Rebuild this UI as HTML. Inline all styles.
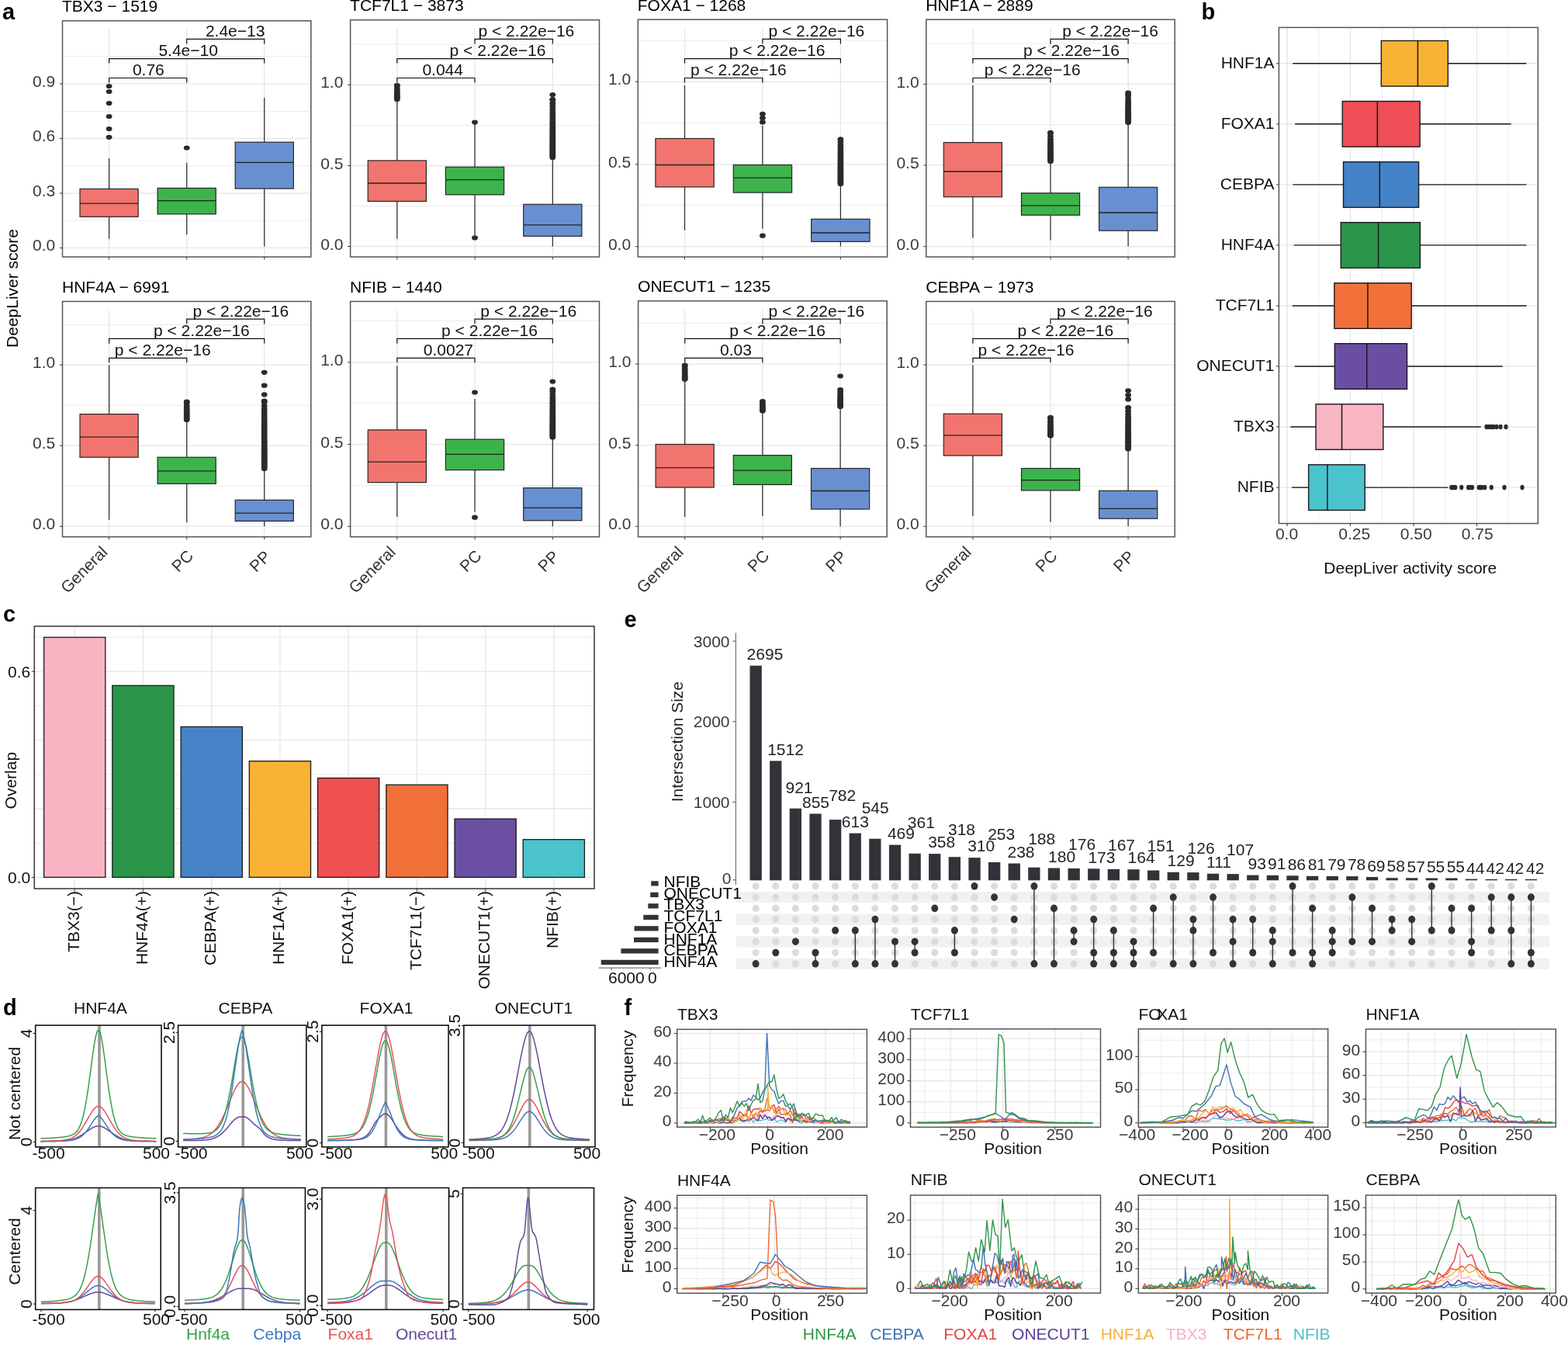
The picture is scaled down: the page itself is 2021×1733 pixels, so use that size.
<!DOCTYPE html>
<html><head><meta charset="utf-8"><style>html,body{margin:0;padding:0;background:#fff;overflow:hidden;width:2021px;height:1733px;}svg{display:block;}</style></head>
<body><svg width="2021" height="1733" viewBox="0 0 2021 1733" font-family="Liberation Sans, Arial, sans-serif">
<rect x="0" y="0" width="2021" height="1733" fill="#fff"/>
<line x1="80.5" y1="284.2" x2="400.8" y2="284.2" stroke="#e6e6e6" stroke-width="0.8"/>
<line x1="80.5" y1="213.8" x2="400.8" y2="213.8" stroke="#e6e6e6" stroke-width="0.8"/>
<line x1="80.5" y1="143.4" x2="400.8" y2="143.4" stroke="#e6e6e6" stroke-width="0.8"/>
<line x1="80.5" y1="72.5" x2="400.8" y2="72.5" stroke="#e6e6e6" stroke-width="0.8"/>
<line x1="80.5" y1="319.4" x2="400.8" y2="319.4" stroke="#e6e6e6" stroke-width="1.3"/>
<line x1="80.5" y1="249" x2="400.8" y2="249" stroke="#e6e6e6" stroke-width="1.3"/>
<line x1="80.5" y1="178.4" x2="400.8" y2="178.4" stroke="#e6e6e6" stroke-width="1.3"/>
<line x1="80.5" y1="107.9" x2="400.8" y2="107.9" stroke="#e6e6e6" stroke-width="1.3"/>
<line x1="140.6" y1="37.8" x2="140.6" y2="328" stroke="#e6e6e6" stroke-width="1.3"/>
<line x1="240.7" y1="37.8" x2="240.7" y2="328" stroke="#e6e6e6" stroke-width="1.3"/>
<line x1="340.7" y1="37.8" x2="340.7" y2="328" stroke="#e6e6e6" stroke-width="1.3"/>
<line x1="140.6" y1="203.9" x2="140.6" y2="243.4" stroke="#262626" stroke-width="1.2"/>
<line x1="140.6" y1="279.3" x2="140.6" y2="307.5" stroke="#262626" stroke-width="1.2"/>
<rect x="103" y="243.4" width="75.1" height="35.9" fill="#F1756E" stroke="#262626" stroke-width="1.2"/>
<line x1="103" y1="262.2" x2="178.1" y2="262.2" stroke="#222" stroke-width="1.3"/>
<ellipse cx="140.6" cy="111" rx="3.9" ry="3.1" fill="#2a2a2a"/>
<ellipse cx="140.6" cy="118" rx="3.9" ry="3.1" fill="#2a2a2a"/>
<ellipse cx="140.6" cy="133" rx="3.9" ry="3.1" fill="#2a2a2a"/>
<ellipse cx="140.6" cy="150" rx="3.9" ry="3.1" fill="#2a2a2a"/>
<ellipse cx="140.6" cy="166" rx="3.9" ry="3.1" fill="#2a2a2a"/>
<ellipse cx="140.6" cy="176.8" rx="3.9" ry="3.1" fill="#2a2a2a"/>
<line x1="240.7" y1="209.7" x2="240.7" y2="242.4" stroke="#262626" stroke-width="1.2"/>
<line x1="240.7" y1="275.8" x2="240.7" y2="302.2" stroke="#262626" stroke-width="1.2"/>
<rect x="203.1" y="242.4" width="75.1" height="33.4" fill="#3CB44B" stroke="#262626" stroke-width="1.2"/>
<line x1="203.1" y1="258.6" x2="278.2" y2="258.6" stroke="#222" stroke-width="1.3"/>
<ellipse cx="240.7" cy="190.5" rx="3.9" ry="3.1" fill="#2a2a2a"/>
<line x1="340.7" y1="126" x2="340.7" y2="183.2" stroke="#262626" stroke-width="1.2"/>
<line x1="340.7" y1="243" x2="340.7" y2="317.5" stroke="#262626" stroke-width="1.2"/>
<rect x="303.2" y="183.2" width="75.1" height="59.8" fill="#6890D0" stroke="#262626" stroke-width="1.2"/>
<line x1="303.2" y1="209.3" x2="378.3" y2="209.3" stroke="#222" stroke-width="1.3"/>
<rect x="80.5" y="26.8" width="320.3" height="304.2" fill="none" stroke="#555" stroke-width="1.5"/>
<line x1="77" y1="319.4" x2="80.5" y2="319.4" stroke="#333" stroke-width="1"/>
<text x="71.3" y="323.4" font-size="21" text-anchor="end" fill="#3a3a3a">0.0</text>
<line x1="77" y1="249" x2="80.5" y2="249" stroke="#333" stroke-width="1"/>
<text x="71.3" y="253" font-size="21" text-anchor="end" fill="#3a3a3a">0.3</text>
<line x1="77" y1="178.4" x2="80.5" y2="178.4" stroke="#333" stroke-width="1"/>
<text x="71.3" y="182.4" font-size="21" text-anchor="end" fill="#3a3a3a">0.6</text>
<line x1="77" y1="107.9" x2="80.5" y2="107.9" stroke="#333" stroke-width="1"/>
<text x="71.3" y="111.9" font-size="21" text-anchor="end" fill="#3a3a3a">0.9</text>
<line x1="140.6" y1="331" x2="140.6" y2="334.5" stroke="#333" stroke-width="1"/>
<line x1="240.7" y1="331" x2="240.7" y2="334.5" stroke="#333" stroke-width="1"/>
<line x1="340.7" y1="331" x2="340.7" y2="334.5" stroke="#333" stroke-width="1"/>
<text x="80" y="15.3" font-size="21">TBX3 − 1519</text>
<path d="M140.6 106.5 V100.5 H240.7 V106.5" stroke="#111" stroke-width="1.2" fill="none"/>
<text x="170.9" y="97.2" font-size="21" fill="#111">0.76</text>
<path d="M140.6 81.6 V75.6 H340.7 V81.6" stroke="#111" stroke-width="1.2" fill="none"/>
<text x="204.4" y="72.2" font-size="21" fill="#111">5.4e−10</text>
<path d="M240.7 56.4 V50.4 H340.7 V56.4" stroke="#111" stroke-width="1.2" fill="none"/>
<text x="264.9" y="47.3" font-size="21" fill="#111">2.4e−13</text>
<line x1="451.6" y1="265.4" x2="772.5" y2="265.4" stroke="#e6e6e6" stroke-width="0.8"/>
<line x1="451.6" y1="161.6" x2="772.5" y2="161.6" stroke="#e6e6e6" stroke-width="0.8"/>
<line x1="451.6" y1="57.2" x2="772.5" y2="57.2" stroke="#e6e6e6" stroke-width="0.8"/>
<line x1="451.6" y1="317.5" x2="772.5" y2="317.5" stroke="#e6e6e6" stroke-width="1.3"/>
<line x1="451.6" y1="213.5" x2="772.5" y2="213.5" stroke="#e6e6e6" stroke-width="1.3"/>
<line x1="451.6" y1="109.3" x2="772.5" y2="109.3" stroke="#e6e6e6" stroke-width="1.3"/>
<line x1="511.8" y1="36.7" x2="511.8" y2="328" stroke="#e6e6e6" stroke-width="1.3"/>
<line x1="612" y1="36.7" x2="612" y2="328" stroke="#e6e6e6" stroke-width="1.3"/>
<line x1="712.3" y1="36.7" x2="712.3" y2="328" stroke="#e6e6e6" stroke-width="1.3"/>
<line x1="511.8" y1="128" x2="511.8" y2="206.9" stroke="#262626" stroke-width="1.2"/>
<line x1="511.8" y1="259.4" x2="511.8" y2="307.5" stroke="#262626" stroke-width="1.2"/>
<rect x="474.2" y="206.9" width="75.2" height="52.5" fill="#F1756E" stroke="#262626" stroke-width="1.2"/>
<line x1="474.2" y1="236" x2="549.4" y2="236" stroke="#222" stroke-width="1.3"/>
<ellipse cx="511.8" cy="128" rx="3.9" ry="3.1" fill="#2a2a2a"/>
<ellipse cx="511.8" cy="126.4" rx="3.9" ry="3.1" fill="#2a2a2a"/>
<ellipse cx="511.8" cy="124.8" rx="3.9" ry="3.1" fill="#2a2a2a"/>
<ellipse cx="511.8" cy="123.1" rx="3.9" ry="3.1" fill="#2a2a2a"/>
<ellipse cx="511.8" cy="121.2" rx="3.9" ry="3.1" fill="#2a2a2a"/>
<ellipse cx="511.8" cy="119.2" rx="3.9" ry="3.1" fill="#2a2a2a"/>
<ellipse cx="511.8" cy="116.8" rx="3.9" ry="3.1" fill="#2a2a2a"/>
<ellipse cx="511.8" cy="114" rx="3.9" ry="3.1" fill="#2a2a2a"/>
<ellipse cx="511.8" cy="110.4" rx="3.9" ry="3.1" fill="#2a2a2a"/>
<ellipse cx="511.8" cy="110" rx="3.9" ry="3.1" fill="#2a2a2a"/>
<line x1="612" y1="158" x2="612" y2="215.2" stroke="#262626" stroke-width="1.2"/>
<line x1="612" y1="250.9" x2="612" y2="303" stroke="#262626" stroke-width="1.2"/>
<rect x="574.4" y="215.2" width="75.2" height="35.7" fill="#3CB44B" stroke="#262626" stroke-width="1.2"/>
<line x1="574.4" y1="231.7" x2="649.7" y2="231.7" stroke="#222" stroke-width="1.3"/>
<ellipse cx="612" cy="157.6" rx="3.9" ry="3.1" fill="#2a2a2a"/>
<ellipse cx="612" cy="306.4" rx="3.9" ry="3.1" fill="#2a2a2a"/>
<line x1="712.3" y1="203" x2="712.3" y2="263.3" stroke="#262626" stroke-width="1.2"/>
<line x1="712.3" y1="304.3" x2="712.3" y2="317.5" stroke="#262626" stroke-width="1.2"/>
<rect x="674.7" y="263.3" width="75.2" height="41" fill="#6890D0" stroke="#262626" stroke-width="1.2"/>
<line x1="674.7" y1="289.8" x2="749.9" y2="289.8" stroke="#222" stroke-width="1.3"/>
<ellipse cx="712.3" cy="203" rx="3.9" ry="3.1" fill="#2a2a2a"/>
<ellipse cx="712.3" cy="201.4" rx="3.9" ry="3.1" fill="#2a2a2a"/>
<ellipse cx="712.3" cy="199.8" rx="3.9" ry="3.1" fill="#2a2a2a"/>
<ellipse cx="712.3" cy="198.2" rx="3.9" ry="3.1" fill="#2a2a2a"/>
<ellipse cx="712.3" cy="196.6" rx="3.9" ry="3.1" fill="#2a2a2a"/>
<ellipse cx="712.3" cy="195" rx="3.9" ry="3.1" fill="#2a2a2a"/>
<ellipse cx="712.3" cy="193.3" rx="3.9" ry="3.1" fill="#2a2a2a"/>
<ellipse cx="712.3" cy="191.7" rx="3.9" ry="3.1" fill="#2a2a2a"/>
<ellipse cx="712.3" cy="190" rx="3.9" ry="3.1" fill="#2a2a2a"/>
<ellipse cx="712.3" cy="188.3" rx="3.9" ry="3.1" fill="#2a2a2a"/>
<ellipse cx="712.3" cy="186.6" rx="3.9" ry="3.1" fill="#2a2a2a"/>
<ellipse cx="712.3" cy="184.8" rx="3.9" ry="3.1" fill="#2a2a2a"/>
<ellipse cx="712.3" cy="183" rx="3.9" ry="3.1" fill="#2a2a2a"/>
<ellipse cx="712.3" cy="181.2" rx="3.9" ry="3.1" fill="#2a2a2a"/>
<ellipse cx="712.3" cy="179.3" rx="3.9" ry="3.1" fill="#2a2a2a"/>
<ellipse cx="712.3" cy="177.4" rx="3.9" ry="3.1" fill="#2a2a2a"/>
<ellipse cx="712.3" cy="175.4" rx="3.9" ry="3.1" fill="#2a2a2a"/>
<ellipse cx="712.3" cy="173.4" rx="3.9" ry="3.1" fill="#2a2a2a"/>
<ellipse cx="712.3" cy="171.3" rx="3.9" ry="3.1" fill="#2a2a2a"/>
<ellipse cx="712.3" cy="169.1" rx="3.9" ry="3.1" fill="#2a2a2a"/>
<ellipse cx="712.3" cy="166.9" rx="3.9" ry="3.1" fill="#2a2a2a"/>
<ellipse cx="712.3" cy="164.5" rx="3.9" ry="3.1" fill="#2a2a2a"/>
<ellipse cx="712.3" cy="162.1" rx="3.9" ry="3.1" fill="#2a2a2a"/>
<ellipse cx="712.3" cy="159.6" rx="3.9" ry="3.1" fill="#2a2a2a"/>
<ellipse cx="712.3" cy="156.9" rx="3.9" ry="3.1" fill="#2a2a2a"/>
<ellipse cx="712.3" cy="154.1" rx="3.9" ry="3.1" fill="#2a2a2a"/>
<ellipse cx="712.3" cy="151.1" rx="3.9" ry="3.1" fill="#2a2a2a"/>
<ellipse cx="712.3" cy="148" rx="3.9" ry="3.1" fill="#2a2a2a"/>
<ellipse cx="712.3" cy="144.7" rx="3.9" ry="3.1" fill="#2a2a2a"/>
<ellipse cx="712.3" cy="141.1" rx="3.9" ry="3.1" fill="#2a2a2a"/>
<ellipse cx="712.3" cy="137.3" rx="3.9" ry="3.1" fill="#2a2a2a"/>
<ellipse cx="712.3" cy="133.3" rx="3.9" ry="3.1" fill="#2a2a2a"/>
<ellipse cx="712.3" cy="128.9" rx="3.9" ry="3.1" fill="#2a2a2a"/>
<ellipse cx="712.3" cy="128" rx="3.9" ry="3.1" fill="#2a2a2a"/>
<ellipse cx="712.3" cy="122" rx="3.9" ry="3.1" fill="#2a2a2a"/>
<rect x="451.6" y="25.7" width="320.9" height="305.3" fill="none" stroke="#555" stroke-width="1.5"/>
<line x1="448.1" y1="317.5" x2="451.6" y2="317.5" stroke="#333" stroke-width="1"/>
<text x="442.4" y="321.5" font-size="21" text-anchor="end" fill="#3a3a3a">0.0</text>
<line x1="448.1" y1="213.5" x2="451.6" y2="213.5" stroke="#333" stroke-width="1"/>
<text x="442.4" y="217.5" font-size="21" text-anchor="end" fill="#3a3a3a">0.5</text>
<line x1="448.1" y1="109.3" x2="451.6" y2="109.3" stroke="#333" stroke-width="1"/>
<text x="442.4" y="113.3" font-size="21" text-anchor="end" fill="#3a3a3a">1.0</text>
<line x1="511.8" y1="331" x2="511.8" y2="334.5" stroke="#333" stroke-width="1"/>
<line x1="612" y1="331" x2="612" y2="334.5" stroke="#333" stroke-width="1"/>
<line x1="712.3" y1="331" x2="712.3" y2="334.5" stroke="#333" stroke-width="1"/>
<text x="451.1" y="14.2" font-size="21">TCF7L1 − 3873</text>
<path d="M511.8 106.5 V100.5 H612 V106.5" stroke="#111" stroke-width="1.2" fill="none"/>
<text x="544.4" y="97.2" font-size="21" fill="#111">0.044</text>
<path d="M511.8 81.6 V75.6 H712.3 V81.6" stroke="#111" stroke-width="1.2" fill="none"/>
<text x="579.6" y="72.2" font-size="21" fill="#111">p &lt; 2.22e−16</text>
<path d="M612 56.4 V50.4 H712.3 V56.4" stroke="#111" stroke-width="1.2" fill="none"/>
<text x="616.5" y="47.3" font-size="21" fill="#111">p &lt; 2.22e−16</text>
<line x1="822.3" y1="264.4" x2="1143.6" y2="264.4" stroke="#e6e6e6" stroke-width="0.8"/>
<line x1="822.3" y1="158.7" x2="1143.6" y2="158.7" stroke="#e6e6e6" stroke-width="0.8"/>
<line x1="822.3" y1="52.3" x2="1143.6" y2="52.3" stroke="#e6e6e6" stroke-width="0.8"/>
<line x1="822.3" y1="317.7" x2="1143.6" y2="317.7" stroke="#e6e6e6" stroke-width="1.3"/>
<line x1="822.3" y1="211.8" x2="1143.6" y2="211.8" stroke="#e6e6e6" stroke-width="1.3"/>
<line x1="822.3" y1="105.3" x2="1143.6" y2="105.3" stroke="#e6e6e6" stroke-width="1.3"/>
<line x1="882.5" y1="36.2" x2="882.5" y2="328" stroke="#e6e6e6" stroke-width="1.3"/>
<line x1="982.9" y1="36.2" x2="982.9" y2="328" stroke="#e6e6e6" stroke-width="1.3"/>
<line x1="1083.4" y1="36.2" x2="1083.4" y2="328" stroke="#e6e6e6" stroke-width="1.3"/>
<line x1="882.5" y1="110" x2="882.5" y2="178.5" stroke="#262626" stroke-width="1.2"/>
<line x1="882.5" y1="240.9" x2="882.5" y2="296.8" stroke="#262626" stroke-width="1.2"/>
<rect x="844.9" y="178.5" width="75.3" height="62.4" fill="#F1756E" stroke="#262626" stroke-width="1.2"/>
<line x1="844.9" y1="212.5" x2="920.2" y2="212.5" stroke="#222" stroke-width="1.3"/>
<line x1="982.9" y1="161.9" x2="982.9" y2="212.5" stroke="#262626" stroke-width="1.2"/>
<line x1="982.9" y1="248.1" x2="982.9" y2="294.7" stroke="#262626" stroke-width="1.2"/>
<rect x="945.3" y="212.5" width="75.3" height="35.6" fill="#3CB44B" stroke="#262626" stroke-width="1.2"/>
<line x1="945.3" y1="229.1" x2="1020.6" y2="229.1" stroke="#222" stroke-width="1.3"/>
<ellipse cx="982.9" cy="146.9" rx="3.9" ry="3.1" fill="#2a2a2a"/>
<ellipse cx="982.9" cy="152" rx="3.9" ry="3.1" fill="#2a2a2a"/>
<ellipse cx="982.9" cy="157.4" rx="3.9" ry="3.1" fill="#2a2a2a"/>
<ellipse cx="982.9" cy="303.7" rx="3.9" ry="3.1" fill="#2a2a2a"/>
<line x1="1083.4" y1="239" x2="1083.4" y2="282.3" stroke="#262626" stroke-width="1.2"/>
<line x1="1083.4" y1="311.3" x2="1083.4" y2="317.5" stroke="#262626" stroke-width="1.2"/>
<rect x="1045.7" y="282.3" width="75.3" height="29" fill="#6890D0" stroke="#262626" stroke-width="1.2"/>
<line x1="1045.7" y1="300" x2="1121" y2="300" stroke="#222" stroke-width="1.3"/>
<ellipse cx="1083.4" cy="237" rx="3.9" ry="3.1" fill="#2a2a2a"/>
<ellipse cx="1083.4" cy="235.4" rx="3.9" ry="3.1" fill="#2a2a2a"/>
<ellipse cx="1083.4" cy="233.8" rx="3.9" ry="3.1" fill="#2a2a2a"/>
<ellipse cx="1083.4" cy="232.2" rx="3.9" ry="3.1" fill="#2a2a2a"/>
<ellipse cx="1083.4" cy="230.6" rx="3.9" ry="3.1" fill="#2a2a2a"/>
<ellipse cx="1083.4" cy="228.9" rx="3.9" ry="3.1" fill="#2a2a2a"/>
<ellipse cx="1083.4" cy="227.3" rx="3.9" ry="3.1" fill="#2a2a2a"/>
<ellipse cx="1083.4" cy="225.6" rx="3.9" ry="3.1" fill="#2a2a2a"/>
<ellipse cx="1083.4" cy="223.8" rx="3.9" ry="3.1" fill="#2a2a2a"/>
<ellipse cx="1083.4" cy="222.1" rx="3.9" ry="3.1" fill="#2a2a2a"/>
<ellipse cx="1083.4" cy="220.3" rx="3.9" ry="3.1" fill="#2a2a2a"/>
<ellipse cx="1083.4" cy="218.4" rx="3.9" ry="3.1" fill="#2a2a2a"/>
<ellipse cx="1083.4" cy="216.5" rx="3.9" ry="3.1" fill="#2a2a2a"/>
<ellipse cx="1083.4" cy="214.5" rx="3.9" ry="3.1" fill="#2a2a2a"/>
<ellipse cx="1083.4" cy="212.4" rx="3.9" ry="3.1" fill="#2a2a2a"/>
<ellipse cx="1083.4" cy="210.2" rx="3.9" ry="3.1" fill="#2a2a2a"/>
<ellipse cx="1083.4" cy="207.9" rx="3.9" ry="3.1" fill="#2a2a2a"/>
<ellipse cx="1083.4" cy="205.5" rx="3.9" ry="3.1" fill="#2a2a2a"/>
<ellipse cx="1083.4" cy="202.9" rx="3.9" ry="3.1" fill="#2a2a2a"/>
<ellipse cx="1083.4" cy="200.2" rx="3.9" ry="3.1" fill="#2a2a2a"/>
<ellipse cx="1083.4" cy="197.3" rx="3.9" ry="3.1" fill="#2a2a2a"/>
<ellipse cx="1083.4" cy="194.2" rx="3.9" ry="3.1" fill="#2a2a2a"/>
<ellipse cx="1083.4" cy="190.8" rx="3.9" ry="3.1" fill="#2a2a2a"/>
<ellipse cx="1083.4" cy="187.1" rx="3.9" ry="3.1" fill="#2a2a2a"/>
<ellipse cx="1083.4" cy="183.1" rx="3.9" ry="3.1" fill="#2a2a2a"/>
<ellipse cx="1083.4" cy="179.4" rx="3.9" ry="3.1" fill="#2a2a2a"/>
<rect x="822.3" y="25.2" width="321.3" height="305.8" fill="none" stroke="#555" stroke-width="1.5"/>
<line x1="818.8" y1="317.7" x2="822.3" y2="317.7" stroke="#333" stroke-width="1"/>
<text x="813.1" y="321.7" font-size="21" text-anchor="end" fill="#3a3a3a">0.0</text>
<line x1="818.8" y1="211.8" x2="822.3" y2="211.8" stroke="#333" stroke-width="1"/>
<text x="813.1" y="215.8" font-size="21" text-anchor="end" fill="#3a3a3a">0.5</text>
<line x1="818.8" y1="105.3" x2="822.3" y2="105.3" stroke="#333" stroke-width="1"/>
<text x="813.1" y="109.3" font-size="21" text-anchor="end" fill="#3a3a3a">1.0</text>
<line x1="882.5" y1="331" x2="882.5" y2="334.5" stroke="#333" stroke-width="1"/>
<line x1="982.9" y1="331" x2="982.9" y2="334.5" stroke="#333" stroke-width="1"/>
<line x1="1083.4" y1="331" x2="1083.4" y2="334.5" stroke="#333" stroke-width="1"/>
<text x="821.8" y="13.7" font-size="21">FOXA1 − 1268</text>
<path d="M882.5 106.5 V100.5 H982.9 V106.5" stroke="#111" stroke-width="1.2" fill="none"/>
<text x="890" y="97.2" font-size="21" fill="#111">p &lt; 2.22e−16</text>
<path d="M882.5 81.6 V75.6 H1083.4 V81.6" stroke="#111" stroke-width="1.2" fill="none"/>
<text x="939.7" y="72.2" font-size="21" fill="#111">p &lt; 2.22e−16</text>
<path d="M982.9 56.4 V50.4 H1083.4 V56.4" stroke="#111" stroke-width="1.2" fill="none"/>
<text x="990.5" y="47.3" font-size="21" fill="#111">p &lt; 2.22e−16</text>
<line x1="1193.8" y1="265.4" x2="1514.2" y2="265.4" stroke="#e6e6e6" stroke-width="0.8"/>
<line x1="1193.8" y1="160.6" x2="1514.2" y2="160.6" stroke="#e6e6e6" stroke-width="0.8"/>
<line x1="1193.8" y1="56" x2="1514.2" y2="56" stroke="#e6e6e6" stroke-width="0.8"/>
<line x1="1193.8" y1="317.7" x2="1514.2" y2="317.7" stroke="#e6e6e6" stroke-width="1.3"/>
<line x1="1193.8" y1="212.9" x2="1514.2" y2="212.9" stroke="#e6e6e6" stroke-width="1.3"/>
<line x1="1193.8" y1="108.5" x2="1514.2" y2="108.5" stroke="#e6e6e6" stroke-width="1.3"/>
<line x1="1253.9" y1="36.2" x2="1253.9" y2="328" stroke="#e6e6e6" stroke-width="1.3"/>
<line x1="1354" y1="36.2" x2="1354" y2="328" stroke="#e6e6e6" stroke-width="1.3"/>
<line x1="1454.1" y1="36.2" x2="1454.1" y2="328" stroke="#e6e6e6" stroke-width="1.3"/>
<line x1="1253.9" y1="110" x2="1253.9" y2="183.6" stroke="#262626" stroke-width="1.2"/>
<line x1="1253.9" y1="253.7" x2="1253.9" y2="306.4" stroke="#262626" stroke-width="1.2"/>
<rect x="1216.3" y="183.6" width="75.1" height="70.1" fill="#F1756E" stroke="#262626" stroke-width="1.2"/>
<line x1="1216.3" y1="221" x2="1291.4" y2="221" stroke="#222" stroke-width="1.3"/>
<line x1="1354" y1="208.2" x2="1354" y2="248.8" stroke="#262626" stroke-width="1.2"/>
<line x1="1354" y1="277.2" x2="1354" y2="309.6" stroke="#262626" stroke-width="1.2"/>
<rect x="1316.5" y="248.8" width="75.1" height="28.4" fill="#3CB44B" stroke="#262626" stroke-width="1.2"/>
<line x1="1316.5" y1="264.8" x2="1391.5" y2="264.8" stroke="#222" stroke-width="1.3"/>
<ellipse cx="1354" cy="208" rx="3.9" ry="3.1" fill="#2a2a2a"/>
<ellipse cx="1354" cy="206.4" rx="3.9" ry="3.1" fill="#2a2a2a"/>
<ellipse cx="1354" cy="204.8" rx="3.9" ry="3.1" fill="#2a2a2a"/>
<ellipse cx="1354" cy="203.2" rx="3.9" ry="3.1" fill="#2a2a2a"/>
<ellipse cx="1354" cy="201.5" rx="3.9" ry="3.1" fill="#2a2a2a"/>
<ellipse cx="1354" cy="199.8" rx="3.9" ry="3.1" fill="#2a2a2a"/>
<ellipse cx="1354" cy="198.1" rx="3.9" ry="3.1" fill="#2a2a2a"/>
<ellipse cx="1354" cy="196.2" rx="3.9" ry="3.1" fill="#2a2a2a"/>
<ellipse cx="1354" cy="194.3" rx="3.9" ry="3.1" fill="#2a2a2a"/>
<ellipse cx="1354" cy="192.3" rx="3.9" ry="3.1" fill="#2a2a2a"/>
<ellipse cx="1354" cy="190.1" rx="3.9" ry="3.1" fill="#2a2a2a"/>
<ellipse cx="1354" cy="187.8" rx="3.9" ry="3.1" fill="#2a2a2a"/>
<ellipse cx="1354" cy="185.2" rx="3.9" ry="3.1" fill="#2a2a2a"/>
<ellipse cx="1354" cy="182.4" rx="3.9" ry="3.1" fill="#2a2a2a"/>
<ellipse cx="1354" cy="179.3" rx="3.9" ry="3.1" fill="#2a2a2a"/>
<ellipse cx="1354" cy="175.8" rx="3.9" ry="3.1" fill="#2a2a2a"/>
<ellipse cx="1354" cy="171.8" rx="3.9" ry="3.1" fill="#2a2a2a"/>
<ellipse cx="1354" cy="170.8" rx="3.9" ry="3.1" fill="#2a2a2a"/>
<line x1="1454.1" y1="158" x2="1454.1" y2="241.3" stroke="#262626" stroke-width="1.2"/>
<line x1="1454.1" y1="297.2" x2="1454.1" y2="317.5" stroke="#262626" stroke-width="1.2"/>
<rect x="1416.6" y="241.3" width="75.1" height="55.9" fill="#6890D0" stroke="#262626" stroke-width="1.2"/>
<line x1="1416.6" y1="274" x2="1491.7" y2="274" stroke="#222" stroke-width="1.3"/>
<ellipse cx="1454.1" cy="158" rx="3.9" ry="3.1" fill="#2a2a2a"/>
<ellipse cx="1454.1" cy="156.4" rx="3.9" ry="3.1" fill="#2a2a2a"/>
<ellipse cx="1454.1" cy="154.8" rx="3.9" ry="3.1" fill="#2a2a2a"/>
<ellipse cx="1454.1" cy="153.2" rx="3.9" ry="3.1" fill="#2a2a2a"/>
<ellipse cx="1454.1" cy="151.5" rx="3.9" ry="3.1" fill="#2a2a2a"/>
<ellipse cx="1454.1" cy="149.8" rx="3.9" ry="3.1" fill="#2a2a2a"/>
<ellipse cx="1454.1" cy="148.1" rx="3.9" ry="3.1" fill="#2a2a2a"/>
<ellipse cx="1454.1" cy="146.3" rx="3.9" ry="3.1" fill="#2a2a2a"/>
<ellipse cx="1454.1" cy="144.4" rx="3.9" ry="3.1" fill="#2a2a2a"/>
<ellipse cx="1454.1" cy="142.4" rx="3.9" ry="3.1" fill="#2a2a2a"/>
<ellipse cx="1454.1" cy="140.2" rx="3.9" ry="3.1" fill="#2a2a2a"/>
<ellipse cx="1454.1" cy="138" rx="3.9" ry="3.1" fill="#2a2a2a"/>
<ellipse cx="1454.1" cy="135.5" rx="3.9" ry="3.1" fill="#2a2a2a"/>
<ellipse cx="1454.1" cy="132.8" rx="3.9" ry="3.1" fill="#2a2a2a"/>
<ellipse cx="1454.1" cy="129.8" rx="3.9" ry="3.1" fill="#2a2a2a"/>
<ellipse cx="1454.1" cy="126.5" rx="3.9" ry="3.1" fill="#2a2a2a"/>
<ellipse cx="1454.1" cy="122.7" rx="3.9" ry="3.1" fill="#2a2a2a"/>
<ellipse cx="1454.1" cy="119.6" rx="3.9" ry="3.1" fill="#2a2a2a"/>
<rect x="1193.8" y="25.2" width="320.4" height="305.8" fill="none" stroke="#555" stroke-width="1.5"/>
<line x1="1190.3" y1="317.7" x2="1193.8" y2="317.7" stroke="#333" stroke-width="1"/>
<text x="1184.6" y="321.7" font-size="21" text-anchor="end" fill="#3a3a3a">0.0</text>
<line x1="1190.3" y1="212.9" x2="1193.8" y2="212.9" stroke="#333" stroke-width="1"/>
<text x="1184.6" y="216.9" font-size="21" text-anchor="end" fill="#3a3a3a">0.5</text>
<line x1="1190.3" y1="108.5" x2="1193.8" y2="108.5" stroke="#333" stroke-width="1"/>
<text x="1184.6" y="112.5" font-size="21" text-anchor="end" fill="#3a3a3a">1.0</text>
<line x1="1253.9" y1="331" x2="1253.9" y2="334.5" stroke="#333" stroke-width="1"/>
<line x1="1354" y1="331" x2="1354" y2="334.5" stroke="#333" stroke-width="1"/>
<line x1="1454.1" y1="331" x2="1454.1" y2="334.5" stroke="#333" stroke-width="1"/>
<text x="1193.3" y="13.7" font-size="21">HNF1A − 2889</text>
<path d="M1253.9 106.5 V100.5 H1354 V106.5" stroke="#111" stroke-width="1.2" fill="none"/>
<text x="1268.8" y="97.2" font-size="21" fill="#111">p &lt; 2.22e−16</text>
<path d="M1253.9 81.6 V75.6 H1454.1 V81.6" stroke="#111" stroke-width="1.2" fill="none"/>
<text x="1319.1" y="72.2" font-size="21" fill="#111">p &lt; 2.22e−16</text>
<path d="M1354 56.4 V50.4 H1454.1 V56.4" stroke="#111" stroke-width="1.2" fill="none"/>
<text x="1369.2" y="47.3" font-size="21" fill="#111">p &lt; 2.22e−16</text>
<line x1="80.5" y1="626.1" x2="400.8" y2="626.1" stroke="#e6e6e6" stroke-width="0.8"/>
<line x1="80.5" y1="522.3" x2="400.8" y2="522.3" stroke="#e6e6e6" stroke-width="0.8"/>
<line x1="80.5" y1="418.3" x2="400.8" y2="418.3" stroke="#e6e6e6" stroke-width="0.8"/>
<line x1="80.5" y1="678.2" x2="400.8" y2="678.2" stroke="#e6e6e6" stroke-width="1.3"/>
<line x1="80.5" y1="574.2" x2="400.8" y2="574.2" stroke="#e6e6e6" stroke-width="1.3"/>
<line x1="80.5" y1="470.2" x2="400.8" y2="470.2" stroke="#e6e6e6" stroke-width="1.3"/>
<line x1="140.6" y1="399.4" x2="140.6" y2="688.7" stroke="#e6e6e6" stroke-width="1.3"/>
<line x1="240.7" y1="399.4" x2="240.7" y2="688.7" stroke="#e6e6e6" stroke-width="1.3"/>
<line x1="340.7" y1="399.4" x2="340.7" y2="688.7" stroke="#e6e6e6" stroke-width="1.3"/>
<line x1="140.6" y1="470.2" x2="140.6" y2="533.6" stroke="#262626" stroke-width="1.2"/>
<line x1="140.6" y1="589.2" x2="140.6" y2="669.7" stroke="#262626" stroke-width="1.2"/>
<rect x="103" y="533.6" width="75.1" height="55.6" fill="#F1756E" stroke="#262626" stroke-width="1.2"/>
<line x1="103" y1="563.1" x2="178.1" y2="563.1" stroke="#222" stroke-width="1.3"/>
<line x1="240.7" y1="541" x2="240.7" y2="589.2" stroke="#262626" stroke-width="1.2"/>
<line x1="240.7" y1="623.3" x2="240.7" y2="672.9" stroke="#262626" stroke-width="1.2"/>
<rect x="203.1" y="589.2" width="75.1" height="34.1" fill="#3CB44B" stroke="#262626" stroke-width="1.2"/>
<line x1="203.1" y1="606.9" x2="278.2" y2="606.9" stroke="#222" stroke-width="1.3"/>
<ellipse cx="240.7" cy="541" rx="3.9" ry="3.1" fill="#2a2a2a"/>
<ellipse cx="240.7" cy="539.4" rx="3.9" ry="3.1" fill="#2a2a2a"/>
<ellipse cx="240.7" cy="537.8" rx="3.9" ry="3.1" fill="#2a2a2a"/>
<ellipse cx="240.7" cy="536.1" rx="3.9" ry="3.1" fill="#2a2a2a"/>
<ellipse cx="240.7" cy="534.4" rx="3.9" ry="3.1" fill="#2a2a2a"/>
<ellipse cx="240.7" cy="532.5" rx="3.9" ry="3.1" fill="#2a2a2a"/>
<ellipse cx="240.7" cy="530.5" rx="3.9" ry="3.1" fill="#2a2a2a"/>
<ellipse cx="240.7" cy="528.3" rx="3.9" ry="3.1" fill="#2a2a2a"/>
<ellipse cx="240.7" cy="525.7" rx="3.9" ry="3.1" fill="#2a2a2a"/>
<ellipse cx="240.7" cy="522.8" rx="3.9" ry="3.1" fill="#2a2a2a"/>
<ellipse cx="240.7" cy="519.2" rx="3.9" ry="3.1" fill="#2a2a2a"/>
<ellipse cx="240.7" cy="517.6" rx="3.9" ry="3.1" fill="#2a2a2a"/>
<line x1="340.7" y1="604.1" x2="340.7" y2="644.3" stroke="#262626" stroke-width="1.2"/>
<line x1="340.7" y1="671.4" x2="340.7" y2="678.2" stroke="#262626" stroke-width="1.2"/>
<rect x="303.2" y="644.3" width="75.1" height="27.1" fill="#6890D0" stroke="#262626" stroke-width="1.2"/>
<line x1="303.2" y1="661.1" x2="378.3" y2="661.1" stroke="#222" stroke-width="1.3"/>
<ellipse cx="340.7" cy="604" rx="3.9" ry="3.1" fill="#2a2a2a"/>
<ellipse cx="340.7" cy="602.4" rx="3.9" ry="3.1" fill="#2a2a2a"/>
<ellipse cx="340.7" cy="600.8" rx="3.9" ry="3.1" fill="#2a2a2a"/>
<ellipse cx="340.7" cy="599.2" rx="3.9" ry="3.1" fill="#2a2a2a"/>
<ellipse cx="340.7" cy="597.6" rx="3.9" ry="3.1" fill="#2a2a2a"/>
<ellipse cx="340.7" cy="596" rx="3.9" ry="3.1" fill="#2a2a2a"/>
<ellipse cx="340.7" cy="594.3" rx="3.9" ry="3.1" fill="#2a2a2a"/>
<ellipse cx="340.7" cy="592.7" rx="3.9" ry="3.1" fill="#2a2a2a"/>
<ellipse cx="340.7" cy="591" rx="3.9" ry="3.1" fill="#2a2a2a"/>
<ellipse cx="340.7" cy="589.4" rx="3.9" ry="3.1" fill="#2a2a2a"/>
<ellipse cx="340.7" cy="587.7" rx="3.9" ry="3.1" fill="#2a2a2a"/>
<ellipse cx="340.7" cy="586" rx="3.9" ry="3.1" fill="#2a2a2a"/>
<ellipse cx="340.7" cy="584.2" rx="3.9" ry="3.1" fill="#2a2a2a"/>
<ellipse cx="340.7" cy="582.5" rx="3.9" ry="3.1" fill="#2a2a2a"/>
<ellipse cx="340.7" cy="580.7" rx="3.9" ry="3.1" fill="#2a2a2a"/>
<ellipse cx="340.7" cy="578.9" rx="3.9" ry="3.1" fill="#2a2a2a"/>
<ellipse cx="340.7" cy="577" rx="3.9" ry="3.1" fill="#2a2a2a"/>
<ellipse cx="340.7" cy="575.1" rx="3.9" ry="3.1" fill="#2a2a2a"/>
<ellipse cx="340.7" cy="573.1" rx="3.9" ry="3.1" fill="#2a2a2a"/>
<ellipse cx="340.7" cy="571.1" rx="3.9" ry="3.1" fill="#2a2a2a"/>
<ellipse cx="340.7" cy="569.1" rx="3.9" ry="3.1" fill="#2a2a2a"/>
<ellipse cx="340.7" cy="567" rx="3.9" ry="3.1" fill="#2a2a2a"/>
<ellipse cx="340.7" cy="564.8" rx="3.9" ry="3.1" fill="#2a2a2a"/>
<ellipse cx="340.7" cy="562.6" rx="3.9" ry="3.1" fill="#2a2a2a"/>
<ellipse cx="340.7" cy="560.2" rx="3.9" ry="3.1" fill="#2a2a2a"/>
<ellipse cx="340.7" cy="557.8" rx="3.9" ry="3.1" fill="#2a2a2a"/>
<ellipse cx="340.7" cy="555.3" rx="3.9" ry="3.1" fill="#2a2a2a"/>
<ellipse cx="340.7" cy="552.7" rx="3.9" ry="3.1" fill="#2a2a2a"/>
<ellipse cx="340.7" cy="550" rx="3.9" ry="3.1" fill="#2a2a2a"/>
<ellipse cx="340.7" cy="547.2" rx="3.9" ry="3.1" fill="#2a2a2a"/>
<ellipse cx="340.7" cy="544.3" rx="3.9" ry="3.1" fill="#2a2a2a"/>
<ellipse cx="340.7" cy="541.2" rx="3.9" ry="3.1" fill="#2a2a2a"/>
<ellipse cx="340.7" cy="537.9" rx="3.9" ry="3.1" fill="#2a2a2a"/>
<ellipse cx="340.7" cy="534.5" rx="3.9" ry="3.1" fill="#2a2a2a"/>
<ellipse cx="340.7" cy="530.9" rx="3.9" ry="3.1" fill="#2a2a2a"/>
<ellipse cx="340.7" cy="527" rx="3.9" ry="3.1" fill="#2a2a2a"/>
<ellipse cx="340.7" cy="523" rx="3.9" ry="3.1" fill="#2a2a2a"/>
<ellipse cx="340.7" cy="518.6" rx="3.9" ry="3.1" fill="#2a2a2a"/>
<ellipse cx="340.7" cy="516.6" rx="3.9" ry="3.1" fill="#2a2a2a"/>
<ellipse cx="340.7" cy="508.4" rx="3.9" ry="3.1" fill="#2a2a2a"/>
<ellipse cx="340.7" cy="496.7" rx="3.9" ry="3.1" fill="#2a2a2a"/>
<ellipse cx="340.7" cy="479.8" rx="3.9" ry="3.1" fill="#2a2a2a"/>
<rect x="80.5" y="388.4" width="320.3" height="303.3" fill="none" stroke="#555" stroke-width="1.5"/>
<line x1="77" y1="678.2" x2="80.5" y2="678.2" stroke="#333" stroke-width="1"/>
<text x="71.3" y="682.2" font-size="21" text-anchor="end" fill="#3a3a3a">0.0</text>
<line x1="77" y1="574.2" x2="80.5" y2="574.2" stroke="#333" stroke-width="1"/>
<text x="71.3" y="578.2" font-size="21" text-anchor="end" fill="#3a3a3a">0.5</text>
<line x1="77" y1="470.2" x2="80.5" y2="470.2" stroke="#333" stroke-width="1"/>
<text x="71.3" y="474.2" font-size="21" text-anchor="end" fill="#3a3a3a">1.0</text>
<line x1="140.6" y1="691.7" x2="140.6" y2="695.2" stroke="#333" stroke-width="1"/>
<line x1="240.7" y1="691.7" x2="240.7" y2="695.2" stroke="#333" stroke-width="1"/>
<line x1="340.7" y1="691.7" x2="340.7" y2="695.2" stroke="#333" stroke-width="1"/>
<text x="80" y="376.9" font-size="21">HNF4A − 6991</text>
<path d="M140.6 467.3 V461.3 H240.7 V467.3" stroke="#111" stroke-width="1.2" fill="none"/>
<text x="147.8" y="458" font-size="21" fill="#111">p &lt; 2.22e−16</text>
<path d="M140.6 442.4 V436.4 H340.7 V442.4" stroke="#111" stroke-width="1.2" fill="none"/>
<text x="198" y="433" font-size="21" fill="#111">p &lt; 2.22e−16</text>
<path d="M240.7 417.2 V411.2 H340.7 V417.2" stroke="#111" stroke-width="1.2" fill="none"/>
<text x="248.4" y="408.1" font-size="21" fill="#111">p &lt; 2.22e−16</text>
<line x1="451.6" y1="625.5" x2="772.5" y2="625.5" stroke="#e6e6e6" stroke-width="0.8"/>
<line x1="451.6" y1="519.3" x2="772.5" y2="519.3" stroke="#e6e6e6" stroke-width="0.8"/>
<line x1="451.6" y1="413.4" x2="772.5" y2="413.4" stroke="#e6e6e6" stroke-width="0.8"/>
<line x1="451.6" y1="678.2" x2="772.5" y2="678.2" stroke="#e6e6e6" stroke-width="1.3"/>
<line x1="451.6" y1="572.5" x2="772.5" y2="572.5" stroke="#e6e6e6" stroke-width="1.3"/>
<line x1="451.6" y1="466.8" x2="772.5" y2="466.8" stroke="#e6e6e6" stroke-width="1.3"/>
<line x1="511.8" y1="399.4" x2="511.8" y2="688.7" stroke="#e6e6e6" stroke-width="1.3"/>
<line x1="612" y1="399.4" x2="612" y2="688.7" stroke="#e6e6e6" stroke-width="1.3"/>
<line x1="712.3" y1="399.4" x2="712.3" y2="688.7" stroke="#e6e6e6" stroke-width="1.3"/>
<line x1="511.8" y1="471.3" x2="511.8" y2="553.9" stroke="#262626" stroke-width="1.2"/>
<line x1="511.8" y1="621.6" x2="511.8" y2="666" stroke="#262626" stroke-width="1.2"/>
<rect x="474.2" y="553.9" width="75.2" height="67.7" fill="#F1756E" stroke="#262626" stroke-width="1.2"/>
<line x1="474.2" y1="595.1" x2="549.4" y2="595.1" stroke="#222" stroke-width="1.3"/>
<line x1="612" y1="514" x2="612" y2="566.1" stroke="#262626" stroke-width="1.2"/>
<line x1="612" y1="605.6" x2="612" y2="659.6" stroke="#262626" stroke-width="1.2"/>
<rect x="574.4" y="566.1" width="75.2" height="39.5" fill="#3CB44B" stroke="#262626" stroke-width="1.2"/>
<line x1="574.4" y1="585.3" x2="649.7" y2="585.3" stroke="#222" stroke-width="1.3"/>
<ellipse cx="612" cy="505.5" rx="3.9" ry="3.1" fill="#2a2a2a"/>
<ellipse cx="612" cy="666.7" rx="3.9" ry="3.1" fill="#2a2a2a"/>
<line x1="712.3" y1="563.5" x2="712.3" y2="628.7" stroke="#262626" stroke-width="1.2"/>
<line x1="712.3" y1="670.7" x2="712.3" y2="678.2" stroke="#262626" stroke-width="1.2"/>
<rect x="674.7" y="628.7" width="75.2" height="42" fill="#6890D0" stroke="#262626" stroke-width="1.2"/>
<line x1="674.7" y1="654.3" x2="749.9" y2="654.3" stroke="#222" stroke-width="1.3"/>
<ellipse cx="712.3" cy="563.5" rx="3.9" ry="3.1" fill="#2a2a2a"/>
<ellipse cx="712.3" cy="561.9" rx="3.9" ry="3.1" fill="#2a2a2a"/>
<ellipse cx="712.3" cy="560.3" rx="3.9" ry="3.1" fill="#2a2a2a"/>
<ellipse cx="712.3" cy="558.7" rx="3.9" ry="3.1" fill="#2a2a2a"/>
<ellipse cx="712.3" cy="557.1" rx="3.9" ry="3.1" fill="#2a2a2a"/>
<ellipse cx="712.3" cy="555.4" rx="3.9" ry="3.1" fill="#2a2a2a"/>
<ellipse cx="712.3" cy="553.8" rx="3.9" ry="3.1" fill="#2a2a2a"/>
<ellipse cx="712.3" cy="552.1" rx="3.9" ry="3.1" fill="#2a2a2a"/>
<ellipse cx="712.3" cy="550.4" rx="3.9" ry="3.1" fill="#2a2a2a"/>
<ellipse cx="712.3" cy="548.7" rx="3.9" ry="3.1" fill="#2a2a2a"/>
<ellipse cx="712.3" cy="546.9" rx="3.9" ry="3.1" fill="#2a2a2a"/>
<ellipse cx="712.3" cy="545" rx="3.9" ry="3.1" fill="#2a2a2a"/>
<ellipse cx="712.3" cy="543.2" rx="3.9" ry="3.1" fill="#2a2a2a"/>
<ellipse cx="712.3" cy="541.2" rx="3.9" ry="3.1" fill="#2a2a2a"/>
<ellipse cx="712.3" cy="539.2" rx="3.9" ry="3.1" fill="#2a2a2a"/>
<ellipse cx="712.3" cy="537.1" rx="3.9" ry="3.1" fill="#2a2a2a"/>
<ellipse cx="712.3" cy="534.9" rx="3.9" ry="3.1" fill="#2a2a2a"/>
<ellipse cx="712.3" cy="532.6" rx="3.9" ry="3.1" fill="#2a2a2a"/>
<ellipse cx="712.3" cy="530.2" rx="3.9" ry="3.1" fill="#2a2a2a"/>
<ellipse cx="712.3" cy="527.7" rx="3.9" ry="3.1" fill="#2a2a2a"/>
<ellipse cx="712.3" cy="525" rx="3.9" ry="3.1" fill="#2a2a2a"/>
<ellipse cx="712.3" cy="522.2" rx="3.9" ry="3.1" fill="#2a2a2a"/>
<ellipse cx="712.3" cy="519.2" rx="3.9" ry="3.1" fill="#2a2a2a"/>
<ellipse cx="712.3" cy="515.9" rx="3.9" ry="3.1" fill="#2a2a2a"/>
<ellipse cx="712.3" cy="512.5" rx="3.9" ry="3.1" fill="#2a2a2a"/>
<ellipse cx="712.3" cy="508.7" rx="3.9" ry="3.1" fill="#2a2a2a"/>
<ellipse cx="712.3" cy="504.6" rx="3.9" ry="3.1" fill="#2a2a2a"/>
<ellipse cx="712.3" cy="501.6" rx="3.9" ry="3.1" fill="#2a2a2a"/>
<ellipse cx="712.3" cy="491.6" rx="3.9" ry="3.1" fill="#2a2a2a"/>
<rect x="451.6" y="388.4" width="320.9" height="303.3" fill="none" stroke="#555" stroke-width="1.5"/>
<line x1="448.1" y1="678.2" x2="451.6" y2="678.2" stroke="#333" stroke-width="1"/>
<text x="442.4" y="682.2" font-size="21" text-anchor="end" fill="#3a3a3a">0.0</text>
<line x1="448.1" y1="572.5" x2="451.6" y2="572.5" stroke="#333" stroke-width="1"/>
<text x="442.4" y="576.5" font-size="21" text-anchor="end" fill="#3a3a3a">0.5</text>
<line x1="448.1" y1="466.8" x2="451.6" y2="466.8" stroke="#333" stroke-width="1"/>
<text x="442.4" y="470.8" font-size="21" text-anchor="end" fill="#3a3a3a">1.0</text>
<line x1="511.8" y1="691.7" x2="511.8" y2="695.2" stroke="#333" stroke-width="1"/>
<line x1="612" y1="691.7" x2="612" y2="695.2" stroke="#333" stroke-width="1"/>
<line x1="712.3" y1="691.7" x2="712.3" y2="695.2" stroke="#333" stroke-width="1"/>
<text x="451.1" y="376.9" font-size="21">NFIB − 1440</text>
<path d="M511.8 467.3 V461.3 H612 V467.3" stroke="#111" stroke-width="1.2" fill="none"/>
<text x="545.8" y="458" font-size="21" fill="#111">0.0027</text>
<path d="M511.8 442.4 V436.4 H712.3 V442.4" stroke="#111" stroke-width="1.2" fill="none"/>
<text x="569.1" y="433" font-size="21" fill="#111">p &lt; 2.22e−16</text>
<path d="M612 417.2 V411.2 H712.3 V417.2" stroke="#111" stroke-width="1.2" fill="none"/>
<text x="619.3" y="408.1" font-size="21" fill="#111">p &lt; 2.22e−16</text>
<line x1="822.6" y1="625.9" x2="1143.2" y2="625.9" stroke="#e6e6e6" stroke-width="0.8"/>
<line x1="822.6" y1="521.3" x2="1143.2" y2="521.3" stroke="#e6e6e6" stroke-width="0.8"/>
<line x1="822.6" y1="416.6" x2="1143.2" y2="416.6" stroke="#e6e6e6" stroke-width="0.8"/>
<line x1="822.6" y1="678.2" x2="1143.2" y2="678.2" stroke="#e6e6e6" stroke-width="1.3"/>
<line x1="822.6" y1="573.8" x2="1143.2" y2="573.8" stroke="#e6e6e6" stroke-width="1.3"/>
<line x1="822.6" y1="468.9" x2="1143.2" y2="468.9" stroke="#e6e6e6" stroke-width="1.3"/>
<line x1="882.7" y1="398.8" x2="882.7" y2="688.7" stroke="#e6e6e6" stroke-width="1.3"/>
<line x1="982.9" y1="398.8" x2="982.9" y2="688.7" stroke="#e6e6e6" stroke-width="1.3"/>
<line x1="1083.1" y1="398.8" x2="1083.1" y2="688.7" stroke="#e6e6e6" stroke-width="1.3"/>
<line x1="882.7" y1="488.8" x2="882.7" y2="572.5" stroke="#262626" stroke-width="1.2"/>
<line x1="882.7" y1="628" x2="882.7" y2="666" stroke="#262626" stroke-width="1.2"/>
<rect x="845.1" y="572.5" width="75.1" height="55.5" fill="#F1756E" stroke="#262626" stroke-width="1.2"/>
<line x1="845.1" y1="602.6" x2="920.3" y2="602.6" stroke="#222" stroke-width="1.3"/>
<ellipse cx="882.7" cy="488.8" rx="3.9" ry="3.1" fill="#2a2a2a"/>
<ellipse cx="882.7" cy="487.2" rx="3.9" ry="3.1" fill="#2a2a2a"/>
<ellipse cx="882.7" cy="485.6" rx="3.9" ry="3.1" fill="#2a2a2a"/>
<ellipse cx="882.7" cy="483.9" rx="3.9" ry="3.1" fill="#2a2a2a"/>
<ellipse cx="882.7" cy="482" rx="3.9" ry="3.1" fill="#2a2a2a"/>
<ellipse cx="882.7" cy="480" rx="3.9" ry="3.1" fill="#2a2a2a"/>
<ellipse cx="882.7" cy="477.7" rx="3.9" ry="3.1" fill="#2a2a2a"/>
<ellipse cx="882.7" cy="474.8" rx="3.9" ry="3.1" fill="#2a2a2a"/>
<ellipse cx="882.7" cy="471.4" rx="3.9" ry="3.1" fill="#2a2a2a"/>
<ellipse cx="882.7" cy="470.6" rx="3.9" ry="3.1" fill="#2a2a2a"/>
<line x1="982.9" y1="529.4" x2="982.9" y2="586.6" stroke="#262626" stroke-width="1.2"/>
<line x1="982.9" y1="624.4" x2="982.9" y2="665" stroke="#262626" stroke-width="1.2"/>
<rect x="945.3" y="586.6" width="75.1" height="37.8" fill="#3CB44B" stroke="#262626" stroke-width="1.2"/>
<line x1="945.3" y1="606.2" x2="1020.5" y2="606.2" stroke="#222" stroke-width="1.3"/>
<ellipse cx="982.9" cy="529.4" rx="3.9" ry="3.1" fill="#2a2a2a"/>
<ellipse cx="982.9" cy="527.8" rx="3.9" ry="3.1" fill="#2a2a2a"/>
<ellipse cx="982.9" cy="526.1" rx="3.9" ry="3.1" fill="#2a2a2a"/>
<ellipse cx="982.9" cy="524.3" rx="3.9" ry="3.1" fill="#2a2a2a"/>
<ellipse cx="982.9" cy="522.2" rx="3.9" ry="3.1" fill="#2a2a2a"/>
<ellipse cx="982.9" cy="519.4" rx="3.9" ry="3.1" fill="#2a2a2a"/>
<ellipse cx="982.9" cy="517.2" rx="3.9" ry="3.1" fill="#2a2a2a"/>
<line x1="1083.1" y1="524" x2="1083.1" y2="603.5" stroke="#262626" stroke-width="1.2"/>
<line x1="1083.1" y1="656" x2="1083.1" y2="678.2" stroke="#262626" stroke-width="1.2"/>
<rect x="1045.5" y="603.5" width="75.1" height="52.5" fill="#6890D0" stroke="#262626" stroke-width="1.2"/>
<line x1="1045.5" y1="632.5" x2="1120.7" y2="632.5" stroke="#222" stroke-width="1.3"/>
<ellipse cx="1083.1" cy="524" rx="3.9" ry="3.1" fill="#2a2a2a"/>
<ellipse cx="1083.1" cy="522.4" rx="3.9" ry="3.1" fill="#2a2a2a"/>
<ellipse cx="1083.1" cy="520.8" rx="3.9" ry="3.1" fill="#2a2a2a"/>
<ellipse cx="1083.1" cy="519.1" rx="3.9" ry="3.1" fill="#2a2a2a"/>
<ellipse cx="1083.1" cy="517.4" rx="3.9" ry="3.1" fill="#2a2a2a"/>
<ellipse cx="1083.1" cy="515.5" rx="3.9" ry="3.1" fill="#2a2a2a"/>
<ellipse cx="1083.1" cy="513.4" rx="3.9" ry="3.1" fill="#2a2a2a"/>
<ellipse cx="1083.1" cy="511" rx="3.9" ry="3.1" fill="#2a2a2a"/>
<ellipse cx="1083.1" cy="508.3" rx="3.9" ry="3.1" fill="#2a2a2a"/>
<ellipse cx="1083.1" cy="505.1" rx="3.9" ry="3.1" fill="#2a2a2a"/>
<ellipse cx="1083.1" cy="502" rx="3.9" ry="3.1" fill="#2a2a2a"/>
<ellipse cx="1083.1" cy="484.5" rx="3.9" ry="3.1" fill="#2a2a2a"/>
<rect x="822.6" y="387.8" width="320.6" height="303.9" fill="none" stroke="#555" stroke-width="1.5"/>
<line x1="819.1" y1="678.2" x2="822.6" y2="678.2" stroke="#333" stroke-width="1"/>
<text x="813.4" y="682.2" font-size="21" text-anchor="end" fill="#3a3a3a">0.0</text>
<line x1="819.1" y1="573.8" x2="822.6" y2="573.8" stroke="#333" stroke-width="1"/>
<text x="813.4" y="577.8" font-size="21" text-anchor="end" fill="#3a3a3a">0.5</text>
<line x1="819.1" y1="468.9" x2="822.6" y2="468.9" stroke="#333" stroke-width="1"/>
<text x="813.4" y="472.9" font-size="21" text-anchor="end" fill="#3a3a3a">1.0</text>
<line x1="882.7" y1="691.7" x2="882.7" y2="695.2" stroke="#333" stroke-width="1"/>
<line x1="982.9" y1="691.7" x2="982.9" y2="695.2" stroke="#333" stroke-width="1"/>
<line x1="1083.1" y1="691.7" x2="1083.1" y2="695.2" stroke="#333" stroke-width="1"/>
<text x="822.1" y="376.3" font-size="21">ONECUT1 − 1235</text>
<path d="M882.7 467.3 V461.3 H982.9 V467.3" stroke="#111" stroke-width="1.2" fill="none"/>
<text x="928" y="458" font-size="21" fill="#111">0.03</text>
<path d="M882.7 442.4 V436.4 H1083.1 V442.4" stroke="#111" stroke-width="1.2" fill="none"/>
<text x="940.2" y="433" font-size="21" fill="#111">p &lt; 2.22e−16</text>
<path d="M982.9 417.2 V411.2 H1083.1 V417.2" stroke="#111" stroke-width="1.2" fill="none"/>
<text x="990.5" y="408.1" font-size="21" fill="#111">p &lt; 2.22e−16</text>
<line x1="1193.8" y1="626.5" x2="1514.2" y2="626.5" stroke="#e6e6e6" stroke-width="0.8"/>
<line x1="1193.8" y1="521.9" x2="1514.2" y2="521.9" stroke="#e6e6e6" stroke-width="0.8"/>
<line x1="1193.8" y1="417.9" x2="1514.2" y2="417.9" stroke="#e6e6e6" stroke-width="0.8"/>
<line x1="1193.8" y1="678.2" x2="1514.2" y2="678.2" stroke="#e6e6e6" stroke-width="1.3"/>
<line x1="1193.8" y1="574.2" x2="1514.2" y2="574.2" stroke="#e6e6e6" stroke-width="1.3"/>
<line x1="1193.8" y1="470" x2="1514.2" y2="470" stroke="#e6e6e6" stroke-width="1.3"/>
<line x1="1253.9" y1="399.4" x2="1253.9" y2="688.7" stroke="#e6e6e6" stroke-width="1.3"/>
<line x1="1354" y1="399.4" x2="1354" y2="688.7" stroke="#e6e6e6" stroke-width="1.3"/>
<line x1="1454.1" y1="399.4" x2="1454.1" y2="688.7" stroke="#e6e6e6" stroke-width="1.3"/>
<line x1="1253.9" y1="470.6" x2="1253.9" y2="533.2" stroke="#262626" stroke-width="1.2"/>
<line x1="1253.9" y1="587" x2="1253.9" y2="665" stroke="#262626" stroke-width="1.2"/>
<rect x="1216.3" y="533.2" width="75.1" height="53.8" fill="#F1756E" stroke="#262626" stroke-width="1.2"/>
<line x1="1216.3" y1="560.8" x2="1291.4" y2="560.8" stroke="#222" stroke-width="1.3"/>
<line x1="1354" y1="561.4" x2="1354" y2="603.5" stroke="#262626" stroke-width="1.2"/>
<line x1="1354" y1="631.9" x2="1354" y2="672.4" stroke="#262626" stroke-width="1.2"/>
<rect x="1316.5" y="603.5" width="75.1" height="28.4" fill="#3CB44B" stroke="#262626" stroke-width="1.2"/>
<line x1="1316.5" y1="618.6" x2="1391.5" y2="618.6" stroke="#222" stroke-width="1.3"/>
<ellipse cx="1354" cy="561.4" rx="3.9" ry="3.1" fill="#2a2a2a"/>
<ellipse cx="1354" cy="559.8" rx="3.9" ry="3.1" fill="#2a2a2a"/>
<ellipse cx="1354" cy="558.2" rx="3.9" ry="3.1" fill="#2a2a2a"/>
<ellipse cx="1354" cy="556.5" rx="3.9" ry="3.1" fill="#2a2a2a"/>
<ellipse cx="1354" cy="554.8" rx="3.9" ry="3.1" fill="#2a2a2a"/>
<ellipse cx="1354" cy="552.9" rx="3.9" ry="3.1" fill="#2a2a2a"/>
<ellipse cx="1354" cy="550.9" rx="3.9" ry="3.1" fill="#2a2a2a"/>
<ellipse cx="1354" cy="548.7" rx="3.9" ry="3.1" fill="#2a2a2a"/>
<ellipse cx="1354" cy="546.1" rx="3.9" ry="3.1" fill="#2a2a2a"/>
<ellipse cx="1354" cy="543.2" rx="3.9" ry="3.1" fill="#2a2a2a"/>
<ellipse cx="1354" cy="539.7" rx="3.9" ry="3.1" fill="#2a2a2a"/>
<ellipse cx="1354" cy="537.9" rx="3.9" ry="3.1" fill="#2a2a2a"/>
<line x1="1454.1" y1="578.5" x2="1454.1" y2="632.3" stroke="#262626" stroke-width="1.2"/>
<line x1="1454.1" y1="668.2" x2="1454.1" y2="678.2" stroke="#262626" stroke-width="1.2"/>
<rect x="1416.6" y="632.3" width="75.1" height="35.9" fill="#6890D0" stroke="#262626" stroke-width="1.2"/>
<line x1="1416.6" y1="655.4" x2="1491.7" y2="655.4" stroke="#222" stroke-width="1.3"/>
<ellipse cx="1454.1" cy="578.5" rx="3.9" ry="3.1" fill="#2a2a2a"/>
<ellipse cx="1454.1" cy="576.9" rx="3.9" ry="3.1" fill="#2a2a2a"/>
<ellipse cx="1454.1" cy="575.3" rx="3.9" ry="3.1" fill="#2a2a2a"/>
<ellipse cx="1454.1" cy="573.7" rx="3.9" ry="3.1" fill="#2a2a2a"/>
<ellipse cx="1454.1" cy="572.1" rx="3.9" ry="3.1" fill="#2a2a2a"/>
<ellipse cx="1454.1" cy="570.4" rx="3.9" ry="3.1" fill="#2a2a2a"/>
<ellipse cx="1454.1" cy="568.7" rx="3.9" ry="3.1" fill="#2a2a2a"/>
<ellipse cx="1454.1" cy="567" rx="3.9" ry="3.1" fill="#2a2a2a"/>
<ellipse cx="1454.1" cy="565.3" rx="3.9" ry="3.1" fill="#2a2a2a"/>
<ellipse cx="1454.1" cy="563.5" rx="3.9" ry="3.1" fill="#2a2a2a"/>
<ellipse cx="1454.1" cy="561.6" rx="3.9" ry="3.1" fill="#2a2a2a"/>
<ellipse cx="1454.1" cy="559.7" rx="3.9" ry="3.1" fill="#2a2a2a"/>
<ellipse cx="1454.1" cy="557.7" rx="3.9" ry="3.1" fill="#2a2a2a"/>
<ellipse cx="1454.1" cy="555.6" rx="3.9" ry="3.1" fill="#2a2a2a"/>
<ellipse cx="1454.1" cy="553.5" rx="3.9" ry="3.1" fill="#2a2a2a"/>
<ellipse cx="1454.1" cy="551.2" rx="3.9" ry="3.1" fill="#2a2a2a"/>
<ellipse cx="1454.1" cy="548.7" rx="3.9" ry="3.1" fill="#2a2a2a"/>
<ellipse cx="1454.1" cy="546.1" rx="3.9" ry="3.1" fill="#2a2a2a"/>
<ellipse cx="1454.1" cy="543.4" rx="3.9" ry="3.1" fill="#2a2a2a"/>
<ellipse cx="1454.1" cy="540.4" rx="3.9" ry="3.1" fill="#2a2a2a"/>
<ellipse cx="1454.1" cy="537.2" rx="3.9" ry="3.1" fill="#2a2a2a"/>
<ellipse cx="1454.1" cy="533.6" rx="3.9" ry="3.1" fill="#2a2a2a"/>
<ellipse cx="1454.1" cy="529.8" rx="3.9" ry="3.1" fill="#2a2a2a"/>
<ellipse cx="1454.1" cy="525.5" rx="3.9" ry="3.1" fill="#2a2a2a"/>
<ellipse cx="1454.1" cy="525" rx="3.9" ry="3.1" fill="#2a2a2a"/>
<ellipse cx="1454.1" cy="514.4" rx="3.9" ry="3.1" fill="#2a2a2a"/>
<ellipse cx="1454.1" cy="509" rx="3.9" ry="3.1" fill="#2a2a2a"/>
<ellipse cx="1454.1" cy="503.3" rx="3.9" ry="3.1" fill="#2a2a2a"/>
<rect x="1193.8" y="388.4" width="320.4" height="303.3" fill="none" stroke="#555" stroke-width="1.5"/>
<line x1="1190.3" y1="678.2" x2="1193.8" y2="678.2" stroke="#333" stroke-width="1"/>
<text x="1184.6" y="682.2" font-size="21" text-anchor="end" fill="#3a3a3a">0.0</text>
<line x1="1190.3" y1="574.2" x2="1193.8" y2="574.2" stroke="#333" stroke-width="1"/>
<text x="1184.6" y="578.2" font-size="21" text-anchor="end" fill="#3a3a3a">0.5</text>
<line x1="1190.3" y1="470" x2="1193.8" y2="470" stroke="#333" stroke-width="1"/>
<text x="1184.6" y="474" font-size="21" text-anchor="end" fill="#3a3a3a">1.0</text>
<line x1="1253.9" y1="691.7" x2="1253.9" y2="695.2" stroke="#333" stroke-width="1"/>
<line x1="1354" y1="691.7" x2="1354" y2="695.2" stroke="#333" stroke-width="1"/>
<line x1="1454.1" y1="691.7" x2="1454.1" y2="695.2" stroke="#333" stroke-width="1"/>
<text x="1193.3" y="376.9" font-size="21">CEBPA − 1973</text>
<path d="M1253.9 467.3 V461.3 H1354 V467.3" stroke="#111" stroke-width="1.2" fill="none"/>
<text x="1260.6" y="458" font-size="21" fill="#111">p &lt; 2.22e−16</text>
<path d="M1253.9 442.4 V436.4 H1454.1 V442.4" stroke="#111" stroke-width="1.2" fill="none"/>
<text x="1311.4" y="433" font-size="21" fill="#111">p &lt; 2.22e−16</text>
<path d="M1354 417.2 V411.2 H1454.1 V417.2" stroke="#111" stroke-width="1.2" fill="none"/>
<text x="1362" y="408.1" font-size="21" fill="#111">p &lt; 2.22e−16</text>
<text x="139.8" y="712.6" font-size="21" text-anchor="end" fill="#333" transform="rotate(-45 139.8 712.6)">General</text>
<text x="250.6" y="717.6" font-size="21" text-anchor="end" fill="#333" transform="rotate(-45 250.6 717.6)">PC</text>
<text x="350.2" y="718.4" font-size="21" text-anchor="end" fill="#333" transform="rotate(-45 350.2 718.4)">PP</text>
<text x="511" y="712.6" font-size="21" text-anchor="end" fill="#333" transform="rotate(-45 511 712.6)">General</text>
<text x="621.9" y="717.6" font-size="21" text-anchor="end" fill="#333" transform="rotate(-45 621.9 717.6)">PC</text>
<text x="721.8" y="718.4" font-size="21" text-anchor="end" fill="#333" transform="rotate(-45 721.8 718.4)">PP</text>
<text x="882" y="712.6" font-size="21" text-anchor="end" fill="#333" transform="rotate(-45 882 712.6)">General</text>
<text x="992.8" y="717.6" font-size="21" text-anchor="end" fill="#333" transform="rotate(-45 992.8 717.6)">PC</text>
<text x="1092.6" y="718.4" font-size="21" text-anchor="end" fill="#333" transform="rotate(-45 1092.6 718.4)">PP</text>
<text x="1253.1" y="712.6" font-size="21" text-anchor="end" fill="#333" transform="rotate(-45 1253.1 712.6)">General</text>
<text x="1363.9" y="717.6" font-size="21" text-anchor="end" fill="#333" transform="rotate(-45 1363.9 717.6)">PC</text>
<text x="1463.6" y="718.4" font-size="21" text-anchor="end" fill="#333" transform="rotate(-45 1463.6 718.4)">PP</text>
<text x="22.6" y="371.5" font-size="21" text-anchor="middle" transform="rotate(-90 22.6 371.5)">DeepLiver score</text>
<text x="3" y="24.6" font-size="29" font-weight="bold">a</text>
<line x1="1699.7" y1="35.4" x2="1699.7" y2="674.5" stroke="#e6e6e6" stroke-width="0.8"/>
<line x1="1781.2" y1="35.4" x2="1781.2" y2="674.5" stroke="#e6e6e6" stroke-width="0.8"/>
<line x1="1862.7" y1="35.4" x2="1862.7" y2="674.5" stroke="#e6e6e6" stroke-width="0.8"/>
<line x1="1944.2" y1="35.4" x2="1944.2" y2="674.5" stroke="#e6e6e6" stroke-width="0.8"/>
<line x1="1659" y1="35.4" x2="1659" y2="674.5" stroke="#e6e6e6" stroke-width="1.4"/>
<line x1="1740.5" y1="35.4" x2="1740.5" y2="674.5" stroke="#e6e6e6" stroke-width="1.4"/>
<line x1="1822" y1="35.4" x2="1822" y2="674.5" stroke="#e6e6e6" stroke-width="1.4"/>
<line x1="1903.4" y1="35.4" x2="1903.4" y2="674.5" stroke="#e6e6e6" stroke-width="1.4"/>
<line x1="1648.4" y1="81.8" x2="1982.3" y2="81.8" stroke="#e6e6e6" stroke-width="1.4"/>
<line x1="1648.4" y1="159.8" x2="1982.3" y2="159.8" stroke="#e6e6e6" stroke-width="1.4"/>
<line x1="1648.4" y1="237.9" x2="1982.3" y2="237.9" stroke="#e6e6e6" stroke-width="1.4"/>
<line x1="1648.4" y1="315.9" x2="1982.3" y2="315.9" stroke="#e6e6e6" stroke-width="1.4"/>
<line x1="1648.4" y1="394" x2="1982.3" y2="394" stroke="#e6e6e6" stroke-width="1.4"/>
<line x1="1648.4" y1="472" x2="1982.3" y2="472" stroke="#e6e6e6" stroke-width="1.4"/>
<line x1="1648.4" y1="550" x2="1982.3" y2="550" stroke="#e6e6e6" stroke-width="1.4"/>
<line x1="1648.4" y1="628.1" x2="1982.3" y2="628.1" stroke="#e6e6e6" stroke-width="1.4"/>
<line x1="1666.3" y1="81.8" x2="1780.3" y2="81.8" stroke="#1a1a1a" stroke-width="1.4"/>
<line x1="1866.3" y1="81.8" x2="1967.4" y2="81.8" stroke="#1a1a1a" stroke-width="1.4"/>
<rect x="1780.3" y="52.5" width="86" height="58.6" fill="#F9B233" stroke="#1a1a1a" stroke-width="1.4"/>
<line x1="1827.4" y1="52.5" x2="1827.4" y2="111.1" stroke="#1a1a1a" stroke-width="1.5"/>
<line x1="1644.9" y1="81.8" x2="1648.4" y2="81.8" stroke="#333" stroke-width="1"/>
<text x="1642.5" y="87.8" font-size="21" text-anchor="end" fill="#111">HNF1A</text>
<line x1="1669.2" y1="159.8" x2="1730.2" y2="159.8" stroke="#1a1a1a" stroke-width="1.4"/>
<line x1="1830.1" y1="159.8" x2="1947.6" y2="159.8" stroke="#1a1a1a" stroke-width="1.4"/>
<rect x="1730.2" y="130.5" width="99.9" height="58.6" fill="#EE4E55" stroke="#1a1a1a" stroke-width="1.4"/>
<line x1="1775.3" y1="130.5" x2="1775.3" y2="189.1" stroke="#1a1a1a" stroke-width="1.5"/>
<line x1="1644.9" y1="159.8" x2="1648.4" y2="159.8" stroke="#333" stroke-width="1"/>
<text x="1642.5" y="165.8" font-size="21" text-anchor="end" fill="#111">FOXA1</text>
<line x1="1666.3" y1="237.9" x2="1731.5" y2="237.9" stroke="#1a1a1a" stroke-width="1.4"/>
<line x1="1828.6" y1="237.9" x2="1967.4" y2="237.9" stroke="#1a1a1a" stroke-width="1.4"/>
<rect x="1731.5" y="208.6" width="97.1" height="58.6" fill="#4482C8" stroke="#1a1a1a" stroke-width="1.4"/>
<line x1="1778.3" y1="208.6" x2="1778.3" y2="267.2" stroke="#1a1a1a" stroke-width="1.5"/>
<line x1="1644.9" y1="237.9" x2="1648.4" y2="237.9" stroke="#333" stroke-width="1"/>
<text x="1642.5" y="243.9" font-size="21" text-anchor="end" fill="#111">CEBPA</text>
<line x1="1667.7" y1="315.9" x2="1728.2" y2="315.9" stroke="#1a1a1a" stroke-width="1.4"/>
<line x1="1830.4" y1="315.9" x2="1967.4" y2="315.9" stroke="#1a1a1a" stroke-width="1.4"/>
<rect x="1728.2" y="286.6" width="102.2" height="58.6" fill="#2A9548" stroke="#1a1a1a" stroke-width="1.4"/>
<line x1="1776.6" y1="286.6" x2="1776.6" y2="345.2" stroke="#1a1a1a" stroke-width="1.5"/>
<line x1="1644.9" y1="315.9" x2="1648.4" y2="315.9" stroke="#333" stroke-width="1"/>
<text x="1642.5" y="321.9" font-size="21" text-anchor="end" fill="#111">HNF4A</text>
<line x1="1665.8" y1="394" x2="1719.8" y2="394" stroke="#1a1a1a" stroke-width="1.4"/>
<line x1="1819.2" y1="394" x2="1967.4" y2="394" stroke="#1a1a1a" stroke-width="1.4"/>
<rect x="1719.8" y="364.7" width="99.4" height="58.6" fill="#F2703A" stroke="#1a1a1a" stroke-width="1.4"/>
<line x1="1762.9" y1="364.7" x2="1762.9" y2="423.3" stroke="#1a1a1a" stroke-width="1.5"/>
<line x1="1644.9" y1="394" x2="1648.4" y2="394" stroke="#333" stroke-width="1"/>
<text x="1642.5" y="400" font-size="21" text-anchor="end" fill="#111">TCF7L1</text>
<line x1="1668.7" y1="472" x2="1720.3" y2="472" stroke="#1a1a1a" stroke-width="1.4"/>
<line x1="1813.5" y1="472" x2="1936.5" y2="472" stroke="#1a1a1a" stroke-width="1.4"/>
<rect x="1720.3" y="442.7" width="93.2" height="58.6" fill="#6A4EA3" stroke="#1a1a1a" stroke-width="1.4"/>
<line x1="1761.7" y1="442.7" x2="1761.7" y2="501.3" stroke="#1a1a1a" stroke-width="1.5"/>
<line x1="1644.9" y1="472" x2="1648.4" y2="472" stroke="#333" stroke-width="1"/>
<text x="1642.5" y="478" font-size="21" text-anchor="end" fill="#111">ONECUT1</text>
<line x1="1663.3" y1="550" x2="1696" y2="550" stroke="#1a1a1a" stroke-width="1.4"/>
<line x1="1782.8" y1="550" x2="1908.7" y2="550" stroke="#1a1a1a" stroke-width="1.4"/>
<rect x="1696" y="520.7" width="86.8" height="58.6" fill="#F8B5C4" stroke="#1a1a1a" stroke-width="1.4"/>
<line x1="1729.5" y1="520.7" x2="1729.5" y2="579.3" stroke="#1a1a1a" stroke-width="1.5"/>
<ellipse cx="1916" cy="550" rx="2.6" ry="3.3" fill="#2a2a2a"/>
<ellipse cx="1919" cy="550" rx="2.6" ry="3.3" fill="#2a2a2a"/>
<ellipse cx="1922" cy="550" rx="2.6" ry="3.3" fill="#2a2a2a"/>
<ellipse cx="1925" cy="550" rx="2.6" ry="3.3" fill="#2a2a2a"/>
<ellipse cx="1929" cy="550" rx="2.6" ry="3.3" fill="#2a2a2a"/>
<ellipse cx="1934" cy="550" rx="2.6" ry="3.3" fill="#2a2a2a"/>
<ellipse cx="1941" cy="550" rx="2.6" ry="3.3" fill="#2a2a2a"/>
<line x1="1644.9" y1="550" x2="1648.4" y2="550" stroke="#333" stroke-width="1"/>
<text x="1642.5" y="556" font-size="21" text-anchor="end" fill="#111">TBX3</text>
<line x1="1665" y1="628.1" x2="1686.6" y2="628.1" stroke="#1a1a1a" stroke-width="1.4"/>
<line x1="1759.2" y1="628.1" x2="1866.6" y2="628.1" stroke="#1a1a1a" stroke-width="1.4"/>
<rect x="1686.6" y="598.8" width="72.6" height="58.6" fill="#4BC3CC" stroke="#1a1a1a" stroke-width="1.4"/>
<line x1="1710.9" y1="598.8" x2="1710.9" y2="657.4" stroke="#1a1a1a" stroke-width="1.5"/>
<ellipse cx="1870.8" cy="628.1" rx="2.6" ry="3.3" fill="#2a2a2a"/>
<ellipse cx="1873" cy="628.1" rx="2.6" ry="3.3" fill="#2a2a2a"/>
<ellipse cx="1875.7" cy="628.1" rx="2.6" ry="3.3" fill="#2a2a2a"/>
<ellipse cx="1883.7" cy="628.1" rx="2.6" ry="3.3" fill="#2a2a2a"/>
<ellipse cx="1892.6" cy="628.1" rx="2.6" ry="3.3" fill="#2a2a2a"/>
<ellipse cx="1895" cy="628.1" rx="2.6" ry="3.3" fill="#2a2a2a"/>
<ellipse cx="1897.5" cy="628.1" rx="2.6" ry="3.3" fill="#2a2a2a"/>
<ellipse cx="1906.2" cy="628.1" rx="2.6" ry="3.3" fill="#2a2a2a"/>
<ellipse cx="1908" cy="628.1" rx="2.6" ry="3.3" fill="#2a2a2a"/>
<ellipse cx="1909.7" cy="628.1" rx="2.6" ry="3.3" fill="#2a2a2a"/>
<ellipse cx="1913.7" cy="628.1" rx="2.6" ry="3.3" fill="#2a2a2a"/>
<ellipse cx="1922.3" cy="628.1" rx="2.6" ry="3.3" fill="#2a2a2a"/>
<ellipse cx="1939" cy="628.1" rx="2.6" ry="3.3" fill="#2a2a2a"/>
<ellipse cx="1962" cy="628.1" rx="2.6" ry="3.3" fill="#2a2a2a"/>
<line x1="1644.9" y1="628.1" x2="1648.4" y2="628.1" stroke="#333" stroke-width="1"/>
<text x="1642.5" y="634.1" font-size="21" text-anchor="end" fill="#111">NFIB</text>
<rect x="1648.4" y="35.4" width="333.9" height="639.1" fill="none" stroke="#555" stroke-width="1.5"/>
<line x1="1659" y1="674.5" x2="1659" y2="678" stroke="#333" stroke-width="1"/>
<text x="1658.5" y="695.3" font-size="21" text-anchor="middle" fill="#3a3a3a">0.0</text>
<line x1="1740.5" y1="674.5" x2="1740.5" y2="678" stroke="#333" stroke-width="1"/>
<text x="1745.8" y="695.3" font-size="21" text-anchor="middle" fill="#3a3a3a">0.25</text>
<line x1="1822" y1="674.5" x2="1822" y2="678" stroke="#333" stroke-width="1"/>
<text x="1825.3" y="695.3" font-size="21" text-anchor="middle" fill="#3a3a3a">0.50</text>
<line x1="1903.4" y1="674.5" x2="1903.4" y2="678" stroke="#333" stroke-width="1"/>
<text x="1904.3" y="695.3" font-size="21" text-anchor="middle" fill="#3a3a3a">0.75</text>
<text x="1817.8" y="738.6" font-size="21" text-anchor="middle" fill="#111">DeepLiver activity score</text>
<text x="1548.5" y="24.8" font-size="29" font-weight="bold">b</text>
<line x1="44.3" y1="1130.4" x2="766" y2="1130.4" stroke="#e6e6e6" stroke-width="1.3"/>
<line x1="44.3" y1="1086.2" x2="766" y2="1086.2" stroke="#e6e6e6" stroke-width="0.9"/>
<line x1="44.3" y1="1042" x2="766" y2="1042" stroke="#e6e6e6" stroke-width="1.3"/>
<line x1="44.3" y1="997.8" x2="766" y2="997.8" stroke="#e6e6e6" stroke-width="0.9"/>
<line x1="44.3" y1="953.6" x2="766" y2="953.6" stroke="#e6e6e6" stroke-width="1.3"/>
<line x1="44.3" y1="909.4" x2="766" y2="909.4" stroke="#e6e6e6" stroke-width="0.9"/>
<line x1="44.3" y1="865.2" x2="766" y2="865.2" stroke="#e6e6e6" stroke-width="1.3"/>
<line x1="44.3" y1="821" x2="766" y2="821" stroke="#e6e6e6" stroke-width="0.9"/>
<line x1="96.2" y1="806.9" x2="96.2" y2="1145" stroke="#e6e6e6" stroke-width="1.3"/>
<line x1="184.4" y1="806.9" x2="184.4" y2="1145" stroke="#e6e6e6" stroke-width="1.3"/>
<line x1="272.7" y1="806.9" x2="272.7" y2="1145" stroke="#e6e6e6" stroke-width="1.3"/>
<line x1="360.9" y1="806.9" x2="360.9" y2="1145" stroke="#e6e6e6" stroke-width="1.3"/>
<line x1="449.1" y1="806.9" x2="449.1" y2="1145" stroke="#e6e6e6" stroke-width="1.3"/>
<line x1="537.4" y1="806.9" x2="537.4" y2="1145" stroke="#e6e6e6" stroke-width="1.3"/>
<line x1="625.6" y1="806.9" x2="625.6" y2="1145" stroke="#e6e6e6" stroke-width="1.3"/>
<line x1="713.8" y1="806.9" x2="713.8" y2="1145" stroke="#e6e6e6" stroke-width="1.3"/>
<rect x="56.6" y="821.2" width="79.2" height="309.2" fill="#F8B4C3" stroke="#1a1a1a" stroke-width="1.3"/>
<rect x="144.8" y="883.3" width="79.2" height="247.1" fill="#2A9548" stroke="#1a1a1a" stroke-width="1.3"/>
<rect x="233.1" y="936.4" width="79.2" height="194" fill="#4583C6" stroke="#1a1a1a" stroke-width="1.3"/>
<rect x="321.3" y="980.7" width="79.2" height="149.7" fill="#F9B233" stroke="#1a1a1a" stroke-width="1.3"/>
<rect x="409.5" y="1002.5" width="79.2" height="127.9" fill="#EF5050" stroke="#1a1a1a" stroke-width="1.3"/>
<rect x="497.8" y="1011.2" width="79.2" height="119.2" fill="#F2703A" stroke="#1a1a1a" stroke-width="1.3"/>
<rect x="586" y="1055.1" width="79.2" height="75.3" fill="#6B4FA2" stroke="#1a1a1a" stroke-width="1.3"/>
<rect x="674.2" y="1081.7" width="79.2" height="48.7" fill="#4BC3CC" stroke="#1a1a1a" stroke-width="1.3"/>
<rect x="44.3" y="806.9" width="721.7" height="338.1" fill="none" stroke="#333" stroke-width="1.5"/>
<line x1="40.8" y1="865.2" x2="44.3" y2="865.2" stroke="#333" stroke-width="1"/>
<text x="39.3" y="872.7" font-size="21" text-anchor="end" fill="#111">0.6</text>
<line x1="40.8" y1="1130.4" x2="44.3" y2="1130.4" stroke="#333" stroke-width="1"/>
<text x="39.3" y="1137.9" font-size="21" text-anchor="end" fill="#111">0.0</text>
<line x1="96.2" y1="1145" x2="96.2" y2="1148.5" stroke="#333" stroke-width="1"/>
<text x="101.7" y="1148" font-size="21" text-anchor="end" fill="#111" transform="rotate(-90 101.7 1148)">TBX3(−)</text>
<line x1="184.4" y1="1145" x2="184.4" y2="1148.5" stroke="#333" stroke-width="1"/>
<text x="189.9" y="1148" font-size="21" text-anchor="end" fill="#111" transform="rotate(-90 189.9 1148)">HNF4A(+)</text>
<line x1="272.7" y1="1145" x2="272.7" y2="1148.5" stroke="#333" stroke-width="1"/>
<text x="278.2" y="1148" font-size="21" text-anchor="end" fill="#111" transform="rotate(-90 278.2 1148)">CEBPA(+)</text>
<line x1="360.9" y1="1145" x2="360.9" y2="1148.5" stroke="#333" stroke-width="1"/>
<text x="366.4" y="1148" font-size="21" text-anchor="end" fill="#111" transform="rotate(-90 366.4 1148)">HNF1A(+)</text>
<line x1="449.1" y1="1145" x2="449.1" y2="1148.5" stroke="#333" stroke-width="1"/>
<text x="454.6" y="1148" font-size="21" text-anchor="end" fill="#111" transform="rotate(-90 454.6 1148)">FOXA1(+)</text>
<line x1="537.4" y1="1145" x2="537.4" y2="1148.5" stroke="#333" stroke-width="1"/>
<text x="542.9" y="1148" font-size="21" text-anchor="end" fill="#111" transform="rotate(-90 542.9 1148)">TCF7L1(−)</text>
<line x1="625.6" y1="1145" x2="625.6" y2="1148.5" stroke="#333" stroke-width="1"/>
<text x="631.1" y="1148" font-size="21" text-anchor="end" fill="#111" transform="rotate(-90 631.1 1148)">ONECUT1(+)</text>
<line x1="713.8" y1="1145" x2="713.8" y2="1148.5" stroke="#333" stroke-width="1"/>
<text x="719.3" y="1148" font-size="21" text-anchor="end" fill="#111" transform="rotate(-90 719.3 1148)">NFIB(+)</text>
<text x="21.3" y="1005.7" font-size="21" text-anchor="middle" fill="#111" transform="rotate(-90 21.3 1005.7)">Overlap</text>
<text x="4" y="801.3" font-size="29" font-weight="bold">c</text>
<line x1="948.3" y1="815.3" x2="948.3" y2="1140" stroke="#555" stroke-width="1"/>
<line x1="944.3" y1="826.1" x2="948.3" y2="826.1" stroke="#555" stroke-width="1"/>
<line x1="944.3" y1="929.8" x2="948.3" y2="929.8" stroke="#555" stroke-width="1"/>
<line x1="944.3" y1="1033.5" x2="948.3" y2="1033.5" stroke="#555" stroke-width="1"/>
<line x1="944.3" y1="1133.8" x2="948.3" y2="1133.8" stroke="#555" stroke-width="1"/>
<text x="940.5" y="833.6" font-size="21" text-anchor="end" fill="#3a3a3a">3000</text>
<text x="940.5" y="937.3" font-size="21" text-anchor="end" fill="#3a3a3a">2000</text>
<text x="940.5" y="1041" font-size="21" text-anchor="end" fill="#3a3a3a">1000</text>
<text x="942.5" y="1139.2" font-size="21" text-anchor="end" fill="#3a3a3a">0</text>
<text x="880.5" y="955.6" font-size="21" text-anchor="middle" fill="#222" transform="rotate(-90 880.5 955.6)">Intersection Size</text>
<rect x="966.5" y="857.7" width="15.3" height="276.6" fill="#313338"/>
<text x="962.6" y="849.5" font-size="21" fill="#222">2695</text>
<rect x="992.1" y="980.4" width="15.3" height="153.9" fill="#313338"/>
<text x="989.2" y="972.9" font-size="21" fill="#222">1512</text>
<rect x="1017.7" y="1041.7" width="15.3" height="92.6" fill="#313338"/>
<text x="1012.5" y="1021.8" font-size="21" fill="#222">921</text>
<rect x="1043.4" y="1048.5" width="15.3" height="85.8" fill="#313338"/>
<text x="1034" y="1041" font-size="21" fill="#222">855</text>
<rect x="1069" y="1056.1" width="15.3" height="78.2" fill="#313338"/>
<text x="1068.2" y="1031.9" font-size="21" fill="#222">782</text>
<rect x="1094.6" y="1073.6" width="15.3" height="60.7" fill="#313338"/>
<text x="1084.8" y="1066.1" font-size="21" fill="#222">613</text>
<rect x="1120.2" y="1080.7" width="15.3" height="53.6" fill="#313338"/>
<text x="1110.7" y="1047.6" font-size="21" fill="#222">545</text>
<rect x="1145.9" y="1088.6" width="15.3" height="45.7" fill="#313338"/>
<text x="1143.9" y="1080.7" font-size="21" fill="#222">469</text>
<rect x="1171.5" y="1099.8" width="15.3" height="34.5" fill="#313338"/>
<text x="1169.8" y="1067.4" font-size="21" fill="#222">361</text>
<rect x="1197.1" y="1100.1" width="15.3" height="34.2" fill="#313338"/>
<text x="1196.2" y="1092.3" font-size="21" fill="#222">358</text>
<rect x="1222.7" y="1104.2" width="15.3" height="30.1" fill="#313338"/>
<text x="1222" y="1075.6" font-size="21" fill="#222">318</text>
<rect x="1248.4" y="1105.1" width="15.3" height="29.2" fill="#313338"/>
<text x="1247.2" y="1097.1" font-size="21" fill="#222">310</text>
<rect x="1274" y="1111" width="15.3" height="23.3" fill="#313338"/>
<text x="1273.2" y="1082" font-size="21" fill="#222">253</text>
<rect x="1299.6" y="1112.5" width="15.3" height="21.8" fill="#313338"/>
<text x="1298.5" y="1104.9" font-size="21" fill="#222">238</text>
<rect x="1325.2" y="1117.7" width="15.3" height="16.6" fill="#313338"/>
<text x="1325.2" y="1088.2" font-size="21" fill="#222">188</text>
<rect x="1350.8" y="1118.5" width="15.3" height="15.8" fill="#313338"/>
<text x="1351.1" y="1111" font-size="21" fill="#222">180</text>
<rect x="1376.5" y="1118.9" width="15.3" height="15.4" fill="#313338"/>
<text x="1377.1" y="1094.6" font-size="21" fill="#222">176</text>
<rect x="1402.1" y="1119.3" width="15.3" height="15" fill="#313338"/>
<text x="1402.4" y="1112" font-size="21" fill="#222">173</text>
<rect x="1427.7" y="1119.9" width="15.3" height="14.4" fill="#313338"/>
<text x="1428" y="1095.7" font-size="21" fill="#222">167</text>
<rect x="1453.3" y="1120.2" width="15.3" height="14.1" fill="#313338"/>
<text x="1453.6" y="1112.4" font-size="21" fill="#222">164</text>
<rect x="1479" y="1121.5" width="15.3" height="12.8" fill="#313338"/>
<text x="1478.6" y="1097.4" font-size="21" fill="#222">151</text>
<rect x="1504.6" y="1123.8" width="15.3" height="10.5" fill="#313338"/>
<text x="1504.6" y="1116.4" font-size="21" fill="#222">129</text>
<rect x="1530.2" y="1124.1" width="15.3" height="10.2" fill="#313338"/>
<text x="1530.6" y="1100.1" font-size="21" fill="#222">126</text>
<rect x="1555.8" y="1125.7" width="15.3" height="8.6" fill="#313338"/>
<text x="1555.1" y="1118.2" font-size="21" fill="#222">111</text>
<rect x="1581.5" y="1126.1" width="15.3" height="8.2" fill="#313338"/>
<text x="1581.1" y="1101.6" font-size="21" fill="#222">107</text>
<rect x="1607.1" y="1127.6" width="15.3" height="6.7" fill="#313338"/>
<text x="1608.5" y="1120.1" font-size="21" fill="#222">93</text>
<rect x="1632.7" y="1127.8" width="15.3" height="6.5" fill="#313338"/>
<text x="1634" y="1120.1" font-size="21" fill="#222">91</text>
<rect x="1658.3" y="1128.3" width="15.3" height="6" fill="#313338"/>
<text x="1659.7" y="1120.6" font-size="21" fill="#222">86</text>
<rect x="1683.9" y="1128.8" width="15.3" height="5.5" fill="#313338"/>
<text x="1685.7" y="1120.9" font-size="21" fill="#222">81</text>
<rect x="1709.6" y="1129" width="15.3" height="5.3" fill="#313338"/>
<text x="1711.2" y="1120.9" font-size="21" fill="#222">79</text>
<rect x="1735.2" y="1129.1" width="15.3" height="5.2" fill="#313338"/>
<text x="1736.9" y="1120.9" font-size="21" fill="#222">78</text>
<rect x="1760.8" y="1130" width="15.3" height="4.3" fill="#313338"/>
<text x="1762.2" y="1122.6" font-size="21" fill="#222">69</text>
<rect x="1786.4" y="1131.2" width="15.3" height="3.1" fill="#313338"/>
<text x="1787.5" y="1123.3" font-size="21" fill="#222">58</text>
<rect x="1812.1" y="1131.3" width="15.3" height="3" fill="#313338"/>
<text x="1813.6" y="1124" font-size="21" fill="#222">57</text>
<rect x="1837.7" y="1131.5" width="15.3" height="2.8" fill="#313338"/>
<text x="1838.9" y="1124" font-size="21" fill="#222">55</text>
<rect x="1863.3" y="1131.5" width="15.3" height="2.8" fill="#313338"/>
<text x="1864.7" y="1124" font-size="21" fill="#222">55</text>
<rect x="1888.9" y="1132.6" width="15.3" height="1.7" fill="#313338"/>
<text x="1890" y="1125.5" font-size="21" fill="#222">44</text>
<rect x="1914.6" y="1132.8" width="15.3" height="1.5" fill="#313338"/>
<text x="1915.6" y="1125.5" font-size="21" fill="#222">42</text>
<rect x="1940.2" y="1132.8" width="15.3" height="1.5" fill="#313338"/>
<text x="1940.9" y="1125.5" font-size="21" fill="#222">42</text>
<rect x="1965.8" y="1132.8" width="15.3" height="1.5" fill="#313338"/>
<text x="1967" y="1125.5" font-size="21" fill="#222">42</text>
<rect x="948.9" y="1148.9" width="1048" height="14.3" fill="#f1f1f1"/>
<rect x="948.9" y="1177.5" width="1048" height="14.3" fill="#f1f1f1"/>
<rect x="948.9" y="1206.1" width="1048" height="14.3" fill="#f1f1f1"/>
<rect x="948.9" y="1234.6" width="1048" height="14.3" fill="#f1f1f1"/>
<circle cx="974.1" cy="1141.8" r="4.6" fill="#dcdcdc"/>
<circle cx="974.1" cy="1156.1" r="4.6" fill="#dcdcdc"/>
<circle cx="974.1" cy="1170.4" r="4.6" fill="#dcdcdc"/>
<circle cx="974.1" cy="1184.6" r="4.6" fill="#dcdcdc"/>
<circle cx="974.1" cy="1198.9" r="4.6" fill="#dcdcdc"/>
<circle cx="974.1" cy="1213.2" r="4.6" fill="#dcdcdc"/>
<circle cx="974.1" cy="1227.5" r="4.6" fill="#dcdcdc"/>
<circle cx="999.8" cy="1141.8" r="4.6" fill="#dcdcdc"/>
<circle cx="999.8" cy="1156.1" r="4.6" fill="#dcdcdc"/>
<circle cx="999.8" cy="1170.4" r="4.6" fill="#dcdcdc"/>
<circle cx="999.8" cy="1184.6" r="4.6" fill="#dcdcdc"/>
<circle cx="999.8" cy="1198.9" r="4.6" fill="#dcdcdc"/>
<circle cx="999.8" cy="1213.2" r="4.6" fill="#dcdcdc"/>
<circle cx="999.8" cy="1241.8" r="4.6" fill="#dcdcdc"/>
<circle cx="1025.4" cy="1141.8" r="4.6" fill="#dcdcdc"/>
<circle cx="1025.4" cy="1156.1" r="4.6" fill="#dcdcdc"/>
<circle cx="1025.4" cy="1170.4" r="4.6" fill="#dcdcdc"/>
<circle cx="1025.4" cy="1184.6" r="4.6" fill="#dcdcdc"/>
<circle cx="1025.4" cy="1198.9" r="4.6" fill="#dcdcdc"/>
<circle cx="1025.4" cy="1227.5" r="4.6" fill="#dcdcdc"/>
<circle cx="1025.4" cy="1241.8" r="4.6" fill="#dcdcdc"/>
<circle cx="1051" cy="1141.8" r="4.6" fill="#dcdcdc"/>
<circle cx="1051" cy="1156.1" r="4.6" fill="#dcdcdc"/>
<circle cx="1051" cy="1170.4" r="4.6" fill="#dcdcdc"/>
<circle cx="1051" cy="1184.6" r="4.6" fill="#dcdcdc"/>
<circle cx="1051" cy="1198.9" r="4.6" fill="#dcdcdc"/>
<circle cx="1051" cy="1213.2" r="4.6" fill="#dcdcdc"/>
<circle cx="1076.6" cy="1141.8" r="4.6" fill="#dcdcdc"/>
<circle cx="1076.6" cy="1156.1" r="4.6" fill="#dcdcdc"/>
<circle cx="1076.6" cy="1170.4" r="4.6" fill="#dcdcdc"/>
<circle cx="1076.6" cy="1184.6" r="4.6" fill="#dcdcdc"/>
<circle cx="1076.6" cy="1213.2" r="4.6" fill="#dcdcdc"/>
<circle cx="1076.6" cy="1227.5" r="4.6" fill="#dcdcdc"/>
<circle cx="1076.6" cy="1241.8" r="4.6" fill="#dcdcdc"/>
<circle cx="1102.3" cy="1141.8" r="4.6" fill="#dcdcdc"/>
<circle cx="1102.3" cy="1156.1" r="4.6" fill="#dcdcdc"/>
<circle cx="1102.3" cy="1170.4" r="4.6" fill="#dcdcdc"/>
<circle cx="1102.3" cy="1184.6" r="4.6" fill="#dcdcdc"/>
<circle cx="1102.3" cy="1213.2" r="4.6" fill="#dcdcdc"/>
<circle cx="1102.3" cy="1227.5" r="4.6" fill="#dcdcdc"/>
<circle cx="1127.9" cy="1141.8" r="4.6" fill="#dcdcdc"/>
<circle cx="1127.9" cy="1156.1" r="4.6" fill="#dcdcdc"/>
<circle cx="1127.9" cy="1170.4" r="4.6" fill="#dcdcdc"/>
<circle cx="1127.9" cy="1198.9" r="4.6" fill="#dcdcdc"/>
<circle cx="1127.9" cy="1213.2" r="4.6" fill="#dcdcdc"/>
<circle cx="1127.9" cy="1227.5" r="4.6" fill="#dcdcdc"/>
<circle cx="1153.5" cy="1141.8" r="4.6" fill="#dcdcdc"/>
<circle cx="1153.5" cy="1156.1" r="4.6" fill="#dcdcdc"/>
<circle cx="1153.5" cy="1170.4" r="4.6" fill="#dcdcdc"/>
<circle cx="1153.5" cy="1184.6" r="4.6" fill="#dcdcdc"/>
<circle cx="1153.5" cy="1198.9" r="4.6" fill="#dcdcdc"/>
<circle cx="1153.5" cy="1227.5" r="4.6" fill="#dcdcdc"/>
<circle cx="1179.1" cy="1141.8" r="4.6" fill="#dcdcdc"/>
<circle cx="1179.1" cy="1156.1" r="4.6" fill="#dcdcdc"/>
<circle cx="1179.1" cy="1170.4" r="4.6" fill="#dcdcdc"/>
<circle cx="1179.1" cy="1184.6" r="4.6" fill="#dcdcdc"/>
<circle cx="1179.1" cy="1198.9" r="4.6" fill="#dcdcdc"/>
<circle cx="1179.1" cy="1241.8" r="4.6" fill="#dcdcdc"/>
<circle cx="1204.8" cy="1141.8" r="4.6" fill="#dcdcdc"/>
<circle cx="1204.8" cy="1156.1" r="4.6" fill="#dcdcdc"/>
<circle cx="1204.8" cy="1184.6" r="4.6" fill="#dcdcdc"/>
<circle cx="1204.8" cy="1198.9" r="4.6" fill="#dcdcdc"/>
<circle cx="1204.8" cy="1213.2" r="4.6" fill="#dcdcdc"/>
<circle cx="1204.8" cy="1227.5" r="4.6" fill="#dcdcdc"/>
<circle cx="1204.8" cy="1241.8" r="4.6" fill="#dcdcdc"/>
<circle cx="1230.4" cy="1141.8" r="4.6" fill="#dcdcdc"/>
<circle cx="1230.4" cy="1156.1" r="4.6" fill="#dcdcdc"/>
<circle cx="1230.4" cy="1170.4" r="4.6" fill="#dcdcdc"/>
<circle cx="1230.4" cy="1184.6" r="4.6" fill="#dcdcdc"/>
<circle cx="1230.4" cy="1213.2" r="4.6" fill="#dcdcdc"/>
<circle cx="1230.4" cy="1241.8" r="4.6" fill="#dcdcdc"/>
<circle cx="1256" cy="1156.1" r="4.6" fill="#dcdcdc"/>
<circle cx="1256" cy="1170.4" r="4.6" fill="#dcdcdc"/>
<circle cx="1256" cy="1184.6" r="4.6" fill="#dcdcdc"/>
<circle cx="1256" cy="1198.9" r="4.6" fill="#dcdcdc"/>
<circle cx="1256" cy="1213.2" r="4.6" fill="#dcdcdc"/>
<circle cx="1256" cy="1227.5" r="4.6" fill="#dcdcdc"/>
<circle cx="1256" cy="1241.8" r="4.6" fill="#dcdcdc"/>
<circle cx="1281.6" cy="1141.8" r="4.6" fill="#dcdcdc"/>
<circle cx="1281.6" cy="1170.4" r="4.6" fill="#dcdcdc"/>
<circle cx="1281.6" cy="1184.6" r="4.6" fill="#dcdcdc"/>
<circle cx="1281.6" cy="1198.9" r="4.6" fill="#dcdcdc"/>
<circle cx="1281.6" cy="1213.2" r="4.6" fill="#dcdcdc"/>
<circle cx="1281.6" cy="1227.5" r="4.6" fill="#dcdcdc"/>
<circle cx="1281.6" cy="1241.8" r="4.6" fill="#dcdcdc"/>
<circle cx="1307.2" cy="1141.8" r="4.6" fill="#dcdcdc"/>
<circle cx="1307.2" cy="1156.1" r="4.6" fill="#dcdcdc"/>
<circle cx="1307.2" cy="1170.4" r="4.6" fill="#dcdcdc"/>
<circle cx="1307.2" cy="1198.9" r="4.6" fill="#dcdcdc"/>
<circle cx="1307.2" cy="1213.2" r="4.6" fill="#dcdcdc"/>
<circle cx="1307.2" cy="1227.5" r="4.6" fill="#dcdcdc"/>
<circle cx="1307.2" cy="1241.8" r="4.6" fill="#dcdcdc"/>
<circle cx="1332.9" cy="1156.1" r="4.6" fill="#dcdcdc"/>
<circle cx="1332.9" cy="1170.4" r="4.6" fill="#dcdcdc"/>
<circle cx="1332.9" cy="1184.6" r="4.6" fill="#dcdcdc"/>
<circle cx="1332.9" cy="1198.9" r="4.6" fill="#dcdcdc"/>
<circle cx="1332.9" cy="1213.2" r="4.6" fill="#dcdcdc"/>
<circle cx="1332.9" cy="1227.5" r="4.6" fill="#dcdcdc"/>
<circle cx="1358.5" cy="1141.8" r="4.6" fill="#dcdcdc"/>
<circle cx="1358.5" cy="1156.1" r="4.6" fill="#dcdcdc"/>
<circle cx="1358.5" cy="1184.6" r="4.6" fill="#dcdcdc"/>
<circle cx="1358.5" cy="1198.9" r="4.6" fill="#dcdcdc"/>
<circle cx="1358.5" cy="1213.2" r="4.6" fill="#dcdcdc"/>
<circle cx="1358.5" cy="1227.5" r="4.6" fill="#dcdcdc"/>
<circle cx="1384.1" cy="1141.8" r="4.6" fill="#dcdcdc"/>
<circle cx="1384.1" cy="1156.1" r="4.6" fill="#dcdcdc"/>
<circle cx="1384.1" cy="1170.4" r="4.6" fill="#dcdcdc"/>
<circle cx="1384.1" cy="1184.6" r="4.6" fill="#dcdcdc"/>
<circle cx="1384.1" cy="1227.5" r="4.6" fill="#dcdcdc"/>
<circle cx="1384.1" cy="1241.8" r="4.6" fill="#dcdcdc"/>
<circle cx="1409.7" cy="1141.8" r="4.6" fill="#dcdcdc"/>
<circle cx="1409.7" cy="1156.1" r="4.6" fill="#dcdcdc"/>
<circle cx="1409.7" cy="1170.4" r="4.6" fill="#dcdcdc"/>
<circle cx="1409.7" cy="1198.9" r="4.6" fill="#dcdcdc"/>
<circle cx="1409.7" cy="1213.2" r="4.6" fill="#dcdcdc"/>
<circle cx="1435.4" cy="1141.8" r="4.6" fill="#dcdcdc"/>
<circle cx="1435.4" cy="1156.1" r="4.6" fill="#dcdcdc"/>
<circle cx="1435.4" cy="1170.4" r="4.6" fill="#dcdcdc"/>
<circle cx="1435.4" cy="1184.6" r="4.6" fill="#dcdcdc"/>
<circle cx="1435.4" cy="1213.2" r="4.6" fill="#dcdcdc"/>
<circle cx="1461" cy="1141.8" r="4.6" fill="#dcdcdc"/>
<circle cx="1461" cy="1156.1" r="4.6" fill="#dcdcdc"/>
<circle cx="1461" cy="1170.4" r="4.6" fill="#dcdcdc"/>
<circle cx="1461" cy="1184.6" r="4.6" fill="#dcdcdc"/>
<circle cx="1461" cy="1198.9" r="4.6" fill="#dcdcdc"/>
<circle cx="1486.6" cy="1141.8" r="4.6" fill="#dcdcdc"/>
<circle cx="1486.6" cy="1156.1" r="4.6" fill="#dcdcdc"/>
<circle cx="1486.6" cy="1184.6" r="4.6" fill="#dcdcdc"/>
<circle cx="1486.6" cy="1198.9" r="4.6" fill="#dcdcdc"/>
<circle cx="1486.6" cy="1213.2" r="4.6" fill="#dcdcdc"/>
<circle cx="1486.6" cy="1241.8" r="4.6" fill="#dcdcdc"/>
<circle cx="1512.2" cy="1141.8" r="4.6" fill="#dcdcdc"/>
<circle cx="1512.2" cy="1170.4" r="4.6" fill="#dcdcdc"/>
<circle cx="1512.2" cy="1184.6" r="4.6" fill="#dcdcdc"/>
<circle cx="1512.2" cy="1198.9" r="4.6" fill="#dcdcdc"/>
<circle cx="1512.2" cy="1213.2" r="4.6" fill="#dcdcdc"/>
<circle cx="1512.2" cy="1227.5" r="4.6" fill="#dcdcdc"/>
<circle cx="1537.9" cy="1141.8" r="4.6" fill="#dcdcdc"/>
<circle cx="1537.9" cy="1156.1" r="4.6" fill="#dcdcdc"/>
<circle cx="1537.9" cy="1170.4" r="4.6" fill="#dcdcdc"/>
<circle cx="1537.9" cy="1213.2" r="4.6" fill="#dcdcdc"/>
<circle cx="1537.9" cy="1227.5" r="4.6" fill="#dcdcdc"/>
<circle cx="1563.5" cy="1141.8" r="4.6" fill="#dcdcdc"/>
<circle cx="1563.5" cy="1170.4" r="4.6" fill="#dcdcdc"/>
<circle cx="1563.5" cy="1184.6" r="4.6" fill="#dcdcdc"/>
<circle cx="1563.5" cy="1198.9" r="4.6" fill="#dcdcdc"/>
<circle cx="1563.5" cy="1213.2" r="4.6" fill="#dcdcdc"/>
<circle cx="1563.5" cy="1241.8" r="4.6" fill="#dcdcdc"/>
<circle cx="1589.1" cy="1141.8" r="4.6" fill="#dcdcdc"/>
<circle cx="1589.1" cy="1156.1" r="4.6" fill="#dcdcdc"/>
<circle cx="1589.1" cy="1170.4" r="4.6" fill="#dcdcdc"/>
<circle cx="1589.1" cy="1198.9" r="4.6" fill="#dcdcdc"/>
<circle cx="1589.1" cy="1227.5" r="4.6" fill="#dcdcdc"/>
<circle cx="1614.7" cy="1141.8" r="4.6" fill="#dcdcdc"/>
<circle cx="1614.7" cy="1156.1" r="4.6" fill="#dcdcdc"/>
<circle cx="1614.7" cy="1170.4" r="4.6" fill="#dcdcdc"/>
<circle cx="1614.7" cy="1198.9" r="4.6" fill="#dcdcdc"/>
<circle cx="1614.7" cy="1213.2" r="4.6" fill="#dcdcdc"/>
<circle cx="1614.7" cy="1241.8" r="4.6" fill="#dcdcdc"/>
<circle cx="1640.3" cy="1141.8" r="4.6" fill="#dcdcdc"/>
<circle cx="1640.3" cy="1156.1" r="4.6" fill="#dcdcdc"/>
<circle cx="1640.3" cy="1170.4" r="4.6" fill="#dcdcdc"/>
<circle cx="1640.3" cy="1184.6" r="4.6" fill="#dcdcdc"/>
<circle cx="1640.3" cy="1227.5" r="4.6" fill="#dcdcdc"/>
<circle cx="1666" cy="1156.1" r="4.6" fill="#dcdcdc"/>
<circle cx="1666" cy="1170.4" r="4.6" fill="#dcdcdc"/>
<circle cx="1666" cy="1184.6" r="4.6" fill="#dcdcdc"/>
<circle cx="1666" cy="1198.9" r="4.6" fill="#dcdcdc"/>
<circle cx="1666" cy="1213.2" r="4.6" fill="#dcdcdc"/>
<circle cx="1666" cy="1241.8" r="4.6" fill="#dcdcdc"/>
<circle cx="1691.6" cy="1141.8" r="4.6" fill="#dcdcdc"/>
<circle cx="1691.6" cy="1156.1" r="4.6" fill="#dcdcdc"/>
<circle cx="1691.6" cy="1184.6" r="4.6" fill="#dcdcdc"/>
<circle cx="1691.6" cy="1198.9" r="4.6" fill="#dcdcdc"/>
<circle cx="1691.6" cy="1213.2" r="4.6" fill="#dcdcdc"/>
<circle cx="1717.2" cy="1141.8" r="4.6" fill="#dcdcdc"/>
<circle cx="1717.2" cy="1156.1" r="4.6" fill="#dcdcdc"/>
<circle cx="1717.2" cy="1170.4" r="4.6" fill="#dcdcdc"/>
<circle cx="1717.2" cy="1184.6" r="4.6" fill="#dcdcdc"/>
<circle cx="1717.2" cy="1241.8" r="4.6" fill="#dcdcdc"/>
<circle cx="1742.8" cy="1141.8" r="4.6" fill="#dcdcdc"/>
<circle cx="1742.8" cy="1170.4" r="4.6" fill="#dcdcdc"/>
<circle cx="1742.8" cy="1184.6" r="4.6" fill="#dcdcdc"/>
<circle cx="1742.8" cy="1198.9" r="4.6" fill="#dcdcdc"/>
<circle cx="1742.8" cy="1227.5" r="4.6" fill="#dcdcdc"/>
<circle cx="1742.8" cy="1241.8" r="4.6" fill="#dcdcdc"/>
<circle cx="1768.5" cy="1141.8" r="4.6" fill="#dcdcdc"/>
<circle cx="1768.5" cy="1156.1" r="4.6" fill="#dcdcdc"/>
<circle cx="1768.5" cy="1184.6" r="4.6" fill="#dcdcdc"/>
<circle cx="1768.5" cy="1198.9" r="4.6" fill="#dcdcdc"/>
<circle cx="1768.5" cy="1227.5" r="4.6" fill="#dcdcdc"/>
<circle cx="1768.5" cy="1241.8" r="4.6" fill="#dcdcdc"/>
<circle cx="1794.1" cy="1141.8" r="4.6" fill="#dcdcdc"/>
<circle cx="1794.1" cy="1156.1" r="4.6" fill="#dcdcdc"/>
<circle cx="1794.1" cy="1170.4" r="4.6" fill="#dcdcdc"/>
<circle cx="1794.1" cy="1213.2" r="4.6" fill="#dcdcdc"/>
<circle cx="1794.1" cy="1227.5" r="4.6" fill="#dcdcdc"/>
<circle cx="1794.1" cy="1241.8" r="4.6" fill="#dcdcdc"/>
<circle cx="1819.7" cy="1141.8" r="4.6" fill="#dcdcdc"/>
<circle cx="1819.7" cy="1156.1" r="4.6" fill="#dcdcdc"/>
<circle cx="1819.7" cy="1170.4" r="4.6" fill="#dcdcdc"/>
<circle cx="1819.7" cy="1198.9" r="4.6" fill="#dcdcdc"/>
<circle cx="1819.7" cy="1227.5" r="4.6" fill="#dcdcdc"/>
<circle cx="1819.7" cy="1241.8" r="4.6" fill="#dcdcdc"/>
<circle cx="1845.3" cy="1156.1" r="4.6" fill="#dcdcdc"/>
<circle cx="1845.3" cy="1170.4" r="4.6" fill="#dcdcdc"/>
<circle cx="1845.3" cy="1184.6" r="4.6" fill="#dcdcdc"/>
<circle cx="1845.3" cy="1213.2" r="4.6" fill="#dcdcdc"/>
<circle cx="1845.3" cy="1227.5" r="4.6" fill="#dcdcdc"/>
<circle cx="1845.3" cy="1241.8" r="4.6" fill="#dcdcdc"/>
<circle cx="1871" cy="1141.8" r="4.6" fill="#dcdcdc"/>
<circle cx="1871" cy="1156.1" r="4.6" fill="#dcdcdc"/>
<circle cx="1871" cy="1184.6" r="4.6" fill="#dcdcdc"/>
<circle cx="1871" cy="1213.2" r="4.6" fill="#dcdcdc"/>
<circle cx="1871" cy="1227.5" r="4.6" fill="#dcdcdc"/>
<circle cx="1871" cy="1241.8" r="4.6" fill="#dcdcdc"/>
<circle cx="1896.6" cy="1141.8" r="4.6" fill="#dcdcdc"/>
<circle cx="1896.6" cy="1156.1" r="4.6" fill="#dcdcdc"/>
<circle cx="1896.6" cy="1184.6" r="4.6" fill="#dcdcdc"/>
<circle cx="1896.6" cy="1198.9" r="4.6" fill="#dcdcdc"/>
<circle cx="1896.6" cy="1241.8" r="4.6" fill="#dcdcdc"/>
<circle cx="1922.2" cy="1141.8" r="4.6" fill="#dcdcdc"/>
<circle cx="1922.2" cy="1170.4" r="4.6" fill="#dcdcdc"/>
<circle cx="1922.2" cy="1184.6" r="4.6" fill="#dcdcdc"/>
<circle cx="1922.2" cy="1213.2" r="4.6" fill="#dcdcdc"/>
<circle cx="1922.2" cy="1227.5" r="4.6" fill="#dcdcdc"/>
<circle cx="1922.2" cy="1241.8" r="4.6" fill="#dcdcdc"/>
<circle cx="1947.8" cy="1141.8" r="4.6" fill="#dcdcdc"/>
<circle cx="1947.8" cy="1170.4" r="4.6" fill="#dcdcdc"/>
<circle cx="1947.8" cy="1184.6" r="4.6" fill="#dcdcdc"/>
<circle cx="1947.8" cy="1213.2" r="4.6" fill="#dcdcdc"/>
<circle cx="1947.8" cy="1227.5" r="4.6" fill="#dcdcdc"/>
<circle cx="1973.4" cy="1141.8" r="4.6" fill="#dcdcdc"/>
<circle cx="1973.4" cy="1170.4" r="4.6" fill="#dcdcdc"/>
<circle cx="1973.4" cy="1184.6" r="4.6" fill="#dcdcdc"/>
<circle cx="1973.4" cy="1198.9" r="4.6" fill="#dcdcdc"/>
<circle cx="1973.4" cy="1213.2" r="4.6" fill="#dcdcdc"/>
<ellipse cx="974.1" cy="1241.8" rx="4.5" ry="4.8" fill="#333"/>
<ellipse cx="999.8" cy="1227.5" rx="4.5" ry="4.8" fill="#333"/>
<ellipse cx="1025.4" cy="1213.2" rx="4.5" ry="4.8" fill="#333"/>
<line x1="1051" y1="1227.5" x2="1051" y2="1241.8" stroke="#333" stroke-width="1.4"/>
<ellipse cx="1051" cy="1227.5" rx="4.5" ry="4.8" fill="#333"/>
<ellipse cx="1051" cy="1241.8" rx="4.5" ry="4.8" fill="#333"/>
<ellipse cx="1076.6" cy="1198.9" rx="4.5" ry="4.8" fill="#333"/>
<line x1="1102.3" y1="1198.9" x2="1102.3" y2="1241.8" stroke="#333" stroke-width="1.4"/>
<ellipse cx="1102.3" cy="1198.9" rx="4.5" ry="4.8" fill="#333"/>
<ellipse cx="1102.3" cy="1241.8" rx="4.5" ry="4.8" fill="#333"/>
<line x1="1127.9" y1="1184.6" x2="1127.9" y2="1241.8" stroke="#333" stroke-width="1.4"/>
<ellipse cx="1127.9" cy="1184.6" rx="4.5" ry="4.8" fill="#333"/>
<ellipse cx="1127.9" cy="1241.8" rx="4.5" ry="4.8" fill="#333"/>
<line x1="1153.5" y1="1213.2" x2="1153.5" y2="1241.8" stroke="#333" stroke-width="1.4"/>
<ellipse cx="1153.5" cy="1213.2" rx="4.5" ry="4.8" fill="#333"/>
<ellipse cx="1153.5" cy="1241.8" rx="4.5" ry="4.8" fill="#333"/>
<line x1="1179.1" y1="1213.2" x2="1179.1" y2="1227.5" stroke="#333" stroke-width="1.4"/>
<ellipse cx="1179.1" cy="1213.2" rx="4.5" ry="4.8" fill="#333"/>
<ellipse cx="1179.1" cy="1227.5" rx="4.5" ry="4.8" fill="#333"/>
<ellipse cx="1204.8" cy="1170.4" rx="4.5" ry="4.8" fill="#333"/>
<line x1="1230.4" y1="1198.9" x2="1230.4" y2="1227.5" stroke="#333" stroke-width="1.4"/>
<ellipse cx="1230.4" cy="1198.9" rx="4.5" ry="4.8" fill="#333"/>
<ellipse cx="1230.4" cy="1227.5" rx="4.5" ry="4.8" fill="#333"/>
<ellipse cx="1256" cy="1141.8" rx="4.5" ry="4.8" fill="#333"/>
<ellipse cx="1281.6" cy="1156.1" rx="4.5" ry="4.8" fill="#333"/>
<ellipse cx="1307.2" cy="1184.6" rx="4.5" ry="4.8" fill="#333"/>
<line x1="1332.9" y1="1141.8" x2="1332.9" y2="1241.8" stroke="#333" stroke-width="1.4"/>
<ellipse cx="1332.9" cy="1141.8" rx="4.5" ry="4.8" fill="#333"/>
<ellipse cx="1332.9" cy="1241.8" rx="4.5" ry="4.8" fill="#333"/>
<line x1="1358.5" y1="1170.4" x2="1358.5" y2="1241.8" stroke="#333" stroke-width="1.4"/>
<ellipse cx="1358.5" cy="1170.4" rx="4.5" ry="4.8" fill="#333"/>
<ellipse cx="1358.5" cy="1241.8" rx="4.5" ry="4.8" fill="#333"/>
<line x1="1384.1" y1="1198.9" x2="1384.1" y2="1213.2" stroke="#333" stroke-width="1.4"/>
<ellipse cx="1384.1" cy="1198.9" rx="4.5" ry="4.8" fill="#333"/>
<ellipse cx="1384.1" cy="1213.2" rx="4.5" ry="4.8" fill="#333"/>
<line x1="1409.7" y1="1184.6" x2="1409.7" y2="1241.8" stroke="#333" stroke-width="1.4"/>
<ellipse cx="1409.7" cy="1184.6" rx="4.5" ry="4.8" fill="#333"/>
<ellipse cx="1409.7" cy="1227.5" rx="4.5" ry="4.8" fill="#333"/>
<ellipse cx="1409.7" cy="1241.8" rx="4.5" ry="4.8" fill="#333"/>
<line x1="1435.4" y1="1198.9" x2="1435.4" y2="1241.8" stroke="#333" stroke-width="1.4"/>
<ellipse cx="1435.4" cy="1198.9" rx="4.5" ry="4.8" fill="#333"/>
<ellipse cx="1435.4" cy="1227.5" rx="4.5" ry="4.8" fill="#333"/>
<ellipse cx="1435.4" cy="1241.8" rx="4.5" ry="4.8" fill="#333"/>
<line x1="1461" y1="1213.2" x2="1461" y2="1241.8" stroke="#333" stroke-width="1.4"/>
<ellipse cx="1461" cy="1213.2" rx="4.5" ry="4.8" fill="#333"/>
<ellipse cx="1461" cy="1227.5" rx="4.5" ry="4.8" fill="#333"/>
<ellipse cx="1461" cy="1241.8" rx="4.5" ry="4.8" fill="#333"/>
<line x1="1486.6" y1="1170.4" x2="1486.6" y2="1227.5" stroke="#333" stroke-width="1.4"/>
<ellipse cx="1486.6" cy="1170.4" rx="4.5" ry="4.8" fill="#333"/>
<ellipse cx="1486.6" cy="1227.5" rx="4.5" ry="4.8" fill="#333"/>
<line x1="1512.2" y1="1156.1" x2="1512.2" y2="1241.8" stroke="#333" stroke-width="1.4"/>
<ellipse cx="1512.2" cy="1156.1" rx="4.5" ry="4.8" fill="#333"/>
<ellipse cx="1512.2" cy="1241.8" rx="4.5" ry="4.8" fill="#333"/>
<line x1="1537.9" y1="1184.6" x2="1537.9" y2="1241.8" stroke="#333" stroke-width="1.4"/>
<ellipse cx="1537.9" cy="1184.6" rx="4.5" ry="4.8" fill="#333"/>
<ellipse cx="1537.9" cy="1198.9" rx="4.5" ry="4.8" fill="#333"/>
<ellipse cx="1537.9" cy="1241.8" rx="4.5" ry="4.8" fill="#333"/>
<line x1="1563.5" y1="1156.1" x2="1563.5" y2="1227.5" stroke="#333" stroke-width="1.4"/>
<ellipse cx="1563.5" cy="1156.1" rx="4.5" ry="4.8" fill="#333"/>
<ellipse cx="1563.5" cy="1227.5" rx="4.5" ry="4.8" fill="#333"/>
<line x1="1589.1" y1="1184.6" x2="1589.1" y2="1241.8" stroke="#333" stroke-width="1.4"/>
<ellipse cx="1589.1" cy="1184.6" rx="4.5" ry="4.8" fill="#333"/>
<ellipse cx="1589.1" cy="1213.2" rx="4.5" ry="4.8" fill="#333"/>
<ellipse cx="1589.1" cy="1241.8" rx="4.5" ry="4.8" fill="#333"/>
<line x1="1614.7" y1="1184.6" x2="1614.7" y2="1227.5" stroke="#333" stroke-width="1.4"/>
<ellipse cx="1614.7" cy="1184.6" rx="4.5" ry="4.8" fill="#333"/>
<ellipse cx="1614.7" cy="1227.5" rx="4.5" ry="4.8" fill="#333"/>
<line x1="1640.3" y1="1198.9" x2="1640.3" y2="1241.8" stroke="#333" stroke-width="1.4"/>
<ellipse cx="1640.3" cy="1198.9" rx="4.5" ry="4.8" fill="#333"/>
<ellipse cx="1640.3" cy="1213.2" rx="4.5" ry="4.8" fill="#333"/>
<ellipse cx="1640.3" cy="1241.8" rx="4.5" ry="4.8" fill="#333"/>
<line x1="1666" y1="1141.8" x2="1666" y2="1227.5" stroke="#333" stroke-width="1.4"/>
<ellipse cx="1666" cy="1141.8" rx="4.5" ry="4.8" fill="#333"/>
<ellipse cx="1666" cy="1227.5" rx="4.5" ry="4.8" fill="#333"/>
<line x1="1691.6" y1="1170.4" x2="1691.6" y2="1241.8" stroke="#333" stroke-width="1.4"/>
<ellipse cx="1691.6" cy="1170.4" rx="4.5" ry="4.8" fill="#333"/>
<ellipse cx="1691.6" cy="1227.5" rx="4.5" ry="4.8" fill="#333"/>
<ellipse cx="1691.6" cy="1241.8" rx="4.5" ry="4.8" fill="#333"/>
<line x1="1717.2" y1="1198.9" x2="1717.2" y2="1227.5" stroke="#333" stroke-width="1.4"/>
<ellipse cx="1717.2" cy="1198.9" rx="4.5" ry="4.8" fill="#333"/>
<ellipse cx="1717.2" cy="1213.2" rx="4.5" ry="4.8" fill="#333"/>
<ellipse cx="1717.2" cy="1227.5" rx="4.5" ry="4.8" fill="#333"/>
<line x1="1742.8" y1="1156.1" x2="1742.8" y2="1213.2" stroke="#333" stroke-width="1.4"/>
<ellipse cx="1742.8" cy="1156.1" rx="4.5" ry="4.8" fill="#333"/>
<ellipse cx="1742.8" cy="1213.2" rx="4.5" ry="4.8" fill="#333"/>
<line x1="1768.5" y1="1170.4" x2="1768.5" y2="1213.2" stroke="#333" stroke-width="1.4"/>
<ellipse cx="1768.5" cy="1170.4" rx="4.5" ry="4.8" fill="#333"/>
<ellipse cx="1768.5" cy="1213.2" rx="4.5" ry="4.8" fill="#333"/>
<line x1="1794.1" y1="1184.6" x2="1794.1" y2="1198.9" stroke="#333" stroke-width="1.4"/>
<ellipse cx="1794.1" cy="1184.6" rx="4.5" ry="4.8" fill="#333"/>
<ellipse cx="1794.1" cy="1198.9" rx="4.5" ry="4.8" fill="#333"/>
<line x1="1819.7" y1="1184.6" x2="1819.7" y2="1213.2" stroke="#333" stroke-width="1.4"/>
<ellipse cx="1819.7" cy="1184.6" rx="4.5" ry="4.8" fill="#333"/>
<ellipse cx="1819.7" cy="1213.2" rx="4.5" ry="4.8" fill="#333"/>
<line x1="1845.3" y1="1141.8" x2="1845.3" y2="1198.9" stroke="#333" stroke-width="1.4"/>
<ellipse cx="1845.3" cy="1141.8" rx="4.5" ry="4.8" fill="#333"/>
<ellipse cx="1845.3" cy="1198.9" rx="4.5" ry="4.8" fill="#333"/>
<line x1="1871" y1="1170.4" x2="1871" y2="1198.9" stroke="#333" stroke-width="1.4"/>
<ellipse cx="1871" cy="1170.4" rx="4.5" ry="4.8" fill="#333"/>
<ellipse cx="1871" cy="1198.9" rx="4.5" ry="4.8" fill="#333"/>
<line x1="1896.6" y1="1170.4" x2="1896.6" y2="1227.5" stroke="#333" stroke-width="1.4"/>
<ellipse cx="1896.6" cy="1170.4" rx="4.5" ry="4.8" fill="#333"/>
<ellipse cx="1896.6" cy="1213.2" rx="4.5" ry="4.8" fill="#333"/>
<ellipse cx="1896.6" cy="1227.5" rx="4.5" ry="4.8" fill="#333"/>
<line x1="1922.2" y1="1156.1" x2="1922.2" y2="1198.9" stroke="#333" stroke-width="1.4"/>
<ellipse cx="1922.2" cy="1156.1" rx="4.5" ry="4.8" fill="#333"/>
<ellipse cx="1922.2" cy="1198.9" rx="4.5" ry="4.8" fill="#333"/>
<line x1="1947.8" y1="1156.1" x2="1947.8" y2="1241.8" stroke="#333" stroke-width="1.4"/>
<ellipse cx="1947.8" cy="1156.1" rx="4.5" ry="4.8" fill="#333"/>
<ellipse cx="1947.8" cy="1198.9" rx="4.5" ry="4.8" fill="#333"/>
<ellipse cx="1947.8" cy="1241.8" rx="4.5" ry="4.8" fill="#333"/>
<line x1="1973.4" y1="1156.1" x2="1973.4" y2="1241.8" stroke="#333" stroke-width="1.4"/>
<ellipse cx="1973.4" cy="1156.1" rx="4.5" ry="4.8" fill="#333"/>
<ellipse cx="1973.4" cy="1227.5" rx="4.5" ry="4.8" fill="#333"/>
<ellipse cx="1973.4" cy="1241.8" rx="4.5" ry="4.8" fill="#333"/>
<rect x="839.2" y="1135.2" width="9.4" height="6.3" fill="#333"/>
<rect x="838.2" y="1149.8" width="10.4" height="6.3" fill="#333"/>
<rect x="835.3" y="1164.2" width="13.3" height="6.3" fill="#333"/>
<rect x="829.3" y="1178.8" width="19.3" height="6.3" fill="#333"/>
<rect x="817.5" y="1193.2" width="31.1" height="6.3" fill="#333"/>
<rect x="817" y="1207.8" width="31.6" height="6.3" fill="#333"/>
<rect x="800.4" y="1222.2" width="48.2" height="6.3" fill="#333"/>
<rect x="774.7" y="1236.8" width="73.9" height="6.3" fill="#333"/>
<text x="855.5" y="1142.7" font-size="21">NFIB</text>
<text x="855.5" y="1157.5" font-size="21">ONECUT1</text>
<text x="855.5" y="1172.2" font-size="21">TBX3</text>
<text x="855.5" y="1187" font-size="21">TCF7L1</text>
<text x="855.5" y="1201.8" font-size="21">FOXA1</text>
<text x="855.5" y="1216.5" font-size="21">HNF1A</text>
<text x="855.5" y="1231.3" font-size="21">CEBPA</text>
<text x="855.5" y="1246.1" font-size="21">HNF4A</text>
<line x1="771.7" y1="1247.1" x2="852.1" y2="1247.1" stroke="#555" stroke-width="1"/>
<line x1="788" y1="1247.1" x2="788" y2="1250" stroke="#555" stroke-width="1"/>
<line x1="838.2" y1="1247.1" x2="838.2" y2="1250" stroke="#555" stroke-width="1"/>
<text x="784" y="1266.6" font-size="21" fill="#111">6000</text>
<text x="835" y="1266.6" font-size="21" fill="#111">0</text>
<text x="804.5" y="807.6" font-size="29" font-weight="bold">e</text>
<clipPath id="dc0"><rect x="45.7" y="1321.1" width="162.3" height="156.7"/></clipPath>
<line x1="128" y1="1321.1" x2="128" y2="1477.8" stroke="#9a9a9a" stroke-width="3.6"/>
<g clip-path="url(#dc0)">
<path d="M52.3 1470.7 L53.4 1470.7 L54.4 1470.7 L55.5 1470.7 L56.6 1470.6 L57.6 1470.6 L58.7 1470.6 L59.8 1470.6 L60.8 1470.6 L61.9 1470.6 L63 1470.6 L64 1470.6 L65.1 1470.5 L66.1 1470.5 L67.2 1470.5 L68.3 1470.5 L69.3 1470.5 L70.4 1470.4 L71.5 1470.4 L72.5 1470.4 L73.6 1470.3 L74.7 1470.3 L75.7 1470.3 L76.8 1470.2 L77.9 1470.2 L78.9 1470.1 L80 1470 L81.1 1470 L82.1 1469.9 L83.2 1469.8 L84.2 1469.6 L85.3 1469.5 L86.4 1469.4 L87.4 1469.2 L88.5 1469 L89.6 1468.8 L90.6 1468.6 L91.7 1468.4 L92.8 1468.1 L93.8 1467.8 L94.9 1467.4 L96 1467.1 L97 1466.7 L98.1 1466.2 L99.2 1465.8 L100.2 1465.3 L101.3 1464.8 L102.4 1464.2 L103.4 1463.6 L104.5 1463 L105.6 1462.3 L106.6 1461.6 L107.7 1460.9 L108.7 1460.2 L109.8 1459.4 L110.9 1458.7 L111.9 1457.9 L113 1457.2 L114.1 1456.4 L115.1 1455.7 L116.2 1455 L117.3 1454.3 L118.3 1453.6 L119.4 1453 L120.5 1452.5 L121.5 1452 L122.6 1451.6 L123.7 1451.3 L124.7 1451.1 L125.8 1450.9 L126.9 1450.9 L127.9 1450.9 L129 1451.1 L130 1451.3 L131.1 1451.6 L132.2 1452 L133.2 1452.5 L134.3 1453 L135.4 1453.6 L136.4 1454.3 L137.5 1455 L138.6 1455.7 L139.6 1456.4 L140.7 1457.2 L141.8 1457.9 L142.8 1458.7 L143.9 1459.4 L145 1460.2 L146 1460.9 L147.1 1461.6 L148.2 1462.3 L149.2 1463 L150.3 1463.6 L151.3 1464.2 L152.4 1464.8 L153.5 1465.3 L154.5 1465.8 L155.6 1466.2 L156.7 1466.7 L157.7 1467.1 L158.8 1467.4 L159.9 1467.8 L160.9 1468.1 L162 1468.4 L163.1 1468.6 L164.1 1468.8 L165.2 1469 L166.3 1469.2 L167.3 1469.4 L168.4 1469.5 L169.4 1469.6 L170.5 1469.8 L171.6 1469.9 L172.6 1470 L173.7 1470 L174.8 1470.1 L175.8 1470.2 L176.9 1470.2 L178 1470.3 L179 1470.3 L180.1 1470.3 L181.2 1470.4 L182.2 1470.4 L183.3 1470.4 L184.4 1470.5 L185.4 1470.5 L186.5 1470.5 L187.6 1470.5 L188.6 1470.5 L189.7 1470.6 L190.8 1470.6 L191.8 1470.6 L192.9 1470.6 L193.9 1470.6 L195 1470.6 L196.1 1470.6 L197.1 1470.6 L198.2 1470.7 L199.3 1470.7 L200.3 1470.7 L201.4 1470.7" stroke="#62489A" stroke-width="1.5" fill="none" stroke-linejoin="round"/>
<path d="M52.3 1470.7 L53.4 1470.7 L54.4 1470.6 L55.5 1470.6 L56.6 1470.6 L57.6 1470.6 L58.7 1470.6 L59.8 1470.6 L60.8 1470.6 L61.9 1470.6 L63 1470.5 L64 1470.5 L65.1 1470.5 L66.1 1470.5 L67.2 1470.5 L68.3 1470.5 L69.3 1470.4 L70.4 1470.4 L71.5 1470.4 L72.5 1470.4 L73.6 1470.3 L74.7 1470.3 L75.7 1470.3 L76.8 1470.2 L77.9 1470.2 L78.9 1470.2 L80 1470.1 L81.1 1470.1 L82.1 1470 L83.2 1470 L84.2 1469.9 L85.3 1469.9 L86.4 1469.8 L87.4 1469.7 L88.5 1469.6 L89.6 1469.5 L90.6 1469.4 L91.7 1469.2 L92.8 1469.1 L93.8 1468.9 L94.9 1468.7 L96 1468.4 L97 1468.1 L98.1 1467.8 L99.2 1467.4 L100.2 1466.9 L101.3 1466.4 L102.4 1465.8 L103.4 1465.2 L104.5 1464.4 L105.6 1463.6 L106.6 1462.7 L107.7 1461.7 L108.7 1460.6 L109.8 1459.4 L110.9 1458.2 L111.9 1456.8 L113 1455.4 L114.1 1453.9 L115.1 1452.3 L116.2 1450.7 L117.3 1449.1 L118.3 1447.4 L119.4 1445.8 L120.5 1444.2 L121.5 1442.7 L122.6 1441.3 L123.7 1440 L124.7 1438.9 L125.8 1437.9 L126.9 1437.1 L127.9 1437.9 L129 1438.9 L130 1440 L131.1 1441.3 L132.2 1442.7 L133.2 1444.2 L134.3 1445.8 L135.4 1447.4 L136.4 1449.1 L137.5 1450.7 L138.6 1452.3 L139.6 1453.9 L140.7 1455.4 L141.8 1456.8 L142.8 1458.2 L143.9 1459.4 L145 1460.6 L146 1461.7 L147.1 1462.7 L148.2 1463.6 L149.2 1464.4 L150.3 1465.2 L151.3 1465.8 L152.4 1466.4 L153.5 1466.9 L154.5 1467.4 L155.6 1467.8 L156.7 1468.1 L157.7 1468.4 L158.8 1468.7 L159.9 1468.9 L160.9 1469.1 L162 1469.2 L163.1 1469.4 L164.1 1469.5 L165.2 1469.6 L166.3 1469.7 L167.3 1469.8 L168.4 1469.9 L169.4 1469.9 L170.5 1470 L171.6 1470 L172.6 1470.1 L173.7 1470.1 L174.8 1470.2 L175.8 1470.2 L176.9 1470.2 L178 1470.3 L179 1470.3 L180.1 1470.3 L181.2 1470.4 L182.2 1470.4 L183.3 1470.4 L184.4 1470.4 L185.4 1470.5 L186.5 1470.5 L187.6 1470.5 L188.6 1470.5 L189.7 1470.5 L190.8 1470.5 L191.8 1470.6 L192.9 1470.6 L193.9 1470.6 L195 1470.6 L196.1 1470.6 L197.1 1470.6 L198.2 1470.6 L199.3 1470.6 L200.3 1470.7 L201.4 1470.7" stroke="#3A78BE" stroke-width="1.5" fill="none" stroke-linejoin="round"/>
<path d="M52.3 1470.4 L53.4 1470.4 L54.4 1470.4 L55.5 1470.3 L56.6 1470.3 L57.6 1470.3 L58.7 1470.3 L59.8 1470.3 L60.8 1470.2 L61.9 1470.2 L63 1470.2 L64 1470.2 L65.1 1470.1 L66.1 1470.1 L67.2 1470.1 L68.3 1470 L69.3 1470 L70.4 1470 L71.5 1469.9 L72.5 1469.9 L73.6 1469.8 L74.7 1469.8 L75.7 1469.7 L76.8 1469.6 L77.9 1469.5 L78.9 1469.4 L80 1469.3 L81.1 1469.2 L82.1 1469.1 L83.2 1468.9 L84.2 1468.8 L85.3 1468.5 L86.4 1468.3 L87.4 1468 L88.5 1467.7 L89.6 1467.4 L90.6 1467 L91.7 1466.6 L92.8 1466.1 L93.8 1465.5 L94.9 1464.9 L96 1464.2 L97 1463.4 L98.1 1462.5 L99.2 1461.6 L100.2 1460.5 L101.3 1459.4 L102.4 1458.2 L103.4 1456.9 L104.5 1455.5 L105.6 1454 L106.6 1452.4 L107.7 1450.8 L108.7 1449 L109.8 1447.3 L110.9 1445.4 L111.9 1443.6 L113 1441.7 L114.1 1439.8 L115.1 1438 L116.2 1436.1 L117.3 1434.4 L118.3 1432.7 L119.4 1431.1 L120.5 1429.7 L121.5 1428.5 L122.6 1427.4 L123.7 1426.5 L124.7 1425.9 L125.8 1425.5 L126.9 1425.4 L127.9 1425.5 L129 1425.9 L130 1426.5 L131.1 1427.4 L132.2 1428.5 L133.2 1429.7 L134.3 1431.1 L135.4 1432.7 L136.4 1434.4 L137.5 1436.1 L138.6 1438 L139.6 1439.8 L140.7 1441.7 L141.8 1443.6 L142.8 1445.4 L143.9 1447.3 L145 1449 L146 1450.8 L147.1 1452.4 L148.2 1454 L149.2 1455.5 L150.3 1456.9 L151.3 1458.2 L152.4 1459.4 L153.5 1460.5 L154.5 1461.6 L155.6 1462.5 L156.7 1463.4 L157.7 1464.2 L158.8 1464.9 L159.9 1465.5 L160.9 1466.1 L162 1466.6 L163.1 1467 L164.1 1467.4 L165.2 1467.7 L166.3 1468 L167.3 1468.3 L168.4 1468.5 L169.4 1468.8 L170.5 1468.9 L171.6 1469.1 L172.6 1469.2 L173.7 1469.3 L174.8 1469.4 L175.8 1469.5 L176.9 1469.6 L178 1469.7 L179 1469.8 L180.1 1469.8 L181.2 1469.9 L182.2 1469.9 L183.3 1470 L184.4 1470 L185.4 1470 L186.5 1470.1 L187.6 1470.1 L188.6 1470.1 L189.7 1470.2 L190.8 1470.2 L191.8 1470.2 L192.9 1470.2 L193.9 1470.3 L195 1470.3 L196.1 1470.3 L197.1 1470.3 L198.2 1470.3 L199.3 1470.4 L200.3 1470.4 L201.4 1470.4" stroke="#E8505A" stroke-width="1.5" fill="none" stroke-linejoin="round"/>
<path d="M52.3 1466.8 L53.4 1466.8 L54.4 1466.8 L55.5 1466.7 L56.6 1466.7 L57.6 1466.7 L58.7 1466.6 L59.8 1466.6 L60.8 1466.5 L61.9 1466.5 L63 1466.4 L64 1466.4 L65.1 1466.3 L66.1 1466.3 L67.2 1466.2 L68.3 1466.2 L69.3 1466.1 L70.4 1466 L71.5 1465.9 L72.5 1465.9 L73.6 1465.8 L74.7 1465.7 L75.7 1465.6 L76.8 1465.5 L77.9 1465.4 L78.9 1465.3 L80 1465.2 L81.1 1465.1 L82.1 1464.9 L83.2 1464.8 L84.2 1464.6 L85.3 1464.4 L86.4 1464.2 L87.4 1464 L88.5 1463.8 L89.6 1463.5 L90.6 1463.2 L91.7 1462.8 L92.8 1462.4 L93.8 1461.9 L94.9 1461.3 L96 1460.6 L97 1459.7 L98.1 1458.7 L99.2 1457.5 L100.2 1456.1 L101.3 1454.3 L102.4 1452.3 L103.4 1449.9 L104.5 1447.1 L105.6 1443.9 L106.6 1440.2 L107.7 1436 L108.7 1431.2 L109.8 1425.9 L110.9 1420 L111.9 1413.7 L113 1406.8 L114.1 1399.5 L115.1 1391.8 L116.2 1383.8 L117.3 1375.8 L118.3 1367.7 L119.4 1359.8 L120.5 1352.3 L121.5 1345.4 L122.6 1339.3 L123.7 1334.2 L124.7 1330.4 L125.8 1328.1 L126.9 1327.3 L127.9 1328.1 L129 1330.4 L130 1334.2 L131.1 1339.3 L132.2 1345.4 L133.2 1352.3 L134.3 1359.8 L135.4 1367.7 L136.4 1375.8 L137.5 1383.8 L138.6 1391.8 L139.6 1399.5 L140.7 1406.8 L141.8 1413.7 L142.8 1420 L143.9 1425.9 L145 1431.2 L146 1436 L147.1 1440.2 L148.2 1443.9 L149.2 1447.1 L150.3 1449.9 L151.3 1452.3 L152.4 1454.3 L153.5 1456.1 L154.5 1457.5 L155.6 1458.7 L156.7 1459.7 L157.7 1460.6 L158.8 1461.3 L159.9 1461.9 L160.9 1462.4 L162 1462.8 L163.1 1463.2 L164.1 1463.5 L165.2 1463.8 L166.3 1464 L167.3 1464.2 L168.4 1464.4 L169.4 1464.6 L170.5 1464.8 L171.6 1464.9 L172.6 1465.1 L173.7 1465.2 L174.8 1465.3 L175.8 1465.4 L176.9 1465.5 L178 1465.6 L179 1465.7 L180.1 1465.8 L181.2 1465.9 L182.2 1465.9 L183.3 1466 L184.4 1466.1 L185.4 1466.2 L186.5 1466.2 L187.6 1466.3 L188.6 1466.3 L189.7 1466.4 L190.8 1466.4 L191.8 1466.5 L192.9 1466.5 L193.9 1466.6 L195 1466.6 L196.1 1466.7 L197.1 1466.7 L198.2 1466.7 L199.3 1466.8 L200.3 1466.8 L201.4 1466.8" stroke="#35A04A" stroke-width="1.5" fill="none" stroke-linejoin="round"/>
</g>
<rect x="45.7" y="1321.1" width="162.3" height="156.7" fill="none" stroke="#111" stroke-width="1.6"/>
<line x1="42.7" y1="1331.5" x2="45.7" y2="1331.5" stroke="#111" stroke-width="1"/>
<text x="41.2" y="1331.5" font-size="21" text-anchor="middle" fill="#111" transform="rotate(-90 41.2 1331.5)">4</text>
<line x1="42.7" y1="1471.3" x2="45.7" y2="1471.3" stroke="#111" stroke-width="1"/>
<text x="41.2" y="1471.3" font-size="21" text-anchor="middle" fill="#111" transform="rotate(-90 41.2 1471.3)">0</text>
<line x1="52.3" y1="1477.8" x2="52.3" y2="1480.8" stroke="#111" stroke-width="1"/>
<line x1="201.4" y1="1477.8" x2="201.4" y2="1480.8" stroke="#111" stroke-width="1"/>
<text x="41.6" y="1493.4" font-size="21" fill="#111">-500</text>
<text x="184" y="1493.4" font-size="21" fill="#111">500</text>
<clipPath id="dc1"><rect x="229.6" y="1321.1" width="165.2" height="156.7"/></clipPath>
<line x1="313.2" y1="1321.1" x2="313.2" y2="1477.8" stroke="#9a9a9a" stroke-width="3.6"/>
<g clip-path="url(#dc1)">
<path d="M236.2 1469.7 L237.3 1469.6 L238.4 1469.6 L239.4 1469.6 L240.5 1469.6 L241.6 1469.6 L242.7 1469.6 L243.8 1469.6 L244.9 1469.6 L245.9 1469.5 L247 1469.5 L248.1 1469.5 L249.2 1469.5 L250.3 1469.5 L251.3 1469.5 L252.4 1469.4 L253.5 1469.4 L254.6 1469.4 L255.7 1469.3 L256.8 1469.3 L257.8 1469.3 L258.9 1469.2 L260 1469.2 L261.1 1469.1 L262.2 1469 L263.3 1469 L264.3 1468.9 L265.4 1468.8 L266.5 1468.7 L267.6 1468.5 L268.7 1468.4 L269.7 1468.2 L270.8 1468 L271.9 1467.7 L273 1467.5 L274.1 1467.2 L275.2 1466.8 L276.2 1466.4 L277.3 1466 L278.4 1465.5 L279.5 1465 L280.6 1464.4 L281.6 1463.7 L282.7 1463 L283.8 1462.2 L284.9 1461.3 L286 1460.4 L287.1 1459.4 L288.1 1458.4 L289.2 1457.3 L290.3 1456.2 L291.4 1455 L292.5 1453.7 L293.6 1452.5 L294.6 1451.2 L295.7 1449.9 L296.8 1448.6 L297.9 1447.3 L299 1446.1 L300 1444.9 L301.1 1443.8 L302.2 1442.7 L303.3 1441.8 L304.4 1441 L305.5 1440.3 L306.5 1439.7 L307.6 1439.3 L308.7 1439.1 L309.8 1439 L310.9 1439 L311.9 1439 L313 1439 L314.1 1439 L315.2 1439.1 L316.3 1439.3 L317.4 1439.7 L318.4 1440.3 L319.5 1441 L320.6 1441.8 L321.7 1442.7 L322.8 1443.7 L323.9 1444.8 L324.9 1445.9 L326 1446.9 L327.1 1448 L328.2 1448.9 L329.3 1449.8 L330.3 1450.6 L331.4 1451.4 L332.5 1452.2 L333.6 1453.2 L334.7 1454.2 L335.8 1455.4 L336.8 1456.7 L337.9 1458.1 L339 1459.5 L340.1 1460.8 L341.2 1462 L342.2 1463 L343.3 1464 L344.4 1464.7 L345.5 1465.4 L346.6 1465.9 L347.7 1466.4 L348.7 1466.8 L349.8 1467.2 L350.9 1467.5 L352 1467.7 L353.1 1468 L354.2 1468.2 L355.2 1468.4 L356.3 1468.5 L357.4 1468.7 L358.5 1468.8 L359.6 1468.9 L360.6 1469 L361.7 1469 L362.8 1469.1 L363.9 1469.2 L365 1469.2 L366.1 1469.3 L367.1 1469.3 L368.2 1469.3 L369.3 1469.4 L370.4 1469.4 L371.5 1469.4 L372.5 1469.5 L373.6 1469.5 L374.7 1469.5 L375.8 1469.5 L376.9 1469.5 L378 1469.5 L379 1469.6 L380.1 1469.6 L381.2 1469.6 L382.3 1469.6 L383.4 1469.6 L384.5 1469.6 L385.5 1469.6 L386.6 1469.6 L387.7 1469.7" stroke="#62489A" stroke-width="1.5" fill="none" stroke-linejoin="round"/>
<path d="M236.2 1468.1 L237.3 1468.1 L238.4 1468 L239.4 1468 L240.5 1468 L241.6 1467.9 L242.7 1467.9 L243.8 1467.8 L244.9 1467.7 L245.9 1467.7 L247 1467.6 L248.1 1467.5 L249.2 1467.5 L250.3 1467.4 L251.3 1467.3 L252.4 1467.2 L253.5 1467 L254.6 1466.9 L255.7 1466.8 L256.8 1466.6 L257.8 1466.4 L258.9 1466.2 L260 1466 L261.1 1465.7 L262.2 1465.4 L263.3 1465.1 L264.3 1464.7 L265.4 1464.3 L266.5 1463.9 L267.6 1463.4 L268.7 1462.8 L269.7 1462.2 L270.8 1461.5 L271.9 1460.7 L273 1459.9 L274.1 1459 L275.2 1457.9 L276.2 1456.8 L277.3 1455.6 L278.4 1454.3 L279.5 1452.9 L280.6 1451.4 L281.6 1449.7 L282.7 1448 L283.8 1446.1 L284.9 1444.2 L286 1442.1 L287.1 1439.9 L288.1 1437.7 L289.2 1435.3 L290.3 1432.9 L291.4 1430.3 L292.5 1427.8 L293.6 1425.1 L294.6 1422.5 L295.7 1419.8 L296.8 1417.2 L297.9 1414.5 L299 1411.9 L300 1409.4 L301.1 1407 L302.2 1404.7 L303.3 1402.5 L304.4 1400.6 L305.5 1398.8 L306.5 1397.2 L307.6 1395.9 L308.7 1394.9 L309.8 1394.1 L310.9 1393.7 L311.9 1393.5 L313 1393.7 L314.1 1394.1 L315.2 1394.9 L316.3 1395.9 L317.4 1397.2 L318.4 1398.8 L319.5 1400.6 L320.6 1402.5 L321.7 1404.7 L322.8 1407 L323.9 1409.4 L324.9 1411.9 L326 1414.5 L327.1 1417.2 L328.2 1419.8 L329.3 1422.5 L330.3 1425.1 L331.4 1427.8 L332.5 1430.3 L333.6 1432.9 L334.7 1435.3 L335.8 1437.7 L336.8 1439.9 L337.9 1442.1 L339 1444.2 L340.1 1446.1 L341.2 1448 L342.2 1449.7 L343.3 1451.4 L344.4 1452.9 L345.5 1454.3 L346.6 1455.6 L347.7 1456.8 L348.7 1457.9 L349.8 1459 L350.9 1459.9 L352 1460.7 L353.1 1461.5 L354.2 1462.2 L355.2 1462.8 L356.3 1463.4 L357.4 1463.9 L358.5 1464.3 L359.6 1464.7 L360.6 1465.1 L361.7 1465.4 L362.8 1465.7 L363.9 1466 L365 1466.2 L366.1 1466.4 L367.1 1466.6 L368.2 1466.8 L369.3 1466.9 L370.4 1467 L371.5 1467.2 L372.5 1467.3 L373.6 1467.4 L374.7 1467.5 L375.8 1467.5 L376.9 1467.6 L378 1467.7 L379 1467.7 L380.1 1467.8 L381.2 1467.9 L382.3 1467.9 L383.4 1468 L384.5 1468 L385.5 1468 L386.6 1468.1 L387.7 1468.1" stroke="#E8505A" stroke-width="1.5" fill="none" stroke-linejoin="round"/>
<path d="M236.2 1460.4 L237.3 1460.5 L238.4 1460.5 L239.4 1460.5 L240.5 1460.6 L241.6 1460.6 L242.7 1460.6 L243.8 1460.7 L244.9 1460.7 L245.9 1460.7 L247 1460.7 L248.1 1460.8 L249.2 1460.8 L250.3 1460.8 L251.3 1460.8 L252.4 1460.8 L253.5 1460.8 L254.6 1460.8 L255.7 1460.8 L256.8 1460.8 L257.8 1460.7 L258.9 1460.7 L260 1460.7 L261.1 1460.6 L262.2 1460.6 L263.3 1460.5 L264.3 1460.4 L265.4 1460.3 L266.5 1460.2 L267.6 1460.1 L268.7 1459.9 L269.7 1459.7 L270.8 1459.5 L271.9 1459.3 L273 1459 L274.1 1458.6 L275.2 1458.1 L276.2 1457.5 L277.3 1456.8 L278.4 1456 L279.5 1455.1 L280.6 1454.1 L281.6 1452.8 L282.7 1451.4 L283.8 1449.7 L284.9 1447.8 L286 1445.6 L287.1 1443.2 L288.1 1440.4 L289.2 1437.2 L290.3 1433.7 L291.4 1429.8 L292.5 1425.5 L293.6 1420.9 L294.6 1415.8 L295.7 1410.4 L296.8 1404.7 L297.9 1398.7 L299 1392.5 L300 1386.1 L301.1 1379.6 L302.2 1373.1 L303.3 1366.7 L304.4 1360.5 L305.5 1354.8 L306.5 1349.5 L307.6 1344.9 L308.7 1341.2 L309.8 1338.4 L310.9 1336.7 L311.9 1336.1 L313 1336.7 L314.1 1338.4 L315.2 1341.2 L316.3 1344.9 L317.4 1349.5 L318.4 1354.8 L319.5 1360.5 L320.6 1366.7 L321.7 1373.1 L322.8 1379.6 L323.9 1386.1 L324.9 1392.5 L326 1398.7 L327.1 1404.7 L328.2 1410.4 L329.3 1415.8 L330.3 1420.9 L331.4 1425.5 L332.5 1429.8 L333.6 1433.7 L334.7 1437.2 L335.8 1440.4 L336.8 1443.2 L337.9 1445.6 L339 1447.8 L340.1 1449.7 L341.2 1451.4 L342.2 1452.8 L343.3 1454.1 L344.4 1455.1 L345.5 1456 L346.6 1456.8 L347.7 1457.5 L348.7 1458.1 L349.8 1458.6 L350.9 1459.1 L352 1459.4 L353.1 1459.8 L354.2 1460.1 L355.2 1460.4 L356.3 1460.6 L357.4 1460.8 L358.5 1461 L359.6 1461.2 L360.6 1461.3 L361.7 1461.5 L362.8 1461.6 L363.9 1461.8 L365 1461.9 L366.1 1462 L367.1 1462.1 L368.2 1462.2 L369.3 1462.3 L370.4 1462.4 L371.5 1462.5 L372.5 1462.6 L373.6 1462.7 L374.7 1462.7 L375.8 1462.8 L376.9 1462.9 L378 1463 L379 1463 L380.1 1463.1 L381.2 1463.1 L382.3 1463.2 L383.4 1463.2 L384.5 1463.3 L385.5 1463.3 L386.6 1463.4 L387.7 1463.4" stroke="#35A04A" stroke-width="1.5" fill="none" stroke-linejoin="round"/>
<path d="M236.2 1468.3 L237.3 1468.2 L238.4 1468.2 L239.4 1468.2 L240.5 1468.1 L241.6 1468.1 L242.7 1468 L243.8 1468 L244.9 1467.9 L245.9 1467.9 L247 1467.8 L248.1 1467.8 L249.2 1467.7 L250.3 1467.7 L251.3 1467.6 L252.4 1467.5 L253.5 1467.5 L254.6 1467.4 L255.7 1467.3 L256.8 1467.2 L257.8 1467.1 L258.9 1467 L260 1466.9 L261.1 1466.8 L262.2 1466.7 L263.3 1466.6 L264.3 1466.4 L265.4 1466.3 L266.5 1466.1 L267.6 1466 L268.7 1465.8 L269.7 1465.6 L270.8 1465.3 L271.9 1465.1 L273 1464.8 L274.1 1464.5 L275.2 1464.1 L276.2 1463.7 L277.3 1463.2 L278.4 1462.6 L279.5 1462 L280.6 1461.2 L281.6 1460.3 L282.7 1459.2 L283.8 1458 L284.9 1456.5 L286 1454.8 L287.1 1452.7 L288.1 1450.4 L289.2 1447.7 L290.3 1444.7 L291.4 1441.2 L292.5 1437.2 L293.6 1432.8 L294.6 1427.9 L295.7 1422.5 L296.8 1416.7 L297.9 1410.4 L299 1403.7 L300 1396.6 L301.1 1389.2 L302.2 1381.7 L303.3 1374 L304.4 1366.4 L305.5 1359 L306.5 1351.9 L307.6 1345.4 L308.7 1339.5 L309.8 1334.4 L310.9 1330.4 L311.9 1327.3 L313 1330.4 L314.1 1334.4 L315.2 1339.5 L316.3 1345.4 L317.4 1351.9 L318.4 1359 L319.5 1366.4 L320.6 1374 L321.7 1381.7 L322.8 1389.2 L323.9 1396.6 L324.9 1403.7 L326 1410.4 L327.1 1416.7 L328.2 1422.5 L329.3 1427.9 L330.3 1432.8 L331.4 1437.2 L332.5 1441.2 L333.6 1444.7 L334.7 1447.7 L335.8 1450.4 L336.8 1452.7 L337.9 1454.8 L339 1456.5 L340.1 1458 L341.2 1459.2 L342.2 1460.3 L343.3 1461.2 L344.4 1462 L345.5 1462.6 L346.6 1463.2 L347.7 1463.7 L348.7 1464.1 L349.8 1464.5 L350.9 1464.8 L352 1465.1 L353.1 1465.3 L354.2 1465.6 L355.2 1465.8 L356.3 1466 L357.4 1466.1 L358.5 1466.3 L359.6 1466.4 L360.6 1466.6 L361.7 1466.7 L362.8 1466.8 L363.9 1466.9 L365 1467 L366.1 1467.1 L367.1 1467.2 L368.2 1467.3 L369.3 1467.4 L370.4 1467.5 L371.5 1467.5 L372.5 1467.6 L373.6 1467.7 L374.7 1467.7 L375.8 1467.8 L376.9 1467.8 L378 1467.9 L379 1467.9 L380.1 1468 L381.2 1468 L382.3 1468.1 L383.4 1468.1 L384.5 1468.2 L385.5 1468.2 L386.6 1468.2 L387.7 1468.3" stroke="#3A78BE" stroke-width="1.5" fill="none" stroke-linejoin="round"/>
</g>
<rect x="229.6" y="1321.1" width="165.2" height="156.7" fill="none" stroke="#111" stroke-width="1.6"/>
<line x1="226.6" y1="1330.3" x2="229.6" y2="1330.3" stroke="#111" stroke-width="1"/>
<text x="225.1" y="1330.3" font-size="21" text-anchor="middle" fill="#111" transform="rotate(-90 225.1 1330.3)">2.5</text>
<line x1="226.6" y1="1470.5" x2="229.6" y2="1470.5" stroke="#111" stroke-width="1"/>
<text x="225.1" y="1470.5" font-size="21" text-anchor="middle" fill="#111" transform="rotate(-90 225.1 1470.5)">0</text>
<line x1="236.2" y1="1477.8" x2="236.2" y2="1480.8" stroke="#111" stroke-width="1"/>
<line x1="387.7" y1="1477.8" x2="387.7" y2="1480.8" stroke="#111" stroke-width="1"/>
<text x="225.5" y="1493.4" font-size="21" fill="#111">-500</text>
<text x="368.9" y="1493.4" font-size="21" fill="#111">500</text>
<clipPath id="dc2"><rect x="414.9" y="1321.1" width="163.1" height="156.7"/></clipPath>
<line x1="497.4" y1="1321.1" x2="497.4" y2="1477.8" stroke="#9a9a9a" stroke-width="3.6"/>
<g clip-path="url(#dc2)">
<path d="M422.2 1469.6 L423.3 1469.6 L424.3 1469.6 L425.4 1469.6 L426.5 1469.6 L427.5 1469.5 L428.6 1469.5 L429.6 1469.5 L430.7 1469.5 L431.8 1469.5 L432.8 1469.5 L433.9 1469.4 L435 1469.4 L436 1469.4 L437.1 1469.4 L438.2 1469.4 L439.2 1469.3 L440.3 1469.3 L441.4 1469.3 L442.4 1469.3 L443.5 1469.2 L444.6 1469.2 L445.6 1469.2 L446.7 1469.1 L447.7 1469.1 L448.8 1469.1 L449.9 1469 L450.9 1469 L452 1468.9 L453.1 1468.8 L454.1 1468.8 L455.2 1468.7 L456.3 1468.6 L457.3 1468.5 L458.4 1468.4 L459.4 1468.2 L460.5 1468.1 L461.6 1467.9 L462.6 1467.7 L463.7 1467.4 L464.8 1467.1 L465.8 1466.8 L466.9 1466.4 L468 1465.9 L469 1465.4 L470.1 1464.8 L471.2 1464.1 L472.2 1463.3 L473.3 1462.4 L474.4 1461.3 L475.4 1460 L476.5 1458.6 L477.5 1456.9 L478.6 1455.1 L479.7 1453.2 L480.7 1451.3 L481.8 1449.3 L482.9 1447.5 L483.9 1445.9 L485 1444.5 L486.1 1443.2 L487.1 1442 L488.2 1440.9 L489.2 1439.9 L490.3 1438.9 L491.4 1437.9 L492.4 1437 L493.5 1436.2 L494.6 1435.7 L495.6 1435.3 L496.7 1435.2 L497.8 1435.3 L498.8 1435.7 L499.9 1436.4 L501 1437.3 L502 1438.4 L503.1 1439.7 L504.2 1441.2 L505.2 1442.7 L506.3 1444.3 L507.3 1446 L508.4 1447.7 L509.5 1449.3 L510.5 1451 L511.6 1452.6 L512.7 1454.1 L513.7 1455.6 L514.8 1457 L515.9 1458.3 L516.9 1459.5 L518 1460.6 L519.1 1461.7 L520.1 1462.6 L521.2 1463.4 L522.2 1464.2 L523.3 1464.8 L524.4 1465.4 L525.4 1465.9 L526.5 1466.4 L527.6 1466.8 L528.6 1467.1 L529.7 1467.4 L530.8 1467.7 L531.8 1467.9 L532.9 1468.1 L534 1468.2 L535 1468.4 L536.1 1468.5 L537.1 1468.6 L538.2 1468.7 L539.3 1468.8 L540.3 1468.8 L541.4 1468.9 L542.5 1469 L543.5 1469 L544.6 1469.1 L545.7 1469.1 L546.7 1469.1 L547.8 1469.2 L548.9 1469.2 L549.9 1469.2 L551 1469.3 L552 1469.3 L553.1 1469.3 L554.2 1469.3 L555.2 1469.4 L556.3 1469.4 L557.4 1469.4 L558.4 1469.4 L559.5 1469.4 L560.6 1469.5 L561.6 1469.5 L562.7 1469.5 L563.8 1469.5 L564.8 1469.5 L565.9 1469.5 L566.9 1469.6 L568 1469.6 L569.1 1469.6 L570.1 1469.6 L571.2 1469.6" stroke="#62489A" stroke-width="1.5" fill="none" stroke-linejoin="round"/>
<path d="M422.2 1469.7 L423.3 1469.7 L424.3 1469.7 L425.4 1469.6 L426.5 1469.6 L427.5 1469.6 L428.6 1469.6 L429.6 1469.6 L430.7 1469.6 L431.8 1469.6 L432.8 1469.6 L433.9 1469.5 L435 1469.5 L436 1469.5 L437.1 1469.5 L438.2 1469.5 L439.2 1469.5 L440.3 1469.4 L441.4 1469.4 L442.4 1469.4 L443.5 1469.4 L444.6 1469.3 L445.6 1469.3 L446.7 1469.3 L447.7 1469.2 L448.8 1469.2 L449.9 1469.2 L450.9 1469.1 L452 1469.1 L453.1 1469 L454.1 1469 L455.2 1468.9 L456.3 1468.8 L457.3 1468.8 L458.4 1468.7 L459.4 1468.6 L460.5 1468.5 L461.6 1468.4 L462.6 1468.2 L463.7 1468.1 L464.8 1467.9 L465.8 1467.7 L466.9 1467.4 L468 1467.1 L469 1466.8 L470.1 1466.3 L471.2 1465.9 L472.2 1465.3 L473.3 1464.6 L474.4 1463.8 L475.4 1462.9 L476.5 1461.9 L477.5 1460.7 L478.6 1459.4 L479.7 1457.9 L480.7 1456.2 L481.8 1454.3 L482.9 1452.3 L483.9 1450.1 L485 1447.8 L486.1 1445.3 L487.1 1442.7 L488.2 1440 L489.2 1437.2 L490.3 1434.4 L491.4 1431.7 L492.4 1429 L493.5 1426.5 L494.6 1424.1 L495.6 1422 L496.7 1420 L497.8 1422 L498.8 1424.1 L499.9 1426.5 L501 1429 L502 1431.7 L503.1 1434.4 L504.2 1437.2 L505.2 1440 L506.3 1442.7 L507.3 1445.3 L508.4 1447.8 L509.5 1450.1 L510.5 1452.3 L511.6 1454.3 L512.7 1456.2 L513.7 1457.9 L514.8 1459.4 L515.9 1460.7 L516.9 1461.9 L518 1462.9 L519.1 1463.8 L520.1 1464.6 L521.2 1465.3 L522.2 1465.9 L523.3 1466.3 L524.4 1466.8 L525.4 1467.1 L526.5 1467.4 L527.6 1467.7 L528.6 1467.9 L529.7 1468.1 L530.8 1468.2 L531.8 1468.4 L532.9 1468.5 L534 1468.6 L535 1468.7 L536.1 1468.8 L537.1 1468.8 L538.2 1468.9 L539.3 1469 L540.3 1469 L541.4 1469.1 L542.5 1469.1 L543.5 1469.2 L544.6 1469.2 L545.7 1469.2 L546.7 1469.3 L547.8 1469.3 L548.9 1469.3 L549.9 1469.4 L551 1469.4 L552 1469.4 L553.1 1469.4 L554.2 1469.5 L555.2 1469.5 L556.3 1469.5 L557.4 1469.5 L558.4 1469.5 L559.5 1469.5 L560.6 1469.6 L561.6 1469.6 L562.7 1469.6 L563.8 1469.6 L564.8 1469.6 L565.9 1469.6 L566.9 1469.6 L568 1469.6 L569.1 1469.7 L570.1 1469.7 L571.2 1469.7" stroke="#3A78BE" stroke-width="1.5" fill="none" stroke-linejoin="round"/>
<path d="M422.2 1464.6 L423.3 1464.5 L424.3 1464.5 L425.4 1464.4 L426.5 1464.4 L427.5 1464.3 L428.6 1464.3 L429.6 1464.2 L430.7 1464.2 L431.8 1464.1 L432.8 1464.1 L433.9 1464 L435 1463.9 L436 1463.9 L437.1 1463.8 L438.2 1463.7 L439.2 1463.6 L440.3 1463.5 L441.4 1463.5 L442.4 1463.4 L443.5 1463.3 L444.6 1463.1 L445.6 1463 L446.7 1462.9 L447.7 1462.8 L448.8 1462.6 L449.9 1462.5 L450.9 1462.3 L452 1462.1 L453.1 1461.8 L454.1 1461.6 L455.2 1461.3 L456.3 1461 L457.3 1460.6 L458.4 1460.2 L459.4 1459.7 L460.5 1459.1 L461.6 1458.4 L462.6 1457.6 L463.7 1456.7 L464.8 1455.6 L465.8 1454.4 L466.9 1453 L468 1451.4 L469 1449.5 L470.1 1447.4 L471.2 1445 L472.2 1442.3 L473.3 1439.3 L474.4 1436 L475.4 1432.3 L476.5 1428.3 L477.5 1423.9 L478.6 1419.2 L479.7 1414.2 L480.7 1408.9 L481.8 1403.3 L482.9 1397.6 L483.9 1391.6 L485 1385.6 L486.1 1379.5 L487.1 1373.5 L488.2 1367.7 L489.2 1362.2 L490.3 1357 L491.4 1352.4 L492.4 1348.4 L493.5 1345.1 L494.6 1342.7 L495.6 1341.2 L496.7 1340.7 L497.8 1341.2 L498.8 1342.7 L499.9 1345.1 L501 1348.4 L502 1352.4 L503.1 1357 L504.2 1362.2 L505.2 1367.7 L506.3 1373.5 L507.3 1379.5 L508.4 1385.6 L509.5 1391.6 L510.5 1397.6 L511.6 1403.3 L512.7 1408.9 L513.7 1414.2 L514.8 1419.2 L515.9 1423.9 L516.9 1428.3 L518 1432.3 L519.1 1436 L520.1 1439.3 L521.2 1442.3 L522.2 1445 L523.3 1447.4 L524.4 1449.5 L525.4 1451.4 L526.5 1453 L527.6 1454.4 L528.6 1455.6 L529.7 1456.7 L530.8 1457.6 L531.8 1458.4 L532.9 1459.1 L534 1459.7 L535 1460.2 L536.1 1460.6 L537.1 1461 L538.2 1461.3 L539.3 1461.6 L540.3 1461.8 L541.4 1462.1 L542.5 1462.3 L543.5 1462.5 L544.6 1462.6 L545.7 1462.8 L546.7 1462.9 L547.8 1463 L548.9 1463.1 L549.9 1463.3 L551 1463.4 L552 1463.5 L553.1 1463.5 L554.2 1463.6 L555.2 1463.7 L556.3 1463.8 L557.4 1463.9 L558.4 1463.9 L559.5 1464 L560.6 1464.1 L561.6 1464.1 L562.7 1464.2 L563.8 1464.2 L564.8 1464.3 L565.9 1464.3 L566.9 1464.4 L568 1464.4 L569.1 1464.5 L570.1 1464.5 L571.2 1464.6" stroke="#35A04A" stroke-width="1.5" fill="none" stroke-linejoin="round"/>
<path d="M422.2 1467.9 L423.3 1467.8 L424.3 1467.8 L425.4 1467.7 L426.5 1467.7 L427.5 1467.6 L428.6 1467.6 L429.6 1467.5 L430.7 1467.5 L431.8 1467.4 L432.8 1467.3 L433.9 1467.3 L435 1467.2 L436 1467.1 L437.1 1467 L438.2 1466.9 L439.2 1466.8 L440.3 1466.7 L441.4 1466.6 L442.4 1466.5 L443.5 1466.4 L444.6 1466.2 L445.6 1466.1 L446.7 1465.9 L447.7 1465.7 L448.8 1465.5 L449.9 1465.3 L450.9 1465 L452 1464.7 L453.1 1464.4 L454.1 1464 L455.2 1463.5 L456.3 1463 L457.3 1462.4 L458.4 1461.7 L459.4 1460.9 L460.5 1459.9 L461.6 1458.8 L462.6 1457.6 L463.7 1456.2 L464.8 1454.6 L465.8 1452.7 L466.9 1450.7 L468 1448.3 L469 1445.7 L470.1 1442.8 L471.2 1439.6 L472.2 1436.1 L473.3 1432.3 L474.4 1428.1 L475.4 1423.6 L476.5 1418.8 L477.5 1413.7 L478.6 1408.3 L479.7 1402.6 L480.7 1396.8 L481.8 1390.7 L482.9 1384.6 L483.9 1378.3 L485 1372.1 L486.1 1366 L487.1 1360 L488.2 1354.3 L489.2 1348.9 L490.3 1344 L491.4 1339.6 L492.4 1335.8 L493.5 1332.8 L494.6 1330.6 L495.6 1329.3 L496.7 1328.8 L497.8 1329.3 L498.8 1330.6 L499.9 1332.8 L501 1335.8 L502 1339.6 L503.1 1344 L504.2 1348.9 L505.2 1354.3 L506.3 1360 L507.3 1366 L508.4 1372.1 L509.5 1378.3 L510.5 1384.6 L511.6 1390.7 L512.7 1396.8 L513.7 1402.6 L514.8 1408.3 L515.9 1413.7 L516.9 1418.8 L518 1423.6 L519.1 1428.1 L520.1 1432.3 L521.2 1436.1 L522.2 1439.6 L523.3 1442.8 L524.4 1445.7 L525.4 1448.3 L526.5 1450.7 L527.6 1452.7 L528.6 1454.6 L529.7 1456.2 L530.8 1457.6 L531.8 1458.8 L532.9 1459.9 L534 1460.9 L535 1461.7 L536.1 1462.4 L537.1 1463 L538.2 1463.5 L539.3 1464 L540.3 1464.4 L541.4 1464.7 L542.5 1465 L543.5 1465.3 L544.6 1465.5 L545.7 1465.7 L546.7 1465.9 L547.8 1466.1 L548.9 1466.2 L549.9 1466.4 L551 1466.5 L552 1466.6 L553.1 1466.7 L554.2 1466.8 L555.2 1466.9 L556.3 1467 L557.4 1467.1 L558.4 1467.2 L559.5 1467.3 L560.6 1467.3 L561.6 1467.4 L562.7 1467.5 L563.8 1467.5 L564.8 1467.6 L565.9 1467.6 L566.9 1467.7 L568 1467.7 L569.1 1467.8 L570.1 1467.8 L571.2 1467.9" stroke="#E8505A" stroke-width="1.5" fill="none" stroke-linejoin="round"/>
</g>
<rect x="414.9" y="1321.1" width="163.1" height="156.7" fill="none" stroke="#111" stroke-width="1.6"/>
<line x1="411.9" y1="1329.2" x2="414.9" y2="1329.2" stroke="#111" stroke-width="1"/>
<text x="410.4" y="1329.2" font-size="21" text-anchor="middle" fill="#111" transform="rotate(-90 410.4 1329.2)">2.5</text>
<line x1="411.9" y1="1472.6" x2="414.9" y2="1472.6" stroke="#111" stroke-width="1"/>
<text x="410.4" y="1472.6" font-size="21" text-anchor="middle" fill="#111" transform="rotate(-90 410.4 1472.6)">0</text>
<line x1="422.2" y1="1477.8" x2="422.2" y2="1480.8" stroke="#111" stroke-width="1"/>
<line x1="571.2" y1="1477.8" x2="571.2" y2="1480.8" stroke="#111" stroke-width="1"/>
<text x="412.2" y="1493.4" font-size="21" fill="#111">-500</text>
<text x="555.2" y="1493.4" font-size="21" fill="#111">500</text>
<clipPath id="dc3"><rect x="597.8" y="1321.1" width="169.2" height="156.7"/></clipPath>
<line x1="682.8" y1="1321.1" x2="682.8" y2="1477.8" stroke="#9a9a9a" stroke-width="3.6"/>
<g clip-path="url(#dc3)">
<path d="M604.5 1469.5 L605.6 1469.5 L606.7 1469.5 L607.8 1469.5 L608.9 1469.5 L610.1 1469.5 L611.2 1469.5 L612.3 1469.4 L613.4 1469.4 L614.5 1469.4 L615.6 1469.4 L616.7 1469.4 L617.8 1469.3 L618.9 1469.3 L620 1469.3 L621.2 1469.3 L622.3 1469.2 L623.4 1469.2 L624.5 1469.2 L625.6 1469.2 L626.7 1469.1 L627.8 1469.1 L628.9 1469 L630 1469 L631.2 1469 L632.3 1468.9 L633.4 1468.9 L634.5 1468.8 L635.6 1468.7 L636.7 1468.7 L637.8 1468.6 L638.9 1468.5 L640 1468.4 L641.2 1468.2 L642.3 1468.1 L643.4 1467.9 L644.5 1467.7 L645.6 1467.5 L646.7 1467.2 L647.8 1466.9 L648.9 1466.5 L650 1466.1 L651.1 1465.7 L652.3 1465.1 L653.4 1464.5 L654.5 1463.9 L655.6 1463.1 L656.7 1462.2 L657.8 1461.3 L658.9 1460.3 L660 1459.1 L661.1 1457.9 L662.3 1456.5 L663.4 1455.1 L664.5 1453.6 L665.6 1452 L666.7 1450.3 L667.8 1448.6 L668.9 1446.9 L670 1445.1 L671.1 1443.3 L672.3 1441.6 L673.4 1439.9 L674.5 1438.3 L675.6 1436.8 L676.7 1435.4 L677.8 1434.3 L678.9 1433.4 L680 1432.7 L681.1 1432.2 L682.2 1432.1 L683.4 1432.2 L684.5 1432.7 L685.6 1433.4 L686.7 1434.3 L687.8 1435.4 L688.9 1436.8 L690 1438.3 L691.1 1439.9 L692.2 1441.6 L693.4 1443.3 L694.5 1445.1 L695.6 1446.9 L696.7 1448.6 L697.8 1450.3 L698.9 1452 L700 1453.6 L701.1 1455.1 L702.2 1456.5 L703.4 1457.9 L704.5 1459.1 L705.6 1460.3 L706.7 1461.3 L707.8 1462.2 L708.9 1463.1 L710 1463.9 L711.1 1464.5 L712.2 1465.1 L713.4 1465.7 L714.5 1466.1 L715.6 1466.5 L716.7 1466.9 L717.8 1467.2 L718.9 1467.5 L720 1467.7 L721.1 1467.9 L722.2 1468.1 L723.3 1468.2 L724.5 1468.4 L725.6 1468.5 L726.7 1468.6 L727.8 1468.7 L728.9 1468.7 L730 1468.8 L731.1 1468.9 L732.2 1468.9 L733.3 1469 L734.5 1469 L735.6 1469 L736.7 1469.1 L737.8 1469.1 L738.9 1469.2 L740 1469.2 L741.1 1469.2 L742.2 1469.2 L743.3 1469.3 L744.5 1469.3 L745.6 1469.3 L746.7 1469.3 L747.8 1469.4 L748.9 1469.4 L750 1469.4 L751.1 1469.4 L752.2 1469.4 L753.3 1469.5 L754.4 1469.5 L755.6 1469.5 L756.7 1469.5 L757.8 1469.5 L758.9 1469.5 L760 1469.5" stroke="#3A78BE" stroke-width="1.5" fill="none" stroke-linejoin="round"/>
<path d="M604.5 1469.2 L605.6 1469.2 L606.7 1469.2 L607.8 1469.2 L608.9 1469.1 L610.1 1469.1 L611.2 1469.1 L612.3 1469 L613.4 1469 L614.5 1469 L615.6 1469 L616.7 1468.9 L617.8 1468.9 L618.9 1468.8 L620 1468.8 L621.2 1468.8 L622.3 1468.7 L623.4 1468.7 L624.5 1468.6 L625.6 1468.6 L626.7 1468.5 L627.8 1468.4 L628.9 1468.4 L630 1468.3 L631.2 1468.2 L632.3 1468.1 L633.4 1468 L634.5 1467.9 L635.6 1467.7 L636.7 1467.6 L637.8 1467.4 L638.9 1467.2 L640 1466.9 L641.2 1466.7 L642.3 1466.4 L643.4 1466 L644.5 1465.6 L645.6 1465.2 L646.7 1464.7 L647.8 1464.1 L648.9 1463.4 L650 1462.7 L651.1 1461.8 L652.3 1460.9 L653.4 1459.9 L654.5 1458.8 L655.6 1457.5 L656.7 1456.2 L657.8 1454.7 L658.9 1453.1 L660 1451.5 L661.1 1449.6 L662.3 1447.7 L663.4 1445.7 L664.5 1443.6 L665.6 1441.5 L666.7 1439.2 L667.8 1437 L668.9 1434.7 L670 1432.4 L671.1 1430.1 L672.3 1428 L673.4 1425.9 L674.5 1423.9 L675.6 1422.1 L676.7 1420.5 L677.8 1419.1 L678.9 1418 L680 1417.2 L681.1 1416.7 L682.2 1416.5 L683.4 1416.7 L684.5 1417.2 L685.6 1418 L686.7 1419.1 L687.8 1420.5 L688.9 1422.1 L690 1423.9 L691.1 1425.9 L692.2 1428 L693.4 1430.1 L694.5 1432.4 L695.6 1434.7 L696.7 1437 L697.8 1439.2 L698.9 1441.5 L700 1443.6 L701.1 1445.7 L702.2 1447.7 L703.4 1449.6 L704.5 1451.5 L705.6 1453.1 L706.7 1454.7 L707.8 1456.2 L708.9 1457.5 L710 1458.8 L711.1 1459.9 L712.2 1460.9 L713.4 1461.8 L714.5 1462.7 L715.6 1463.4 L716.7 1464.1 L717.8 1464.7 L718.9 1465.2 L720 1465.6 L721.1 1466 L722.2 1466.4 L723.3 1466.7 L724.5 1466.9 L725.6 1467.2 L726.7 1467.4 L727.8 1467.6 L728.9 1467.7 L730 1467.9 L731.1 1468 L732.2 1468.1 L733.3 1468.2 L734.5 1468.3 L735.6 1468.4 L736.7 1468.4 L737.8 1468.5 L738.9 1468.6 L740 1468.6 L741.1 1468.7 L742.2 1468.7 L743.3 1468.8 L744.5 1468.8 L745.6 1468.8 L746.7 1468.9 L747.8 1468.9 L748.9 1469 L750 1469 L751.1 1469 L752.2 1469 L753.3 1469.1 L754.4 1469.1 L755.6 1469.1 L756.7 1469.2 L757.8 1469.2 L758.9 1469.2 L760 1469.2" stroke="#E8505A" stroke-width="1.5" fill="none" stroke-linejoin="round"/>
<path d="M604.5 1469 L605.6 1468.9 L606.7 1468.9 L607.8 1468.9 L608.9 1468.8 L610.1 1468.8 L611.2 1468.8 L612.3 1468.7 L613.4 1468.7 L614.5 1468.7 L615.6 1468.6 L616.7 1468.6 L617.8 1468.5 L618.9 1468.5 L620 1468.4 L621.2 1468.4 L622.3 1468.3 L623.4 1468.2 L624.5 1468.2 L625.6 1468.1 L626.7 1468 L627.8 1468 L628.9 1467.9 L630 1467.8 L631.2 1467.7 L632.3 1467.6 L633.4 1467.5 L634.5 1467.4 L635.6 1467.2 L636.7 1467.1 L637.8 1466.9 L638.9 1466.7 L640 1466.5 L641.2 1466.2 L642.3 1465.9 L643.4 1465.6 L644.5 1465.2 L645.6 1464.8 L646.7 1464.2 L647.8 1463.6 L648.9 1462.9 L650 1462.1 L651.1 1461.1 L652.3 1460 L653.4 1458.7 L654.5 1457.2 L655.6 1455.5 L656.7 1453.5 L657.8 1451.4 L658.9 1448.9 L660 1446.2 L661.1 1443.2 L662.3 1440 L663.4 1436.5 L664.5 1432.7 L665.6 1428.6 L666.7 1424.4 L667.8 1419.9 L668.9 1415.3 L670 1410.6 L671.1 1405.9 L672.3 1401.2 L673.4 1396.6 L674.5 1392.2 L675.6 1388.1 L676.7 1384.4 L677.8 1381.2 L678.9 1378.5 L680 1376.6 L681.1 1375.4 L682.2 1375 L683.4 1375.4 L684.5 1376.6 L685.6 1378.5 L686.7 1381.2 L687.8 1384.4 L688.9 1388.1 L690 1392.2 L691.1 1396.6 L692.2 1401.2 L693.4 1405.9 L694.5 1410.6 L695.6 1415.3 L696.7 1419.9 L697.8 1424.4 L698.9 1428.6 L700 1432.7 L701.1 1436.5 L702.2 1440 L703.4 1443.2 L704.5 1446.2 L705.6 1448.9 L706.7 1451.4 L707.8 1453.5 L708.9 1455.5 L710 1457.2 L711.1 1458.7 L712.2 1460 L713.4 1461.1 L714.5 1462.1 L715.6 1462.9 L716.7 1463.6 L717.8 1464.2 L718.9 1464.8 L720 1465.2 L721.1 1465.6 L722.2 1465.9 L723.3 1466.2 L724.5 1466.5 L725.6 1466.7 L726.7 1466.9 L727.8 1467.1 L728.9 1467.2 L730 1467.4 L731.1 1467.5 L732.2 1467.6 L733.3 1467.7 L734.5 1467.8 L735.6 1467.9 L736.7 1468 L737.8 1468 L738.9 1468.1 L740 1468.2 L741.1 1468.2 L742.2 1468.3 L743.3 1468.4 L744.5 1468.4 L745.6 1468.5 L746.7 1468.5 L747.8 1468.6 L748.9 1468.6 L750 1468.7 L751.1 1468.7 L752.2 1468.7 L753.3 1468.8 L754.4 1468.8 L755.6 1468.8 L756.7 1468.9 L757.8 1468.9 L758.9 1468.9 L760 1469" stroke="#35A04A" stroke-width="1.5" fill="none" stroke-linejoin="round"/>
<path d="M604.5 1468.2 L605.6 1468.1 L606.7 1468.1 L607.8 1468 L608.9 1468 L610.1 1467.9 L611.2 1467.9 L612.3 1467.8 L613.4 1467.7 L614.5 1467.7 L615.6 1467.6 L616.7 1467.5 L617.8 1467.4 L618.9 1467.3 L620 1467.2 L621.2 1467.1 L622.3 1467 L623.4 1466.9 L624.5 1466.8 L625.6 1466.6 L626.7 1466.5 L627.8 1466.3 L628.9 1466.1 L630 1465.9 L631.2 1465.7 L632.3 1465.4 L633.4 1465.1 L634.5 1464.8 L635.6 1464.4 L636.7 1463.9 L637.8 1463.4 L638.9 1462.8 L640 1462.2 L641.2 1461.4 L642.3 1460.5 L643.4 1459.5 L644.5 1458.4 L645.6 1457.1 L646.7 1455.6 L647.8 1453.9 L648.9 1452.1 L650 1450 L651.1 1447.6 L652.3 1445 L653.4 1442.2 L654.5 1439 L655.6 1435.6 L656.7 1431.9 L657.8 1427.9 L658.9 1423.6 L660 1419 L661.1 1414.1 L662.3 1409 L663.4 1403.6 L664.5 1398 L665.6 1392.3 L666.7 1386.5 L667.8 1380.6 L668.9 1374.6 L670 1368.7 L671.1 1363 L672.3 1357.4 L673.4 1352.1 L674.5 1347.1 L675.6 1342.6 L676.7 1338.6 L677.8 1335.2 L678.9 1332.4 L680 1330.4 L681.1 1329.2 L682.2 1328.8 L683.4 1329.2 L684.5 1330.4 L685.6 1332.4 L686.7 1335.2 L687.8 1338.6 L688.9 1342.6 L690 1347.1 L691.1 1352.1 L692.2 1357.4 L693.4 1363 L694.5 1368.7 L695.6 1374.6 L696.7 1380.6 L697.8 1386.5 L698.9 1392.3 L700 1398 L701.1 1403.6 L702.2 1409 L703.4 1414.1 L704.5 1419 L705.6 1423.6 L706.7 1427.9 L707.8 1431.9 L708.9 1435.6 L710 1439 L711.1 1442.2 L712.2 1445 L713.4 1447.6 L714.5 1450 L715.6 1452.1 L716.7 1453.9 L717.8 1455.6 L718.9 1457.1 L720 1458.4 L721.1 1459.5 L722.2 1460.5 L723.3 1461.4 L724.5 1462.2 L725.6 1462.8 L726.7 1463.4 L727.8 1463.9 L728.9 1464.4 L730 1464.8 L731.1 1465.1 L732.2 1465.4 L733.3 1465.7 L734.5 1465.9 L735.6 1466.1 L736.7 1466.3 L737.8 1466.5 L738.9 1466.6 L740 1466.8 L741.1 1466.9 L742.2 1467 L743.3 1467.1 L744.5 1467.2 L745.6 1467.3 L746.7 1467.4 L747.8 1467.5 L748.9 1467.6 L750 1467.7 L751.1 1467.7 L752.2 1467.8 L753.3 1467.9 L754.4 1467.9 L755.6 1468 L756.7 1468 L757.8 1468.1 L758.9 1468.1 L760 1468.2" stroke="#62489A" stroke-width="1.5" fill="none" stroke-linejoin="round"/>
</g>
<rect x="597.8" y="1321.1" width="169.2" height="156.7" fill="none" stroke="#111" stroke-width="1.6"/>
<line x1="594.8" y1="1321.5" x2="597.8" y2="1321.5" stroke="#111" stroke-width="1"/>
<text x="593.3" y="1321.5" font-size="21" text-anchor="middle" fill="#111" transform="rotate(-90 593.3 1321.5)">3.5</text>
<line x1="594.8" y1="1472.6" x2="597.8" y2="1472.6" stroke="#111" stroke-width="1"/>
<text x="593.3" y="1472.6" font-size="21" text-anchor="middle" fill="#111" transform="rotate(-90 593.3 1472.6)">0</text>
<line x1="604.5" y1="1477.8" x2="604.5" y2="1480.8" stroke="#111" stroke-width="1"/>
<line x1="760" y1="1477.8" x2="760" y2="1480.8" stroke="#111" stroke-width="1"/>
<text x="595.7" y="1493.4" font-size="21" fill="#111">-500</text>
<text x="739.1" y="1493.4" font-size="21" fill="#111">500</text>
<clipPath id="dc4"><rect x="45.7" y="1530.5" width="161.5" height="156.9"/></clipPath>
<line x1="127.8" y1="1530.5" x2="127.8" y2="1687.4" stroke="#9a9a9a" stroke-width="3.6"/>
<g clip-path="url(#dc4)">
<path d="M53 1679.6 L54 1679.6 L55.1 1679.6 L56.1 1679.6 L57.2 1679.6 L58.2 1679.5 L59.3 1679.5 L60.3 1679.5 L61.4 1679.5 L62.4 1679.5 L63.5 1679.4 L64.5 1679.4 L65.6 1679.4 L66.6 1679.4 L67.7 1679.3 L68.7 1679.3 L69.8 1679.3 L70.8 1679.2 L71.9 1679.2 L72.9 1679.1 L74 1679.1 L75 1679 L76.1 1678.9 L77.1 1678.8 L78.2 1678.8 L79.2 1678.7 L80.3 1678.6 L81.3 1678.5 L82.4 1678.3 L83.4 1678.2 L84.5 1678 L85.5 1677.9 L86.6 1677.7 L87.6 1677.5 L88.7 1677.3 L89.7 1677.1 L90.8 1676.9 L91.8 1676.6 L92.9 1676.3 L93.9 1676.1 L95 1675.8 L96 1675.4 L97.1 1675.1 L98.1 1674.7 L99.2 1674.4 L100.2 1674 L101.3 1673.6 L102.3 1673.1 L103.4 1672.7 L104.4 1672.3 L105.5 1671.8 L106.5 1671.3 L107.6 1670.9 L108.6 1670.4 L109.7 1669.9 L110.7 1669.4 L111.8 1669 L112.8 1668.5 L113.9 1668 L114.9 1667.6 L116 1667.2 L117 1666.8 L118.1 1666.4 L119.1 1666.1 L120.2 1665.8 L121.2 1665.5 L122.3 1665.3 L123.3 1665.1 L124.4 1665 L125.4 1664.9 L126.5 1664.9 L127.5 1664.9 L128.5 1665 L129.6 1665.1 L130.6 1665.3 L131.7 1665.5 L132.7 1665.8 L133.8 1666.1 L134.8 1666.4 L135.9 1666.8 L136.9 1667.2 L138 1667.6 L139 1668 L140.1 1668.5 L141.1 1669 L142.2 1669.4 L143.2 1669.9 L144.3 1670.4 L145.3 1670.9 L146.4 1671.3 L147.4 1671.8 L148.5 1672.3 L149.5 1672.7 L150.6 1673.1 L151.6 1673.6 L152.7 1674 L153.7 1674.4 L154.8 1674.7 L155.8 1675.1 L156.9 1675.4 L157.9 1675.8 L159 1676.1 L160 1676.3 L161.1 1676.6 L162.1 1676.9 L163.2 1677.1 L164.2 1677.3 L165.3 1677.5 L166.3 1677.7 L167.4 1677.9 L168.4 1678 L169.5 1678.2 L170.5 1678.3 L171.6 1678.5 L172.6 1678.6 L173.7 1678.7 L174.7 1678.8 L175.8 1678.8 L176.8 1678.9 L177.9 1679 L178.9 1679.1 L180 1679.1 L181 1679.2 L182.1 1679.2 L183.1 1679.3 L184.2 1679.3 L185.2 1679.3 L186.3 1679.4 L187.3 1679.4 L188.4 1679.4 L189.4 1679.4 L190.5 1679.5 L191.5 1679.5 L192.6 1679.5 L193.6 1679.5 L194.7 1679.5 L195.7 1679.6 L196.8 1679.6 L197.8 1679.6 L198.9 1679.6 L199.9 1679.6" stroke="#62489A" stroke-width="1.5" fill="none" stroke-linejoin="round"/>
<path d="M53 1679.5 L54 1679.5 L55.1 1679.5 L56.1 1679.4 L57.2 1679.4 L58.2 1679.4 L59.3 1679.4 L60.3 1679.4 L61.4 1679.4 L62.4 1679.4 L63.5 1679.3 L64.5 1679.3 L65.6 1679.3 L66.6 1679.3 L67.7 1679.3 L68.7 1679.2 L69.8 1679.2 L70.8 1679.2 L71.9 1679.1 L72.9 1679.1 L74 1679.1 L75 1679 L76.1 1679 L77.1 1678.9 L78.2 1678.9 L79.2 1678.8 L80.3 1678.7 L81.3 1678.6 L82.4 1678.5 L83.4 1678.4 L84.5 1678.3 L85.5 1678.2 L86.6 1678 L87.6 1677.8 L88.7 1677.6 L89.7 1677.4 L90.8 1677.2 L91.8 1676.9 L92.9 1676.6 L93.9 1676.3 L95 1675.9 L96 1675.5 L97.1 1675 L98.1 1674.6 L99.2 1674.1 L100.2 1673.5 L101.3 1672.9 L102.3 1672.3 L103.4 1671.6 L104.4 1670.9 L105.5 1670.1 L106.5 1669.3 L107.6 1668.5 L108.6 1667.7 L109.7 1666.8 L110.7 1665.9 L111.8 1665 L112.8 1664.1 L113.9 1663.2 L114.9 1662.3 L116 1661.5 L117 1660.7 L118.1 1659.9 L119.1 1659.1 L120.2 1658.5 L121.2 1657.9 L122.3 1657.4 L123.3 1657 L124.4 1656.7 L125.4 1656.6 L126.5 1656.5 L127.5 1656.6 L128.5 1656.7 L129.6 1657 L130.6 1657.4 L131.7 1657.9 L132.7 1658.5 L133.8 1659.1 L134.8 1659.9 L135.9 1660.7 L136.9 1661.5 L138 1662.3 L139 1663.2 L140.1 1664.1 L141.1 1665 L142.2 1665.9 L143.2 1666.8 L144.3 1667.7 L145.3 1668.5 L146.4 1669.3 L147.4 1670.1 L148.5 1670.9 L149.5 1671.6 L150.6 1672.3 L151.6 1672.9 L152.7 1673.5 L153.7 1674.1 L154.8 1674.6 L155.8 1675 L156.9 1675.5 L157.9 1675.9 L159 1676.3 L160 1676.6 L161.1 1676.9 L162.1 1677.2 L163.2 1677.4 L164.2 1677.6 L165.3 1677.8 L166.3 1678 L167.4 1678.2 L168.4 1678.3 L169.5 1678.4 L170.5 1678.5 L171.6 1678.6 L172.6 1678.7 L173.7 1678.8 L174.7 1678.9 L175.8 1678.9 L176.8 1679 L177.9 1679 L178.9 1679.1 L180 1679.1 L181 1679.1 L182.1 1679.2 L183.1 1679.2 L184.2 1679.2 L185.2 1679.3 L186.3 1679.3 L187.3 1679.3 L188.4 1679.3 L189.4 1679.3 L190.5 1679.4 L191.5 1679.4 L192.6 1679.4 L193.6 1679.4 L194.7 1679.4 L195.7 1679.4 L196.8 1679.4 L197.8 1679.5 L198.9 1679.5 L199.9 1679.5" stroke="#3A78BE" stroke-width="1.5" fill="none" stroke-linejoin="round"/>
<path d="M53 1679.4 L54 1679.4 L55.1 1679.4 L56.1 1679.3 L57.2 1679.3 L58.2 1679.3 L59.3 1679.3 L60.3 1679.3 L61.4 1679.3 L62.4 1679.2 L63.5 1679.2 L64.5 1679.2 L65.6 1679.2 L66.6 1679.1 L67.7 1679.1 L68.7 1679.1 L69.8 1679.1 L70.8 1679 L71.9 1679 L72.9 1679 L74 1678.9 L75 1678.9 L76.1 1678.8 L77.1 1678.8 L78.2 1678.7 L79.2 1678.7 L80.3 1678.6 L81.3 1678.5 L82.4 1678.4 L83.4 1678.3 L84.5 1678.2 L85.5 1678.1 L86.6 1677.9 L87.6 1677.8 L88.7 1677.6 L89.7 1677.3 L90.8 1677.1 L91.8 1676.8 L92.9 1676.5 L93.9 1676.1 L95 1675.6 L96 1675.2 L97.1 1674.6 L98.1 1674 L99.2 1673.4 L100.2 1672.6 L101.3 1671.8 L102.3 1670.9 L103.4 1670 L104.4 1668.9 L105.5 1667.8 L106.5 1666.6 L107.6 1665.3 L108.6 1664 L109.7 1662.6 L110.7 1661.2 L111.8 1659.7 L112.8 1658.2 L113.9 1656.6 L114.9 1655.1 L116 1653.6 L117 1652.1 L118.1 1650.7 L119.1 1649.4 L120.2 1648.2 L121.2 1647.1 L122.3 1646.1 L123.3 1645.4 L124.4 1644.8 L125.4 1644.5 L126.5 1644.4 L127.5 1644.5 L128.5 1644.8 L129.6 1645.4 L130.6 1646.1 L131.7 1647.1 L132.7 1648.2 L133.8 1649.4 L134.8 1650.7 L135.9 1652.1 L136.9 1653.6 L138 1655.1 L139 1656.6 L140.1 1658.2 L141.1 1659.7 L142.2 1661.2 L143.2 1662.6 L144.3 1664 L145.3 1665.3 L146.4 1666.6 L147.4 1667.8 L148.5 1668.9 L149.5 1670 L150.6 1670.9 L151.6 1671.8 L152.7 1672.6 L153.7 1673.4 L154.8 1674 L155.8 1674.6 L156.9 1675.2 L157.9 1675.6 L159 1676.1 L160 1676.5 L161.1 1676.8 L162.1 1677.1 L163.2 1677.3 L164.2 1677.6 L165.3 1677.8 L166.3 1677.9 L167.4 1678.1 L168.4 1678.2 L169.5 1678.3 L170.5 1678.4 L171.6 1678.5 L172.6 1678.6 L173.7 1678.7 L174.7 1678.7 L175.8 1678.8 L176.8 1678.8 L177.9 1678.9 L178.9 1678.9 L180 1679 L181 1679 L182.1 1679 L183.1 1679.1 L184.2 1679.1 L185.2 1679.1 L186.3 1679.1 L187.3 1679.2 L188.4 1679.2 L189.4 1679.2 L190.5 1679.2 L191.5 1679.3 L192.6 1679.3 L193.6 1679.3 L194.7 1679.3 L195.7 1679.3 L196.8 1679.3 L197.8 1679.4 L198.9 1679.4 L199.9 1679.4" stroke="#E8505A" stroke-width="1.5" fill="none" stroke-linejoin="round"/>
<path d="M53 1677.3 L54 1677.3 L55.1 1677.2 L56.1 1677.2 L57.2 1677.2 L58.2 1677.1 L59.3 1677.1 L60.3 1677 L61.4 1677 L62.4 1676.9 L63.5 1676.9 L64.5 1676.8 L65.6 1676.7 L66.6 1676.7 L67.7 1676.6 L68.7 1676.5 L69.8 1676.5 L70.8 1676.4 L71.9 1676.3 L72.9 1676.2 L74 1676.1 L75 1676 L76.1 1675.9 L77.1 1675.8 L78.2 1675.6 L79.2 1675.5 L80.3 1675.4 L81.3 1675.2 L82.4 1675 L83.4 1674.8 L84.5 1674.6 L85.5 1674.4 L86.6 1674.1 L87.6 1673.9 L88.7 1673.6 L89.7 1673.2 L90.8 1672.8 L91.8 1672.4 L92.9 1671.9 L93.9 1671.3 L95 1670.7 L96 1669.9 L97.1 1669.1 L98.1 1668.1 L99.2 1667 L100.2 1665.6 L101.3 1664.1 L102.3 1662.4 L103.4 1660.4 L104.4 1658.1 L105.5 1655.5 L106.5 1652.5 L107.6 1649.2 L108.6 1645.5 L109.7 1641.3 L110.7 1636.8 L111.8 1631.8 L112.8 1626.4 L113.9 1620.5 L114.9 1614.3 L116 1607.7 L117 1600.7 L118.1 1593.5 L119.1 1586.2 L120.2 1578.7 L121.2 1571.2 L122.3 1563.8 L123.3 1556.6 L124.4 1549.8 L125.4 1543.4 L126.5 1537.3 L127.5 1543.4 L128.5 1549.8 L129.6 1556.6 L130.6 1563.8 L131.7 1571.2 L132.7 1578.7 L133.8 1586.2 L134.8 1593.5 L135.9 1600.7 L136.9 1607.7 L138 1614.3 L139 1620.5 L140.1 1626.4 L141.1 1631.8 L142.2 1636.8 L143.2 1641.3 L144.3 1645.5 L145.3 1649.2 L146.4 1652.5 L147.4 1655.5 L148.5 1658.1 L149.5 1660.4 L150.6 1662.4 L151.6 1664.1 L152.7 1665.6 L153.7 1667 L154.8 1668.1 L155.8 1669.1 L156.9 1669.9 L157.9 1670.7 L159 1671.3 L160 1671.9 L161.1 1672.4 L162.1 1672.8 L163.2 1673.2 L164.2 1673.6 L165.3 1673.9 L166.3 1674.1 L167.4 1674.4 L168.4 1674.6 L169.5 1674.8 L170.5 1675 L171.6 1675.2 L172.6 1675.4 L173.7 1675.5 L174.7 1675.6 L175.8 1675.8 L176.8 1675.9 L177.9 1676 L178.9 1676.1 L180 1676.2 L181 1676.3 L182.1 1676.4 L183.1 1676.5 L184.2 1676.5 L185.2 1676.6 L186.3 1676.7 L187.3 1676.7 L188.4 1676.8 L189.4 1676.9 L190.5 1676.9 L191.5 1677 L192.6 1677 L193.6 1677.1 L194.7 1677.1 L195.7 1677.2 L196.8 1677.2 L197.8 1677.2 L198.9 1677.3 L199.9 1677.3" stroke="#35A04A" stroke-width="1.5" fill="none" stroke-linejoin="round"/>
</g>
<rect x="45.7" y="1530.5" width="161.5" height="156.9" fill="none" stroke="#111" stroke-width="1.6"/>
<line x1="42.7" y1="1559.6" x2="45.7" y2="1559.6" stroke="#111" stroke-width="1"/>
<text x="41.2" y="1559.6" font-size="21" text-anchor="middle" fill="#111" transform="rotate(-90 41.2 1559.6)">4</text>
<line x1="42.7" y1="1680.1" x2="45.7" y2="1680.1" stroke="#111" stroke-width="1"/>
<text x="41.2" y="1680.1" font-size="21" text-anchor="middle" fill="#111" transform="rotate(-90 41.2 1680.1)">0</text>
<line x1="53" y1="1687.4" x2="53" y2="1690.4" stroke="#111" stroke-width="1"/>
<line x1="199.9" y1="1687.4" x2="199.9" y2="1690.4" stroke="#111" stroke-width="1"/>
<text x="41.6" y="1707.2" font-size="21" fill="#111">-500</text>
<text x="184" y="1707.2" font-size="21" fill="#111">500</text>
<clipPath id="dc5"><rect x="230.7" y="1530.5" width="162.7" height="156.9"/></clipPath>
<line x1="313.2" y1="1530.5" x2="313.2" y2="1687.4" stroke="#9a9a9a" stroke-width="3.6"/>
<g clip-path="url(#dc5)">
<path d="M237.9 1679.5 L239 1679.5 L240 1679.5 L241.1 1679.5 L242.1 1679.5 L243.2 1679.5 L244.3 1679.4 L245.3 1679.4 L246.4 1679.4 L247.5 1679.4 L248.5 1679.3 L249.6 1679.3 L250.6 1679.3 L251.7 1679.2 L252.8 1679.2 L253.8 1679.1 L254.9 1679.1 L255.9 1679 L257 1678.9 L258.1 1678.8 L259.1 1678.7 L260.2 1678.6 L261.3 1678.5 L262.3 1678.4 L263.4 1678.3 L264.4 1678.1 L265.5 1678 L266.6 1677.8 L267.6 1677.6 L268.7 1677.4 L269.7 1677.1 L270.8 1676.9 L271.9 1676.6 L272.9 1676.3 L274 1676 L275.1 1675.6 L276.1 1675.3 L277.2 1674.9 L278.2 1674.5 L279.3 1674 L280.4 1673.5 L281.4 1673.1 L282.5 1672.5 L283.5 1672 L284.6 1671.4 L285.7 1670.9 L286.7 1670.3 L287.8 1669.7 L288.8 1669 L289.9 1668.4 L291 1667.8 L292 1667.1 L293.1 1666.5 L294.2 1665.9 L295.2 1665.2 L296.3 1664.6 L297.3 1664 L298.4 1663.5 L299.5 1662.9 L300.5 1662.4 L301.6 1662 L302.6 1661.6 L303.7 1661.2 L304.8 1660.9 L305.8 1660.6 L306.9 1660.5 L308 1660.3 L309 1660.3 L310.1 1660.3 L311.1 1660.3 L312.2 1660.3 L313.3 1660.3 L314.3 1660.3 L315.4 1660.3 L316.4 1660.3 L317.5 1660.3 L318.6 1660.3 L319.6 1660.3 L320.7 1660.3 L321.8 1660.4 L322.8 1660.5 L323.9 1660.7 L324.9 1660.9 L326 1661.2 L327.1 1661.6 L328.1 1662 L329.2 1662.5 L330.2 1663 L331.3 1663.5 L332.4 1664.1 L333.4 1664.7 L334.5 1665.3 L335.6 1665.9 L336.6 1666.6 L337.7 1667.2 L338.7 1667.8 L339.8 1668.5 L340.9 1669.1 L341.9 1669.7 L343 1670.3 L344 1670.9 L345.1 1671.5 L346.2 1672.1 L347.2 1672.6 L348.3 1673.1 L349.4 1673.6 L350.4 1674.1 L351.5 1674.5 L352.5 1674.9 L353.6 1675.3 L354.7 1675.7 L355.7 1676 L356.8 1676.3 L357.8 1676.6 L358.9 1676.9 L360 1677.2 L361 1677.4 L362.1 1677.6 L363.1 1677.8 L364.2 1678 L365.3 1678.1 L366.3 1678.3 L367.4 1678.4 L368.5 1678.5 L369.5 1678.7 L370.6 1678.8 L371.6 1678.8 L372.7 1678.9 L373.8 1679 L374.8 1679.1 L375.9 1679.1 L376.9 1679.2 L378 1679.2 L379.1 1679.3 L380.1 1679.3 L381.2 1679.3 L382.3 1679.4 L383.3 1679.4 L384.4 1679.4 L385.4 1679.4 L386.5 1679.5" stroke="#62489A" stroke-width="1.5" fill="none" stroke-linejoin="round"/>
<path d="M237.9 1679.3 L239 1679.3 L240 1679.2 L241.1 1679.2 L242.1 1679.2 L243.2 1679.2 L244.3 1679.2 L245.3 1679.1 L246.4 1679.1 L247.5 1679.1 L248.5 1679.1 L249.6 1679 L250.6 1679 L251.7 1679 L252.8 1679 L253.8 1678.9 L254.9 1678.9 L255.9 1678.9 L257 1678.8 L258.1 1678.8 L259.1 1678.7 L260.2 1678.7 L261.3 1678.6 L262.3 1678.6 L263.4 1678.5 L264.4 1678.4 L265.5 1678.4 L266.6 1678.3 L267.6 1678.2 L268.7 1678.1 L269.7 1678 L270.8 1677.8 L271.9 1677.7 L272.9 1677.5 L274 1677.3 L275.1 1677.1 L276.1 1676.8 L277.2 1676.5 L278.2 1676.1 L279.3 1675.7 L280.4 1675.2 L281.4 1674.7 L282.5 1674.1 L283.5 1673.4 L284.6 1672.6 L285.7 1671.6 L286.7 1670.6 L287.8 1669.5 L288.8 1668.3 L289.9 1666.9 L291 1665.4 L292 1663.8 L293.1 1662 L294.2 1660.1 L295.2 1658.2 L296.3 1656.1 L297.3 1653.9 L298.4 1651.7 L299.5 1649.4 L300.5 1647.1 L301.6 1644.8 L302.6 1642.6 L303.7 1640.4 L304.8 1638.3 L305.8 1636.4 L306.9 1634.7 L308 1633.2 L309 1632 L310.1 1631.1 L311.1 1630.6 L312.2 1630.4 L313.3 1630.6 L314.3 1631.1 L315.4 1632 L316.4 1633.2 L317.5 1634.7 L318.6 1636.4 L319.6 1638.3 L320.7 1640.4 L321.8 1642.6 L322.8 1644.8 L323.9 1647.1 L324.9 1649.4 L326 1651.7 L327.1 1653.9 L328.1 1656.1 L329.2 1658.2 L330.2 1660.1 L331.3 1662 L332.4 1663.8 L333.4 1665.4 L334.5 1666.9 L335.6 1668.3 L336.6 1669.5 L337.7 1670.6 L338.7 1671.6 L339.8 1672.6 L340.9 1673.4 L341.9 1674.1 L343 1674.7 L344 1675.2 L345.1 1675.7 L346.2 1676.1 L347.2 1676.5 L348.3 1676.8 L349.4 1677.1 L350.4 1677.3 L351.5 1677.5 L352.5 1677.7 L353.6 1677.8 L354.7 1678 L355.7 1678.1 L356.8 1678.2 L357.8 1678.3 L358.9 1678.4 L360 1678.4 L361 1678.5 L362.1 1678.6 L363.1 1678.6 L364.2 1678.7 L365.3 1678.7 L366.3 1678.8 L367.4 1678.8 L368.5 1678.9 L369.5 1678.9 L370.6 1678.9 L371.6 1679 L372.7 1679 L373.8 1679 L374.8 1679 L375.9 1679.1 L376.9 1679.1 L378 1679.1 L379.1 1679.1 L380.1 1679.2 L381.2 1679.2 L382.3 1679.2 L383.3 1679.2 L384.4 1679.2 L385.4 1679.3 L386.5 1679.3" stroke="#E8505A" stroke-width="1.5" fill="none" stroke-linejoin="round"/>
<path d="M237.9 1675.3 L239 1675.3 L240 1675.3 L241.1 1675.2 L242.1 1675.2 L243.2 1675.1 L244.3 1675.1 L245.3 1675 L246.4 1675 L247.5 1674.9 L248.5 1674.9 L249.6 1674.8 L250.6 1674.8 L251.7 1674.7 L252.8 1674.7 L253.8 1674.6 L254.9 1674.5 L255.9 1674.4 L257 1674.4 L258.1 1674.3 L259.1 1674.2 L260.2 1674.1 L261.3 1674 L262.3 1673.8 L263.4 1673.7 L264.4 1673.6 L265.5 1673.4 L266.6 1673.2 L267.6 1673 L268.7 1672.8 L269.7 1672.6 L270.8 1672.3 L271.9 1671.9 L272.9 1671.6 L274 1671.2 L275.1 1670.7 L276.1 1670.1 L277.2 1669.5 L278.2 1668.8 L279.3 1668 L280.4 1667.1 L281.4 1666.1 L282.5 1665 L283.5 1663.7 L284.6 1662.3 L285.7 1660.7 L286.7 1659 L287.8 1657.1 L288.8 1655 L289.9 1652.8 L291 1650.4 L292 1647.8 L293.1 1645 L294.2 1642.1 L295.2 1639 L296.3 1635.8 L297.3 1632.5 L298.4 1629.1 L299.5 1625.7 L300.5 1622.2 L301.6 1618.8 L302.6 1615.5 L303.7 1612.2 L304.8 1609.2 L305.8 1606.4 L306.9 1603.9 L308 1601.7 L309 1599.9 L310.1 1598.7 L311.1 1597.9 L312.2 1597.6 L313.3 1597.9 L314.3 1598.7 L315.4 1599.9 L316.4 1601.7 L317.5 1603.9 L318.6 1606.4 L319.6 1609.2 L320.7 1612.2 L321.8 1615.5 L322.8 1618.8 L323.9 1622.2 L324.9 1625.7 L326 1629.1 L327.1 1632.5 L328.1 1635.8 L329.2 1639 L330.2 1642.1 L331.3 1645 L332.4 1647.8 L333.4 1650.4 L334.5 1652.8 L335.6 1655 L336.6 1657.1 L337.7 1659 L338.7 1660.7 L339.8 1662.3 L340.9 1663.7 L341.9 1665 L343 1666.1 L344 1667.1 L345.1 1668 L346.2 1668.8 L347.2 1669.5 L348.3 1670.1 L349.4 1670.7 L350.4 1671.2 L351.5 1671.6 L352.5 1671.9 L353.6 1672.3 L354.7 1672.6 L355.7 1672.8 L356.8 1673 L357.8 1673.2 L358.9 1673.4 L360 1673.6 L361 1673.7 L362.1 1673.8 L363.1 1674 L364.2 1674.1 L365.3 1674.2 L366.3 1674.3 L367.4 1674.4 L368.5 1674.4 L369.5 1674.5 L370.6 1674.6 L371.6 1674.7 L372.7 1674.7 L373.8 1674.8 L374.8 1674.8 L375.9 1674.9 L376.9 1674.9 L378 1675 L379.1 1675 L380.1 1675.1 L381.2 1675.1 L382.3 1675.2 L383.3 1675.2 L384.4 1675.3 L385.4 1675.3 L386.5 1675.3" stroke="#35A04A" stroke-width="1.5" fill="none" stroke-linejoin="round"/>
<path d="M237.9 1680 L239 1679.9 L240 1679.9 L241.1 1679.8 L242.1 1679.7 L243.2 1679.7 L244.3 1679.6 L245.3 1679.6 L246.4 1679.5 L247.5 1679.4 L248.5 1679.4 L249.6 1679.3 L250.6 1679.3 L251.7 1679.2 L252.8 1679.1 L253.8 1679.1 L254.9 1679 L255.9 1679 L257 1678.9 L258.1 1678.8 L259.1 1678.7 L260.2 1678.7 L261.3 1678.6 L262.3 1678.5 L263.4 1678.4 L264.4 1678.3 L265.5 1678.2 L266.6 1678.1 L267.6 1678 L268.7 1677.9 L269.7 1677.8 L270.8 1677.6 L271.9 1677.5 L272.9 1677.3 L274 1677.1 L275.1 1676.9 L276.1 1676.7 L277.2 1676.5 L278.2 1676.2 L279.3 1676 L280.4 1675.7 L281.4 1675.3 L282.5 1675 L283.5 1674.6 L284.6 1674.1 L285.7 1673.5 L286.7 1672.7 L287.8 1671.8 L288.8 1670.7 L289.9 1669.3 L291 1666.8 L292 1663.1 L293.1 1658.7 L294.2 1653.7 L295.2 1648.6 L296.3 1643.5 L297.3 1637.5 L298.4 1630.7 L299.5 1623.7 L300.5 1617.2 L301.6 1611.7 L302.6 1607.7 L303.7 1604.6 L304.8 1601.3 L305.8 1596.7 L306.9 1588.2 L308 1569.3 L309 1555.5 L310.1 1549.2 L311.1 1544.7 L312.2 1543 L313.3 1544.8 L314.3 1549.5 L315.4 1555.5 L316.4 1565.7 L317.5 1580.3 L318.6 1591.5 L319.6 1597 L320.7 1601.1 L321.8 1605.1 L322.8 1610.1 L323.9 1616 L324.9 1622.5 L326 1629 L327.1 1635.3 L328.1 1641 L329.2 1645.6 L330.2 1649.7 L331.3 1653.7 L332.4 1657.6 L333.4 1661.1 L334.5 1664.2 L335.6 1666.9 L336.6 1668.9 L337.7 1670.2 L338.7 1671.2 L339.8 1672.2 L340.9 1673 L341.9 1673.8 L343 1674.5 L344 1675.1 L345.1 1675.7 L346.2 1676.1 L347.2 1676.5 L348.3 1676.8 L349.4 1677 L350.4 1677.2 L351.5 1677.3 L352.5 1677.5 L353.6 1677.6 L354.7 1677.8 L355.7 1677.9 L356.8 1678 L357.8 1678.1 L358.9 1678.2 L360 1678.3 L361 1678.4 L362.1 1678.5 L363.1 1678.6 L364.2 1678.6 L365.3 1678.7 L366.3 1678.8 L367.4 1678.9 L368.5 1678.9 L369.5 1679 L370.6 1679 L371.6 1679.1 L372.7 1679.2 L373.8 1679.2 L374.8 1679.3 L375.9 1679.3 L376.9 1679.4 L378 1679.4 L379.1 1679.5 L380.1 1679.6 L381.2 1679.6 L382.3 1679.7 L383.3 1679.8 L384.4 1679.8 L385.4 1679.9 L386.5 1680" stroke="#3A78BE" stroke-width="1.5" fill="none" stroke-linejoin="round"/>
</g>
<rect x="230.7" y="1530.5" width="162.7" height="156.9" fill="none" stroke="#111" stroke-width="1.6"/>
<line x1="227.7" y1="1536.8" x2="230.7" y2="1536.8" stroke="#111" stroke-width="1"/>
<text x="226.2" y="1536.8" font-size="21" text-anchor="middle" fill="#111" transform="rotate(-90 226.2 1536.8)">3.5</text>
<line x1="227.7" y1="1683.3" x2="230.7" y2="1683.3" stroke="#111" stroke-width="1"/>
<text x="226.2" y="1683.3" font-size="21" text-anchor="middle" fill="#111" transform="rotate(-90 226.2 1683.3)">0.0</text>
<line x1="237.9" y1="1687.4" x2="237.9" y2="1690.4" stroke="#111" stroke-width="1"/>
<line x1="386.5" y1="1687.4" x2="386.5" y2="1690.4" stroke="#111" stroke-width="1"/>
<text x="225.5" y="1707.2" font-size="21" fill="#111">-500</text>
<text x="367.9" y="1707.2" font-size="21" fill="#111">500</text>
<clipPath id="dc6"><rect x="414.9" y="1530.5" width="163.6" height="156.9"/></clipPath>
<line x1="497.8" y1="1530.5" x2="497.8" y2="1687.4" stroke="#9a9a9a" stroke-width="3.6"/>
<g clip-path="url(#dc6)">
<path d="M422.2 1679.4 L423.3 1679.4 L424.3 1679.4 L425.4 1679.4 L426.5 1679.3 L427.5 1679.3 L428.6 1679.3 L429.6 1679.3 L430.7 1679.2 L431.8 1679.2 L432.8 1679.2 L433.9 1679.1 L435 1679.1 L436 1679.1 L437.1 1679 L438.2 1679 L439.2 1678.9 L440.3 1678.8 L441.4 1678.8 L442.4 1678.7 L443.5 1678.6 L444.6 1678.5 L445.6 1678.4 L446.7 1678.3 L447.7 1678.2 L448.8 1678 L449.9 1677.9 L450.9 1677.7 L452 1677.5 L453.1 1677.3 L454.1 1677.1 L455.2 1676.8 L456.3 1676.6 L457.3 1676.3 L458.4 1675.9 L459.4 1675.6 L460.5 1675.2 L461.6 1674.8 L462.6 1674.3 L463.7 1673.9 L464.8 1673.4 L465.8 1672.8 L466.9 1672.3 L468 1671.7 L469 1671 L470.1 1670.4 L471.2 1669.7 L472.2 1669 L473.3 1668.3 L474.4 1667.5 L475.4 1666.8 L476.5 1666 L477.5 1665.2 L478.6 1664.4 L479.7 1663.6 L480.7 1662.8 L481.8 1662 L482.9 1661.3 L483.9 1660.5 L485 1659.8 L486.1 1659.1 L487.1 1658.5 L488.2 1658 L489.2 1657.5 L490.3 1657 L491.4 1656.7 L492.4 1656.4 L493.5 1656.2 L494.6 1656.1 L495.6 1656.1 L496.7 1656.1 L497.8 1656.1 L498.8 1656.1 L499.9 1656.1 L501 1656.1 L502 1656.1 L503.1 1656.2 L504.2 1656.5 L505.2 1656.7 L506.3 1657.1 L507.3 1657.6 L508.4 1658.1 L509.5 1658.6 L510.5 1659.3 L511.6 1660 L512.7 1660.7 L513.7 1661.4 L514.8 1662.2 L515.9 1663 L516.9 1663.7 L518 1664.5 L519.1 1665.3 L520.1 1666.1 L521.2 1666.9 L522.2 1667.7 L523.3 1668.4 L524.4 1669.1 L525.4 1669.9 L526.5 1670.5 L527.6 1671.2 L528.6 1671.8 L529.7 1672.4 L530.8 1672.9 L531.8 1673.5 L532.9 1674 L534 1674.4 L535 1674.9 L536.1 1675.3 L537.1 1675.7 L538.2 1676 L539.3 1676.3 L540.3 1676.6 L541.4 1676.9 L542.5 1677.1 L543.5 1677.4 L544.6 1677.6 L545.7 1677.7 L546.7 1677.9 L547.8 1678.1 L548.9 1678.2 L549.9 1678.3 L551 1678.4 L552 1678.5 L553.1 1678.6 L554.2 1678.7 L555.2 1678.8 L556.3 1678.9 L557.4 1678.9 L558.4 1679 L559.5 1679 L560.6 1679.1 L561.6 1679.1 L562.7 1679.2 L563.8 1679.2 L564.8 1679.2 L565.9 1679.2 L566.9 1679.3 L568 1679.3 L569.1 1679.3 L570.1 1679.3 L571.2 1679.4" stroke="#62489A" stroke-width="1.5" fill="none" stroke-linejoin="round"/>
<path d="M422.2 1678.2 L423.3 1678.2 L424.3 1678.2 L425.4 1678.1 L426.5 1678.1 L427.5 1678.1 L428.6 1678 L429.6 1678 L430.7 1677.9 L431.8 1677.9 L432.8 1677.8 L433.9 1677.8 L435 1677.7 L436 1677.6 L437.1 1677.6 L438.2 1677.5 L439.2 1677.4 L440.3 1677.3 L441.4 1677.2 L442.4 1677 L443.5 1676.9 L444.6 1676.7 L445.6 1676.6 L446.7 1676.4 L447.7 1676.2 L448.8 1675.9 L449.9 1675.7 L450.9 1675.4 L452 1675.1 L453.1 1674.8 L454.1 1674.4 L455.2 1674 L456.3 1673.6 L457.3 1673.2 L458.4 1672.7 L459.4 1672.2 L460.5 1671.6 L461.6 1671 L462.6 1670.4 L463.7 1669.8 L464.8 1669.1 L465.8 1668.4 L466.9 1667.6 L468 1666.8 L469 1666 L470.1 1665.2 L471.2 1664.3 L472.2 1663.4 L473.3 1662.5 L474.4 1661.6 L475.4 1660.7 L476.5 1659.8 L477.5 1658.9 L478.6 1658 L479.7 1657.1 L480.7 1656.2 L481.8 1655.4 L482.9 1654.6 L483.9 1653.8 L485 1653.2 L486.1 1652.5 L487.1 1652 L488.2 1651.5 L489.2 1651.1 L490.3 1650.8 L491.4 1650.6 L492.4 1650.5 L493.5 1650.5 L494.6 1650.5 L495.6 1650.5 L496.7 1650.5 L497.8 1650.5 L498.8 1650.5 L499.9 1650.5 L501 1650.5 L502 1650.5 L503.1 1650.6 L504.2 1650.7 L505.2 1651 L506.3 1651.3 L507.3 1651.8 L508.4 1652.3 L509.5 1652.9 L510.5 1653.6 L511.6 1654.3 L512.7 1655.1 L513.7 1655.9 L514.8 1656.7 L515.9 1657.6 L516.9 1658.5 L518 1659.4 L519.1 1660.3 L520.1 1661.3 L521.2 1662.2 L522.2 1663.1 L523.3 1664 L524.4 1664.8 L525.4 1665.7 L526.5 1666.5 L527.6 1667.3 L528.6 1668.1 L529.7 1668.8 L530.8 1669.5 L531.8 1670.2 L532.9 1670.8 L534 1671.4 L535 1672 L536.1 1672.5 L537.1 1673 L538.2 1673.4 L539.3 1673.9 L540.3 1674.3 L541.4 1674.6 L542.5 1675 L543.5 1675.3 L544.6 1675.6 L545.7 1675.8 L546.7 1676.1 L547.8 1676.3 L548.9 1676.5 L549.9 1676.7 L551 1676.8 L552 1677 L553.1 1677.1 L554.2 1677.2 L555.2 1677.3 L556.3 1677.4 L557.4 1677.5 L558.4 1677.6 L559.5 1677.7 L560.6 1677.7 L561.6 1677.8 L562.7 1677.9 L563.8 1677.9 L564.8 1678 L565.9 1678 L566.9 1678 L568 1678.1 L569.1 1678.1 L570.1 1678.1 L571.2 1678.2" stroke="#3A78BE" stroke-width="1.5" fill="none" stroke-linejoin="round"/>
<path d="M422.2 1674.4 L423.3 1674.4 L424.3 1674.3 L425.4 1674.3 L426.5 1674.2 L427.5 1674.2 L428.6 1674.2 L429.6 1674.1 L430.7 1674.1 L431.8 1674 L432.8 1673.9 L433.9 1673.9 L435 1673.8 L436 1673.8 L437.1 1673.7 L438.2 1673.6 L439.2 1673.5 L440.3 1673.4 L441.4 1673.3 L442.4 1673.2 L443.5 1673.1 L444.6 1672.9 L445.6 1672.8 L446.7 1672.6 L447.7 1672.4 L448.8 1672.2 L449.9 1672 L450.9 1671.7 L452 1671.4 L453.1 1671 L454.1 1670.6 L455.2 1670.2 L456.3 1669.7 L457.3 1669.1 L458.4 1668.5 L459.4 1667.7 L460.5 1666.9 L461.6 1666 L462.6 1665 L463.7 1663.9 L464.8 1662.7 L465.8 1661.3 L466.9 1659.8 L468 1658.2 L469 1656.5 L470.1 1654.6 L471.2 1652.6 L472.2 1650.4 L473.3 1648.1 L474.4 1645.7 L475.4 1643.2 L476.5 1640.5 L477.5 1637.7 L478.6 1634.9 L479.7 1632 L480.7 1629.1 L481.8 1626.1 L482.9 1623.1 L483.9 1620.2 L485 1617.4 L486.1 1614.6 L487.1 1612 L488.2 1609.6 L489.2 1607.4 L490.3 1605.5 L491.4 1603.8 L492.4 1602.5 L493.5 1601.6 L494.6 1601.1 L495.6 1600.9 L496.7 1600.9 L497.8 1600.9 L498.8 1600.9 L499.9 1601.1 L501 1601.7 L502 1602.7 L503.1 1604.1 L504.2 1605.8 L505.2 1607.7 L506.3 1610 L507.3 1612.4 L508.4 1615.1 L509.5 1617.8 L510.5 1620.7 L511.6 1623.6 L512.7 1626.6 L513.7 1629.5 L514.8 1632.5 L515.9 1635.4 L516.9 1638.2 L518 1640.9 L519.1 1643.6 L520.1 1646.1 L521.2 1648.5 L522.2 1650.8 L523.3 1652.9 L524.4 1654.9 L525.4 1656.8 L526.5 1658.5 L527.6 1660.1 L528.6 1661.5 L529.7 1662.9 L530.8 1664.1 L531.8 1665.2 L532.9 1666.2 L534 1667.1 L535 1667.8 L536.1 1668.6 L537.1 1669.2 L538.2 1669.8 L539.3 1670.3 L540.3 1670.7 L541.4 1671.1 L542.5 1671.4 L543.5 1671.7 L544.6 1672 L545.7 1672.2 L546.7 1672.5 L547.8 1672.6 L548.9 1672.8 L549.9 1673 L551 1673.1 L552 1673.2 L553.1 1673.3 L554.2 1673.4 L555.2 1673.5 L556.3 1673.6 L557.4 1673.7 L558.4 1673.8 L559.5 1673.8 L560.6 1673.9 L561.6 1674 L562.7 1674 L563.8 1674.1 L564.8 1674.1 L565.9 1674.2 L566.9 1674.2 L568 1674.3 L569.1 1674.3 L570.1 1674.3 L571.2 1674.4" stroke="#35A04A" stroke-width="1.5" fill="none" stroke-linejoin="round"/>
<path d="M422.2 1679 L423.3 1678.9 L424.3 1678.9 L425.4 1678.8 L426.5 1678.7 L427.5 1678.7 L428.6 1678.6 L429.6 1678.6 L430.7 1678.5 L431.8 1678.5 L432.8 1678.4 L433.9 1678.3 L435 1678.3 L436 1678.2 L437.1 1678.2 L438.2 1678.1 L439.2 1678.1 L440.3 1678 L441.4 1677.9 L442.4 1677.9 L443.5 1677.8 L444.6 1677.7 L445.6 1677.6 L446.7 1677.5 L447.7 1677.4 L448.8 1677.3 L449.9 1677.2 L450.9 1677.1 L452 1677 L453.1 1676.9 L454.1 1676.7 L455.2 1676.6 L456.3 1676.4 L457.3 1676.2 L458.4 1676 L459.4 1675.7 L460.5 1675.4 L461.6 1675.1 L462.6 1674.7 L463.7 1674.3 L464.8 1673.9 L465.8 1673.2 L466.9 1672.1 L468 1670.6 L469 1668.7 L470.1 1666.5 L471.2 1663.9 L472.2 1661.1 L473.3 1658.2 L474.4 1655 L475.4 1651.8 L476.5 1648.4 L477.5 1644.1 L478.6 1639 L479.7 1633.3 L480.7 1627.3 L481.8 1621.5 L482.9 1616 L483.9 1610.7 L485 1605.6 L486.1 1600.4 L487.1 1595.1 L488.2 1589.7 L489.2 1584 L490.3 1577.2 L491.4 1569 L492.4 1560.3 L493.5 1552 L494.6 1545 L495.6 1540.1 L496.7 1538.3 L497.8 1540.9 L498.8 1547.3 L499.9 1555.9 L501 1564.7 L502 1571.9 L503.1 1576.8 L504.2 1580.9 L505.2 1584.9 L506.3 1589.8 L507.3 1595.9 L508.4 1602.7 L509.5 1609.7 L510.5 1615.9 L511.6 1621.3 L512.7 1626.6 L513.7 1631.7 L514.8 1636.5 L515.9 1641 L516.9 1645 L518 1648.6 L519.1 1651.6 L520.1 1654.7 L521.2 1657.6 L522.2 1660.4 L523.3 1663.1 L524.4 1665.5 L525.4 1667.7 L526.5 1669.6 L527.6 1671.2 L528.6 1672.4 L529.7 1673.1 L530.8 1673.7 L531.8 1674.2 L532.9 1674.7 L534 1675.2 L535 1675.5 L536.1 1675.9 L537.1 1676.2 L538.2 1676.4 L539.3 1676.7 L540.3 1676.9 L541.4 1677 L542.5 1677.1 L543.5 1677.2 L544.6 1677.4 L545.7 1677.5 L546.7 1677.6 L547.8 1677.7 L548.9 1677.7 L549.9 1677.8 L551 1677.9 L552 1678 L553.1 1678 L554.2 1678.1 L555.2 1678.2 L556.3 1678.2 L557.4 1678.3 L558.4 1678.3 L559.5 1678.4 L560.6 1678.4 L561.6 1678.5 L562.7 1678.5 L563.8 1678.6 L564.8 1678.6 L565.9 1678.7 L566.9 1678.7 L568 1678.8 L569.1 1678.9 L570.1 1678.9 L571.2 1679" stroke="#E8505A" stroke-width="1.5" fill="none" stroke-linejoin="round"/>
</g>
<rect x="414.9" y="1530.5" width="163.6" height="156.9" fill="none" stroke="#111" stroke-width="1.6"/>
<line x1="411.9" y1="1545.1" x2="414.9" y2="1545.1" stroke="#111" stroke-width="1"/>
<text x="410.4" y="1545.1" font-size="21" text-anchor="middle" fill="#111" transform="rotate(-90 410.4 1545.1)">3.0</text>
<line x1="411.9" y1="1682.2" x2="414.9" y2="1682.2" stroke="#111" stroke-width="1"/>
<text x="410.4" y="1682.2" font-size="21" text-anchor="middle" fill="#111" transform="rotate(-90 410.4 1682.2)">0.0</text>
<line x1="422.2" y1="1687.4" x2="422.2" y2="1690.4" stroke="#111" stroke-width="1"/>
<line x1="571.2" y1="1687.4" x2="571.2" y2="1690.4" stroke="#111" stroke-width="1"/>
<text x="412.2" y="1707.2" font-size="21" fill="#111">-500</text>
<text x="554.6" y="1707.2" font-size="21" fill="#111">500</text>
<clipPath id="dc7"><rect x="596.5" y="1530.5" width="169" height="156.9"/></clipPath>
<line x1="681.3" y1="1530.5" x2="681.3" y2="1687.4" stroke="#9a9a9a" stroke-width="3.6"/>
<g clip-path="url(#dc7)">
<path d="M603.8 1680 L604.9 1680 L606 1680 L607.1 1680 L608.2 1680 L609.3 1680 L610.4 1679.9 L611.5 1679.9 L612.6 1679.9 L613.7 1679.9 L614.8 1679.9 L615.9 1679.8 L616.9 1679.8 L618 1679.8 L619.1 1679.8 L620.2 1679.7 L621.3 1679.7 L622.4 1679.6 L623.5 1679.6 L624.6 1679.6 L625.7 1679.5 L626.8 1679.5 L627.9 1679.4 L629 1679.3 L630.1 1679.2 L631.2 1679.2 L632.3 1679.1 L633.4 1679 L634.5 1678.9 L635.6 1678.7 L636.7 1678.6 L637.8 1678.4 L638.9 1678.3 L640 1678.1 L641.1 1677.9 L642.1 1677.7 L643.2 1677.4 L644.3 1677.1 L645.4 1676.9 L646.5 1676.5 L647.6 1676.2 L648.7 1675.9 L649.8 1675.5 L650.9 1675.1 L652 1674.6 L653.1 1674.2 L654.2 1673.7 L655.3 1673.2 L656.4 1672.7 L657.5 1672.1 L658.6 1671.5 L659.7 1670.9 L660.8 1670.3 L661.9 1669.7 L663 1669.1 L664.1 1668.5 L665.2 1667.8 L666.3 1667.2 L667.4 1666.6 L668.4 1666 L669.5 1665.4 L670.6 1664.8 L671.7 1664.3 L672.8 1663.8 L673.9 1663.4 L675 1663 L676.1 1662.7 L677.2 1662.4 L678.3 1662.3 L679.4 1662.1 L680.5 1662.1 L681.6 1662.1 L682.7 1662.3 L683.8 1662.4 L684.9 1662.7 L686 1663 L687.1 1663.4 L688.2 1663.8 L689.3 1664.3 L690.4 1664.8 L691.5 1665.4 L692.6 1666 L693.6 1666.6 L694.7 1667.2 L695.8 1667.8 L696.9 1668.5 L698 1669.1 L699.1 1669.7 L700.2 1670.3 L701.3 1670.9 L702.4 1671.5 L703.5 1672.1 L704.6 1672.7 L705.7 1673.2 L706.8 1673.7 L707.9 1674.2 L709 1674.6 L710.1 1675.1 L711.2 1675.5 L712.3 1675.9 L713.4 1676.2 L714.5 1676.5 L715.6 1676.9 L716.7 1677.1 L717.8 1677.4 L718.9 1677.7 L719.9 1677.9 L721 1678.1 L722.1 1678.3 L723.2 1678.4 L724.3 1678.6 L725.4 1678.7 L726.5 1678.9 L727.6 1679 L728.7 1679.1 L729.8 1679.2 L730.9 1679.2 L732 1679.3 L733.1 1679.4 L734.2 1679.5 L735.3 1679.5 L736.4 1679.6 L737.5 1679.6 L738.6 1679.6 L739.7 1679.7 L740.8 1679.7 L741.9 1679.8 L743 1679.8 L744.1 1679.8 L745.1 1679.8 L746.2 1679.9 L747.3 1679.9 L748.4 1679.9 L749.5 1679.9 L750.6 1679.9 L751.7 1680 L752.8 1680 L753.9 1680 L755 1680 L756.1 1680 L757.2 1680" stroke="#3A78BE" stroke-width="1.5" fill="none" stroke-linejoin="round"/>
<path d="M603.8 1680 L604.9 1680 L606 1679.9 L607.1 1679.9 L608.2 1679.9 L609.3 1679.9 L610.4 1679.9 L611.5 1679.9 L612.6 1679.8 L613.7 1679.8 L614.8 1679.8 L615.9 1679.8 L616.9 1679.7 L618 1679.7 L619.1 1679.7 L620.2 1679.7 L621.3 1679.6 L622.4 1679.6 L623.5 1679.6 L624.6 1679.5 L625.7 1679.5 L626.8 1679.4 L627.9 1679.4 L629 1679.3 L630.1 1679.3 L631.2 1679.2 L632.3 1679.1 L633.4 1679 L634.5 1678.9 L635.6 1678.8 L636.7 1678.7 L637.8 1678.6 L638.9 1678.4 L640 1678.3 L641.1 1678.1 L642.1 1677.8 L643.2 1677.6 L644.3 1677.3 L645.4 1677 L646.5 1676.7 L647.6 1676.3 L648.7 1675.9 L649.8 1675.4 L650.9 1674.9 L652 1674.3 L653.1 1673.7 L654.2 1673 L655.3 1672.2 L656.4 1671.5 L657.5 1670.6 L658.6 1669.7 L659.7 1668.8 L660.8 1667.8 L661.9 1666.7 L663 1665.6 L664.1 1664.5 L665.2 1663.4 L666.3 1662.2 L667.4 1661.1 L668.4 1659.9 L669.5 1658.8 L670.6 1657.6 L671.7 1656.6 L672.8 1655.6 L673.9 1654.7 L675 1653.9 L676.1 1653.2 L677.2 1652.6 L678.3 1652.2 L679.4 1652 L680.5 1651.9 L681.6 1652 L682.7 1652.2 L683.8 1652.6 L684.9 1653.2 L686 1653.9 L687.1 1654.7 L688.2 1655.6 L689.3 1656.6 L690.4 1657.6 L691.5 1658.8 L692.6 1659.9 L693.6 1661.1 L694.7 1662.2 L695.8 1663.4 L696.9 1664.5 L698 1665.6 L699.1 1666.7 L700.2 1667.8 L701.3 1668.8 L702.4 1669.7 L703.5 1670.6 L704.6 1671.5 L705.7 1672.2 L706.8 1673 L707.9 1673.7 L709 1674.3 L710.1 1674.9 L711.2 1675.4 L712.3 1675.9 L713.4 1676.3 L714.5 1676.7 L715.6 1677 L716.7 1677.3 L717.8 1677.6 L718.9 1677.8 L719.9 1678.1 L721 1678.3 L722.1 1678.4 L723.2 1678.6 L724.3 1678.7 L725.4 1678.8 L726.5 1678.9 L727.6 1679 L728.7 1679.1 L729.8 1679.2 L730.9 1679.3 L732 1679.3 L733.1 1679.4 L734.2 1679.4 L735.3 1679.5 L736.4 1679.5 L737.5 1679.6 L738.6 1679.6 L739.7 1679.6 L740.8 1679.7 L741.9 1679.7 L743 1679.7 L744.1 1679.7 L745.1 1679.8 L746.2 1679.8 L747.3 1679.8 L748.4 1679.8 L749.5 1679.9 L750.6 1679.9 L751.7 1679.9 L752.8 1679.9 L753.9 1679.9 L755 1679.9 L756.1 1680 L757.2 1680" stroke="#E8505A" stroke-width="1.5" fill="none" stroke-linejoin="round"/>
<path d="M603.8 1679.4 L604.9 1679.4 L606 1679.3 L607.1 1679.3 L608.2 1679.2 L609.3 1679.2 L610.4 1679.2 L611.5 1679.1 L612.6 1679.1 L613.7 1679 L614.8 1679 L615.9 1678.9 L616.9 1678.9 L618 1678.8 L619.1 1678.7 L620.2 1678.7 L621.3 1678.6 L622.4 1678.5 L623.5 1678.4 L624.6 1678.3 L625.7 1678.2 L626.8 1678 L627.9 1677.9 L629 1677.7 L630.1 1677.6 L631.2 1677.3 L632.3 1677.1 L633.4 1676.9 L634.5 1676.6 L635.6 1676.3 L636.7 1675.9 L637.8 1675.5 L638.9 1675.1 L640 1674.6 L641.1 1674 L642.1 1673.4 L643.2 1672.7 L644.3 1672 L645.4 1671.1 L646.5 1670.2 L647.6 1669.3 L648.7 1668.2 L649.8 1667.1 L650.9 1665.8 L652 1664.5 L653.1 1663.1 L654.2 1661.6 L655.3 1660 L656.4 1658.4 L657.5 1656.7 L658.6 1654.9 L659.7 1653.1 L660.8 1651.2 L661.9 1649.3 L663 1647.4 L664.1 1645.4 L665.2 1643.5 L666.3 1641.7 L667.4 1639.9 L668.4 1638.2 L669.5 1636.5 L670.6 1635.1 L671.7 1633.8 L672.8 1632.6 L673.9 1631.7 L675 1631 L676.1 1630.6 L677.2 1630.4 L678.3 1630.4 L679.4 1630.4 L680.5 1630.4 L681.6 1630.4 L682.7 1630.4 L683.8 1630.4 L684.9 1630.6 L686 1631 L687.1 1631.7 L688.2 1632.6 L689.3 1633.8 L690.4 1635.1 L691.5 1636.5 L692.6 1638.2 L693.6 1639.9 L694.7 1641.7 L695.8 1643.5 L696.9 1645.4 L698 1647.4 L699.1 1649.3 L700.2 1651.2 L701.3 1653.1 L702.4 1654.9 L703.5 1656.7 L704.6 1658.4 L705.7 1660 L706.8 1661.6 L707.9 1663.1 L709 1664.5 L710.1 1665.8 L711.2 1667.1 L712.3 1668.2 L713.4 1669.3 L714.5 1670.2 L715.6 1671.1 L716.7 1672 L717.8 1672.7 L718.9 1673.4 L719.9 1674 L721 1674.6 L722.1 1675.1 L723.2 1675.5 L724.3 1675.9 L725.4 1676.3 L726.5 1676.6 L727.6 1676.9 L728.7 1677.1 L729.8 1677.3 L730.9 1677.6 L732 1677.7 L733.1 1677.9 L734.2 1678 L735.3 1678.2 L736.4 1678.3 L737.5 1678.4 L738.6 1678.5 L739.7 1678.6 L740.8 1678.7 L741.9 1678.7 L743 1678.8 L744.1 1678.9 L745.1 1678.9 L746.2 1679 L747.3 1679 L748.4 1679.1 L749.5 1679.1 L750.6 1679.2 L751.7 1679.2 L752.8 1679.2 L753.9 1679.3 L755 1679.3 L756.1 1679.4 L757.2 1679.4" stroke="#35A04A" stroke-width="1.5" fill="none" stroke-linejoin="round"/>
<path d="M603.8 1681 L604.9 1681 L606 1681 L607.1 1681 L608.2 1681.1 L609.3 1681.1 L610.4 1681.1 L611.5 1681.1 L612.6 1681.1 L613.7 1681.1 L614.8 1681.1 L615.9 1681.2 L616.9 1681.2 L618 1681.2 L619.1 1681.2 L620.2 1681.2 L621.3 1681.2 L622.4 1681.2 L623.5 1681.2 L624.6 1681.3 L625.7 1681.3 L626.8 1681.3 L627.9 1681.3 L629 1681.3 L630.1 1681.3 L631.2 1681.3 L632.3 1681.3 L633.4 1681.3 L634.5 1681.2 L635.6 1681.2 L636.7 1681 L637.8 1680.9 L638.9 1680.7 L640 1680.4 L641.1 1680.1 L642.1 1679.8 L643.2 1679.4 L644.3 1679 L645.4 1678.6 L646.5 1678.1 L647.6 1677.5 L648.7 1677 L649.8 1676.4 L650.9 1675.7 L652 1675 L653.1 1674.3 L654.2 1673.5 L655.3 1672 L656.4 1669.7 L657.5 1666.9 L658.6 1663.4 L659.7 1659.6 L660.8 1655.4 L661.9 1651 L663 1646 L664.1 1639 L665.2 1631.1 L666.3 1623.3 L667.4 1616.6 L668.4 1610.6 L669.5 1605 L670.6 1600.5 L671.7 1597.7 L672.8 1596 L673.9 1594.7 L675 1592.7 L676.1 1587.7 L677.2 1575.7 L678.3 1560.9 L679.4 1548.3 L680.5 1543 L681.6 1546.9 L682.7 1556.5 L683.8 1568.4 L684.9 1579.3 L686 1585.9 L687.1 1588.3 L688.2 1589.8 L689.3 1591.3 L690.4 1593.5 L691.5 1597.8 L692.6 1603.7 L693.6 1610.1 L694.7 1616.3 L695.8 1622.9 L696.9 1629.8 L698 1636.5 L699.1 1642.7 L700.2 1648.5 L701.3 1654.5 L702.4 1660 L703.5 1664.4 L704.6 1666.9 L705.7 1668.8 L706.8 1670.5 L707.9 1672 L709 1673.4 L710.1 1674.7 L711.2 1675.8 L712.3 1676.7 L713.4 1677.4 L714.5 1678 L715.6 1678.3 L716.7 1678.5 L717.8 1678.7 L718.9 1678.8 L719.9 1678.9 L721 1679.1 L722.1 1679.2 L723.2 1679.3 L724.3 1679.4 L725.4 1679.5 L726.5 1679.6 L727.6 1679.6 L728.7 1679.7 L729.8 1679.8 L730.9 1679.8 L732 1679.9 L733.1 1680 L734.2 1680 L735.3 1680.1 L736.4 1680.1 L737.5 1680.2 L738.6 1680.2 L739.7 1680.3 L740.8 1680.3 L741.9 1680.3 L743 1680.4 L744.1 1680.4 L745.1 1680.5 L746.2 1680.5 L747.3 1680.5 L748.4 1680.6 L749.5 1680.6 L750.6 1680.7 L751.7 1680.7 L752.8 1680.8 L753.9 1680.8 L755 1680.9 L756.1 1680.9 L757.2 1681" stroke="#62489A" stroke-width="1.5" fill="none" stroke-linejoin="round"/>
</g>
<rect x="596.5" y="1530.5" width="169" height="156.9" fill="none" stroke="#111" stroke-width="1.6"/>
<line x1="593.5" y1="1538.2" x2="596.5" y2="1538.2" stroke="#111" stroke-width="1"/>
<text x="592" y="1538.2" font-size="21" text-anchor="middle" fill="#111" transform="rotate(-90 592 1538.2)">5</text>
<line x1="593.5" y1="1680.1" x2="596.5" y2="1680.1" stroke="#111" stroke-width="1"/>
<text x="592" y="1680.1" font-size="21" text-anchor="middle" fill="#111" transform="rotate(-90 592 1680.1)">0</text>
<line x1="603.8" y1="1687.4" x2="603.8" y2="1690.4" stroke="#111" stroke-width="1"/>
<line x1="757.2" y1="1687.4" x2="757.2" y2="1690.4" stroke="#111" stroke-width="1"/>
<text x="596.2" y="1707.2" font-size="21" fill="#111">-500</text>
<text x="738.5" y="1707.2" font-size="21" fill="#111">500</text>
<text x="129.4" y="1305.7" font-size="21" text-anchor="middle" fill="#111">HNF4A</text>
<text x="316.4" y="1305.7" font-size="21" text-anchor="middle" fill="#111">CEBPA</text>
<text x="498" y="1305.7" font-size="21" text-anchor="middle" fill="#111">FOXA1</text>
<text x="687.9" y="1305.7" font-size="21" text-anchor="middle" fill="#111">ONECUT1</text>
<text x="25.6" y="1409" font-size="21" text-anchor="middle" fill="#111" transform="rotate(-90 25.6 1409)">Not centered</text>
<text x="25.6" y="1612.6" font-size="21" text-anchor="middle" fill="#111" transform="rotate(-90 25.6 1612.6)">Centered</text>
<text x="240" y="1725.9" font-size="21" fill="#35A04A">Hnf4a</text>
<text x="326.3" y="1725.9" font-size="21" fill="#3A78BE">Cebpa</text>
<text x="422.6" y="1725.9" font-size="21" fill="#E8505A">Foxa1</text>
<text x="509.9" y="1725.9" font-size="21" fill="#62489A">Onecut1</text>
<text x="4" y="1308.4" font-size="29" font-weight="bold">d</text>
<line x1="872.7" y1="1427.8" x2="1117.4" y2="1427.8" stroke="#e6e6e6" stroke-width="0.8"/>
<line x1="872.7" y1="1389.3" x2="1117.4" y2="1389.3" stroke="#e6e6e6" stroke-width="0.8"/>
<line x1="872.7" y1="1350.8" x2="1117.4" y2="1350.8" stroke="#e6e6e6" stroke-width="0.8"/>
<line x1="878.1" y1="1326.3" x2="878.1" y2="1452.2" stroke="#e6e6e6" stroke-width="0.8"/>
<line x1="952.5" y1="1326.3" x2="952.5" y2="1452.2" stroke="#e6e6e6" stroke-width="0.8"/>
<line x1="1026.8" y1="1326.3" x2="1026.8" y2="1452.2" stroke="#e6e6e6" stroke-width="0.8"/>
<line x1="1101" y1="1326.3" x2="1101" y2="1452.2" stroke="#e6e6e6" stroke-width="0.8"/>
<line x1="872.7" y1="1447" x2="1117.4" y2="1447" stroke="#e6e6e6" stroke-width="1.3"/>
<line x1="872.7" y1="1408.5" x2="1117.4" y2="1408.5" stroke="#e6e6e6" stroke-width="1.3"/>
<line x1="872.7" y1="1370" x2="1117.4" y2="1370" stroke="#e6e6e6" stroke-width="1.3"/>
<line x1="872.7" y1="1331.6" x2="1117.4" y2="1331.6" stroke="#e6e6e6" stroke-width="1.3"/>
<line x1="915.3" y1="1326.3" x2="915.3" y2="1452.2" stroke="#e6e6e6" stroke-width="1.3"/>
<line x1="989.6" y1="1326.3" x2="989.6" y2="1452.2" stroke="#e6e6e6" stroke-width="1.3"/>
<line x1="1063.9" y1="1326.3" x2="1063.9" y2="1452.2" stroke="#e6e6e6" stroke-width="1.3"/>
<clipPath id="fc0"><rect x="872.7" y="1326.3" width="244.7" height="125.9"/></clipPath>
<g clip-path="url(#fc0)">
<path d="M881.9 1446.7 L884.8 1445.2 L887.8 1446.2 L890.8 1446.2 L893.8 1446.5 L896.7 1446.7 L899.7 1446.4 L902.7 1446.9 L905.6 1447 L908.6 1447 L911.6 1447 L914.6 1446.4 L917.5 1446.1 L920.5 1445.2 L923.5 1446 L926.4 1446 L929.4 1445.6 L932.4 1446 L935.4 1447 L938.3 1444.7 L941.3 1446 L944.3 1445.1 L947.2 1445.4 L950.2 1441.7 L953.2 1443.4 L956.2 1444 L959.1 1445.7 L962.1 1443 L965.1 1445.1 L968.1 1442.1 L971 1445.7 L974 1443.5 L977 1441.9 L979.9 1444.4 L982.9 1442.9 L985.9 1442.7 L988.9 1441.5 L991.8 1443.7 L994.8 1442 L997.8 1439.9 L1000.7 1445.4 L1003.7 1444.6 L1006.7 1442.8 L1009.7 1444.6 L1012.6 1445.7 L1015.6 1442.1 L1018.6 1443 L1021.5 1443 L1024.5 1443.3 L1027.5 1444 L1030.5 1446 L1033.4 1447 L1036.4 1444.9 L1039.4 1446.7 L1042.4 1445.7 L1045.3 1445.6 L1048.3 1447 L1051.3 1446.5 L1054.2 1444.8 L1057.2 1445.8 L1060.2 1447 L1063.2 1446.7 L1066.1 1446.6 L1069.1 1446.2 L1072.1 1446.2 L1075 1446.8 L1078 1447 L1081 1446.2 L1084 1447 L1086.9 1446 L1089.9 1446.6 L1092.9 1447 L1095.8 1447" stroke="#4DC0CA" stroke-width="1.4" fill="none" stroke-linejoin="round"/>
<path d="M881.9 1447 L884.8 1446.8 L887.8 1445.9 L890.8 1445.6 L893.8 1445.9 L896.7 1446.8 L899.7 1446.5 L902.7 1446.9 L905.6 1447 L908.6 1447 L911.6 1445.6 L914.6 1446.1 L917.5 1446.5 L920.5 1447 L923.5 1446 L926.4 1446.3 L929.4 1445.4 L932.4 1444.6 L935.4 1447 L938.3 1444.7 L941.3 1446.3 L944.3 1445.3 L947.2 1445.5 L950.2 1441.3 L953.2 1441.6 L956.2 1441.4 L959.1 1443.3 L962.1 1444.4 L965.1 1441.9 L968.1 1440.3 L971 1440.6 L974 1438.5 L977 1440.7 L979.9 1435.5 L982.9 1438 L985.9 1434.8 L988.9 1438.8 L991.8 1439.9 L994.8 1441.4 L997.8 1437.7 L1000.7 1437.3 L1003.7 1439.6 L1006.7 1439.3 L1009.7 1441.2 L1012.6 1441.8 L1015.6 1441.9 L1018.6 1445.4 L1021.5 1444 L1024.5 1442.5 L1027.5 1442.7 L1030.5 1441.6 L1033.4 1442.8 L1036.4 1443.5 L1039.4 1444.4 L1042.4 1447 L1045.3 1445 L1048.3 1446.4 L1051.3 1445.1 L1054.2 1446.1 L1057.2 1446.3 L1060.2 1446.7 L1063.2 1446.6 L1066.1 1447 L1069.1 1447 L1072.1 1445.6 L1075 1446.3 L1078 1447 L1081 1447 L1084 1447 L1086.9 1444.2 L1089.9 1446.5 L1092.9 1446.9 L1095.8 1447" stroke="#F4B3C2" stroke-width="1.4" fill="none" stroke-linejoin="round"/>
<path d="M881.9 1447 L884.8 1447 L887.8 1447 L890.8 1447 L893.8 1446.2 L896.7 1447 L899.7 1447 L902.7 1447 L905.6 1447 L908.6 1447 L911.6 1446.9 L914.6 1444.3 L917.5 1446.5 L920.5 1446.7 L923.5 1445.7 L926.4 1447 L929.4 1447 L932.4 1445.6 L935.4 1446.7 L938.3 1447 L941.3 1446.4 L944.3 1447 L947.2 1443.5 L950.2 1442.9 L953.2 1440.3 L956.2 1444.5 L959.1 1444 L962.1 1443.5 L965.1 1441.6 L968.1 1442.2 L971 1440.1 L974 1442 L977 1444.2 L979.9 1436.6 L982.9 1441.4 L985.9 1436.9 L988.9 1440.5 L991.8 1439.1 L994.8 1443.8 L997.8 1441.9 L1000.7 1438.3 L1003.7 1437.9 L1006.7 1440.3 L1009.7 1439.6 L1012.6 1444.8 L1015.6 1440.6 L1018.6 1442.6 L1021.5 1443.8 L1024.5 1441.3 L1027.5 1443.3 L1030.5 1444.6 L1033.4 1444.1 L1036.4 1444.5 L1039.4 1444.7 L1042.4 1444.5 L1045.3 1445.6 L1048.3 1444 L1051.3 1443.5 L1054.2 1444.5 L1057.2 1446.4 L1060.2 1447 L1063.2 1445.9 L1066.1 1446.7 L1069.1 1445.1 L1072.1 1446.4 L1075 1446.3 L1078 1447 L1081 1446.7 L1084 1447 L1086.9 1447 L1089.9 1446.7 L1092.9 1447 L1095.8 1447" stroke="#5A3F98" stroke-width="1.4" fill="none" stroke-linejoin="round"/>
<path d="M881.9 1447 L884.8 1446.4 L887.8 1445.5 L890.8 1447 L893.8 1447 L896.7 1447 L899.7 1446.2 L902.7 1445.3 L905.6 1447 L908.6 1447 L911.6 1445.8 L914.6 1446 L917.5 1444.3 L920.5 1445 L923.5 1446.6 L926.4 1446.7 L929.4 1441.6 L932.4 1446.2 L935.4 1446.8 L938.3 1447 L941.3 1444.2 L944.3 1443.5 L947.2 1443.9 L950.2 1442.4 L953.2 1440.7 L956.2 1438.4 L959.1 1435.9 L962.1 1437.5 L965.1 1443.5 L968.1 1433.1 L971 1440.5 L974 1434.1 L977 1438.4 L979.9 1431.1 L982.9 1433.4 L985.9 1428.3 L988.9 1414.6 L991.8 1428.3 L994.8 1424.3 L997.8 1433.4 L1000.7 1429.1 L1003.7 1425.5 L1006.7 1429.3 L1009.7 1428.1 L1012.6 1430.1 L1015.6 1435.9 L1018.6 1430.4 L1021.5 1437.4 L1024.5 1427.6 L1027.5 1438.3 L1030.5 1435.2 L1033.4 1438.8 L1036.4 1437 L1039.4 1442.6 L1042.4 1439.3 L1045.3 1443 L1048.3 1440.6 L1051.3 1442.8 L1054.2 1444.4 L1057.2 1446.6 L1060.2 1444.1 L1063.2 1445 L1066.1 1443.3 L1069.1 1446.9 L1072.1 1445.6 L1075 1445.8 L1078 1446.3 L1081 1446.5 L1084 1446.6 L1086.9 1447 L1089.9 1447 L1092.9 1447 L1095.8 1446.1" stroke="#EC6A2E" stroke-width="1.4" fill="none" stroke-linejoin="round"/>
<path d="M881.9 1447 L884.8 1446.6 L887.8 1447 L890.8 1447 L893.8 1445.5 L896.7 1446.8 L899.7 1447 L902.7 1444 L905.6 1447 L908.6 1447 L911.6 1447 L914.6 1447 L917.5 1445 L920.5 1444.4 L923.5 1443.5 L926.4 1441.7 L929.4 1441.4 L932.4 1442.9 L935.4 1440.7 L938.3 1441.5 L941.3 1443.7 L944.3 1439.3 L947.2 1440.4 L950.2 1440.3 L953.2 1432.1 L956.2 1434.9 L959.1 1438.4 L962.1 1435.8 L965.1 1424.7 L968.1 1434.5 L971 1429.4 L974 1429 L977 1428.8 L979.9 1427.9 L982.9 1432 L985.9 1431.6 L988.9 1430.2 L991.8 1431.1 L994.8 1426.3 L997.8 1423.5 L1000.7 1434.4 L1003.7 1429 L1006.7 1436.3 L1009.7 1436 L1012.6 1435 L1015.6 1434.5 L1018.6 1437.7 L1021.5 1446.6 L1024.5 1433.4 L1027.5 1440 L1030.5 1442 L1033.4 1439.1 L1036.4 1443.4 L1039.4 1446.1 L1042.4 1442.2 L1045.3 1443 L1048.3 1446.1 L1051.3 1443.2 L1054.2 1444.6 L1057.2 1447 L1060.2 1442.8 L1063.2 1445.6 L1066.1 1447 L1069.1 1445.7 L1072.1 1446.3 L1075 1445.1 L1078 1447 L1081 1445.2 L1084 1445.4 L1086.9 1445.8 L1089.9 1445.9 L1092.9 1444.9 L1095.8 1445.8" stroke="#E2454B" stroke-width="1.4" fill="none" stroke-linejoin="round"/>
<path d="M881.9 1447 L884.8 1444.9 L887.8 1447 L890.8 1447 L893.8 1446.6 L896.7 1446.1 L899.7 1446.4 L902.7 1446.2 L905.6 1447 L908.6 1447 L911.6 1447 L914.6 1446.9 L917.5 1447 L920.5 1445 L923.5 1445.2 L926.4 1447 L929.4 1444.5 L932.4 1445.3 L935.4 1442.8 L938.3 1441.5 L941.3 1442.6 L944.3 1446.9 L947.2 1440.6 L950.2 1445.2 L953.2 1435.8 L956.2 1441.1 L959.1 1438.5 L962.1 1430.3 L965.1 1442.2 L968.1 1434.2 L971 1437.3 L974 1434.1 L977 1434.3 L979.9 1427.8 L982.9 1431 L985.9 1428.1 L989.6 1429.7 L989.6 1398.9 L991.1 1423.9 L991.8 1432.1 L994.8 1424.2 L997.8 1431.1 L1000.7 1437.2 L1003.7 1434.2 L1006.7 1429.2 L1009.7 1429.8 L1012.6 1437.6 L1015.6 1435.7 L1018.6 1436.5 L1021.5 1435.2 L1024.5 1440 L1027.5 1438.1 L1030.5 1443.9 L1033.4 1444.2 L1036.4 1441.9 L1039.4 1442.6 L1042.4 1444.7 L1045.3 1444 L1048.3 1445.1 L1051.3 1444.5 L1054.2 1444.2 L1057.2 1445.5 L1060.2 1445.2 L1063.2 1447 L1066.1 1447 L1069.1 1447 L1072.1 1446.2 L1075 1446.7 L1078 1446.1 L1081 1447 L1084 1447 L1086.9 1447 L1089.9 1447 L1092.9 1445.6 L1095.8 1445.2" stroke="#F5B041" stroke-width="1.4" fill="none" stroke-linejoin="round"/>
<path d="M881.9 1445.6 L884.8 1445.7 L887.8 1447 L890.8 1447 L893.8 1446.5 L896.7 1445.1 L899.7 1446.2 L902.7 1447 L905.6 1446.4 L908.6 1443.3 L911.6 1447 L914.6 1443.4 L917.5 1443.9 L920.5 1443.5 L923.5 1442.6 L926.4 1444.7 L929.4 1443.5 L932.4 1438.9 L935.4 1443.4 L938.3 1443.1 L941.3 1445.2 L944.3 1442.5 L947.2 1434.7 L950.2 1427.4 L953.2 1424.6 L956.2 1419.6 L959.1 1418.7 L962.1 1418.6 L965.1 1415 L968.1 1418.1 L971 1411.1 L974 1413.2 L977 1417.3 L979.9 1414.6 L982.9 1407.6 L985.9 1402.2 L988.5 1331.6 L991.8 1398.8 L994.8 1404 L997.8 1405.8 L1000.7 1414.9 L1003.7 1422.2 L1006.7 1418.2 L1009.7 1418.4 L1012.6 1425.6 L1015.6 1424.9 L1018.6 1429.5 L1023 1422 L1027.5 1438.7 L1030.5 1436.9 L1033.4 1435.3 L1036.4 1435.8 L1039.4 1438.3 L1042.4 1440 L1045.3 1440.8 L1048.3 1446 L1051.3 1442.8 L1054.2 1445.4 L1057.2 1443.7 L1060.2 1445.4 L1063.2 1442.9 L1066.1 1443.9 L1069.1 1443.7 L1072.1 1444.7 L1075 1442.9 L1078 1439.8 L1081 1446.9 L1084 1442.5 L1086.9 1443.9 L1089.9 1445.7 L1092.9 1447 L1095.8 1444.7" stroke="#3F72B5" stroke-width="1.4" fill="none" stroke-linejoin="round"/>
<path d="M881.9 1446.7 L884.8 1446.7 L887.8 1446.4 L890.8 1447 L893.8 1445.2 L896.7 1445.3 L899.7 1442.2 L902.7 1447 L905.6 1437.1 L908.6 1447 L911.6 1443.4 L914.6 1440.4 L917.5 1442.8 L920.5 1443.7 L923.5 1439.2 L926.4 1433.5 L929.4 1430.6 L932.4 1445.9 L935.4 1436.3 L938.3 1440.4 L941.3 1427.4 L944.3 1433.6 L947.2 1426.6 L950.2 1418.7 L953.2 1425.6 L956.2 1420.9 L959.1 1425.5 L962.1 1421.6 L965.1 1430.8 L968.1 1423 L971 1417.9 L974 1415.9 L977 1396.4 L979.9 1420.7 L982.9 1418.5 L985.9 1403.8 L988.9 1398.1 L991.8 1393.5 L994.8 1393.7 L997.8 1384.8 L1000.7 1402.9 L1003.7 1415.3 L1006.7 1413.5 L1009.7 1410 L1012.6 1418.4 L1015.6 1423.7 L1018.6 1422.2 L1021.5 1426.8 L1024.5 1444.2 L1027.5 1434.7 L1030.5 1440 L1033.4 1434.2 L1036.4 1437.2 L1039.4 1436.1 L1042.4 1434.4 L1045.3 1442.4 L1048.3 1439.9 L1051.3 1435.2 L1054.2 1436.1 L1056.5 1437.4 L1060.2 1437.1 L1063.2 1444.3 L1066.1 1444.5 L1069.1 1443.3 L1072.1 1439.7 L1075 1447 L1078 1445.9 L1081 1444.7 L1084 1447 L1086.9 1445.6 L1089.9 1443.5 L1092.9 1447 L1095.8 1446.9" stroke="#2E9547" stroke-width="1.4" fill="none" stroke-linejoin="round"/>
</g>
<rect x="872.7" y="1326.3" width="244.7" height="125.9" fill="none" stroke="#555" stroke-width="1.5"/>
<line x1="868.7" y1="1447" x2="872.7" y2="1447" stroke="#333" stroke-width="1"/>
<text x="865.5" y="1451.3" font-size="21" text-anchor="end" fill="#3a3a3a">0</text>
<line x1="868.7" y1="1408.5" x2="872.7" y2="1408.5" stroke="#333" stroke-width="1"/>
<text x="865.5" y="1412.8" font-size="21" text-anchor="end" fill="#3a3a3a">20</text>
<line x1="868.7" y1="1370" x2="872.7" y2="1370" stroke="#333" stroke-width="1"/>
<text x="865.5" y="1374.3" font-size="21" text-anchor="end" fill="#3a3a3a">40</text>
<line x1="868.7" y1="1331.6" x2="872.7" y2="1331.6" stroke="#333" stroke-width="1"/>
<text x="865.5" y="1335.9" font-size="21" text-anchor="end" fill="#3a3a3a">60</text>
<line x1="915.3" y1="1452.2" x2="915.3" y2="1456.2" stroke="#333" stroke-width="1"/>
<text x="924.3" y="1468.6" font-size="21" text-anchor="middle" fill="#3a3a3a">−200</text>
<line x1="989.6" y1="1452.2" x2="989.6" y2="1456.2" stroke="#333" stroke-width="1"/>
<text x="992" y="1468.6" font-size="21" text-anchor="middle" fill="#3a3a3a">0</text>
<line x1="1063.9" y1="1452.2" x2="1063.9" y2="1456.2" stroke="#333" stroke-width="1"/>
<text x="1069.9" y="1468.6" font-size="21" text-anchor="middle" fill="#3a3a3a">200</text>
<text x="872.9" y="1314.2" font-size="21" fill="#111">TBX3</text>
<text x="1004.6" y="1486.7" font-size="21" text-anchor="middle" fill="#111">Position</text>
<line x1="1173.5" y1="1433.2" x2="1418.5" y2="1433.2" stroke="#e6e6e6" stroke-width="0.8"/>
<line x1="1173.5" y1="1406.1" x2="1418.5" y2="1406.1" stroke="#e6e6e6" stroke-width="0.8"/>
<line x1="1173.5" y1="1379" x2="1418.5" y2="1379" stroke="#e6e6e6" stroke-width="0.8"/>
<line x1="1173.5" y1="1352" x2="1418.5" y2="1352" stroke="#e6e6e6" stroke-width="0.8"/>
<line x1="1191.6" y1="1325.8" x2="1191.6" y2="1452.3" stroke="#e6e6e6" stroke-width="0.8"/>
<line x1="1258.9" y1="1325.8" x2="1258.9" y2="1452.3" stroke="#e6e6e6" stroke-width="0.8"/>
<line x1="1326.2" y1="1325.8" x2="1326.2" y2="1452.3" stroke="#e6e6e6" stroke-width="0.8"/>
<line x1="1393.5" y1="1325.8" x2="1393.5" y2="1452.3" stroke="#e6e6e6" stroke-width="0.8"/>
<line x1="1173.5" y1="1446.8" x2="1418.5" y2="1446.8" stroke="#e6e6e6" stroke-width="1.3"/>
<line x1="1173.5" y1="1419.7" x2="1418.5" y2="1419.7" stroke="#e6e6e6" stroke-width="1.3"/>
<line x1="1173.5" y1="1392.6" x2="1418.5" y2="1392.6" stroke="#e6e6e6" stroke-width="1.3"/>
<line x1="1173.5" y1="1365.5" x2="1418.5" y2="1365.5" stroke="#e6e6e6" stroke-width="1.3"/>
<line x1="1173.5" y1="1338.4" x2="1418.5" y2="1338.4" stroke="#e6e6e6" stroke-width="1.3"/>
<line x1="1225.3" y1="1325.8" x2="1225.3" y2="1452.3" stroke="#e6e6e6" stroke-width="1.3"/>
<line x1="1292.6" y1="1325.8" x2="1292.6" y2="1452.3" stroke="#e6e6e6" stroke-width="1.3"/>
<line x1="1359.9" y1="1325.8" x2="1359.9" y2="1452.3" stroke="#e6e6e6" stroke-width="1.3"/>
<clipPath id="fc1"><rect x="1173.5" y="1325.8" width="245" height="126.5"/></clipPath>
<g clip-path="url(#fc1)">
<path d="M1182.2 1446.8 L1185.5 1446.6 L1188.7 1446.8 L1191.9 1446.7 L1195.1 1446.8 L1198.4 1446.7 L1201.6 1446.8 L1204.8 1446.5 L1208.1 1446.6 L1211.3 1446.8 L1214.5 1446.8 L1217.8 1446.7 L1221 1446.8 L1224.2 1446.8 L1227.5 1446.7 L1230.7 1446.8 L1233.9 1446.8 L1237.1 1446.3 L1240.4 1446.6 L1243.6 1446.8 L1246.8 1446.4 L1250.1 1446.6 L1253.3 1446.7 L1256.5 1446.6 L1259.8 1446.3 L1263 1446 L1266.2 1446.2 L1269.4 1445.4 L1272.7 1446.1 L1275.9 1445.4 L1279.1 1446.3 L1282.4 1446.5 L1285.6 1445.6 L1288.8 1445.3 L1292.1 1444.5 L1295.3 1445.6 L1298.5 1445.4 L1301.8 1446.1 L1305 1445.6 L1308.2 1445.5 L1311.4 1446 L1314.7 1445.6 L1317.9 1445.6 L1321.1 1446 L1324.4 1446.3 L1327.6 1446.5 L1330.8 1446.4 L1334.1 1446.8 L1337.3 1446.4 L1340.5 1446.8 L1343.7 1446.7 L1347 1446.8 L1350.2 1446.8 L1353.4 1446.8 L1356.7 1446.7 L1359.9 1446.8 L1363.1 1446.8 L1366.4 1446.6 L1369.6 1446.8 L1372.8 1446.6 L1376.1 1446.8 L1379.3 1446.8 L1382.5 1446.8 L1385.7 1446.6 L1389 1446.5 L1392.2 1446.8 L1395.4 1446.8 L1398.7 1446.8 L1401.9 1446.8 L1405.1 1446.7 L1408.4 1446.7" stroke="#4DC0CA" stroke-width="1.4" fill="none" stroke-linejoin="round"/>
<path d="M1182.2 1446.8 L1185.5 1446.8 L1188.7 1446.6 L1191.9 1446.8 L1195.1 1446.8 L1198.4 1446.8 L1201.6 1446.8 L1204.8 1446.8 L1208.1 1446.6 L1211.3 1446.8 L1214.5 1446.8 L1217.8 1446.8 L1221 1446.8 L1224.2 1446.8 L1227.5 1446.5 L1230.7 1446.8 L1233.9 1446.8 L1237.1 1446.3 L1240.4 1446.3 L1243.6 1446.5 L1246.8 1446.5 L1250.1 1446.6 L1253.3 1446.5 L1256.5 1446.6 L1259.8 1445.9 L1263 1446 L1266.2 1446.6 L1269.4 1445.8 L1272.7 1445.7 L1275.9 1445.5 L1279.1 1443.9 L1282.4 1444.2 L1285.6 1446.5 L1288.8 1444.4 L1292.1 1444 L1295.3 1443.9 L1298.5 1444.2 L1301.8 1445.9 L1305 1444.4 L1308.2 1445.1 L1311.4 1444.5 L1314.7 1445.3 L1317.9 1446.4 L1321.1 1445.1 L1324.4 1446.5 L1327.6 1445.8 L1330.8 1446.2 L1334.1 1446.6 L1337.3 1446.8 L1340.5 1446.8 L1343.7 1446.8 L1347 1446.7 L1350.2 1446.8 L1353.4 1446.4 L1356.7 1446.7 L1359.9 1446.5 L1363.1 1446.8 L1366.4 1446.8 L1369.6 1446.6 L1372.8 1446.6 L1376.1 1446.7 L1379.3 1446.8 L1382.5 1446.8 L1385.7 1446.4 L1389 1446.8 L1392.2 1446.8 L1395.4 1446.5 L1398.7 1446.8 L1401.9 1446.8 L1405.1 1446.6 L1408.4 1446.8" stroke="#F4B3C2" stroke-width="1.4" fill="none" stroke-linejoin="round"/>
<path d="M1182.2 1446.7 L1185.5 1446.5 L1188.7 1446.8 L1191.9 1446.7 L1195.1 1446.8 L1198.4 1446.8 L1201.6 1446.8 L1204.8 1446.8 L1208.1 1446.8 L1211.3 1446.6 L1214.5 1446.8 L1217.8 1446.8 L1221 1446.8 L1224.2 1446.8 L1227.5 1446.4 L1230.7 1446.8 L1233.9 1446.7 L1237.1 1446.5 L1240.4 1446.6 L1243.6 1446.8 L1246.8 1446.3 L1250.1 1445.9 L1253.3 1445.8 L1256.5 1446.6 L1259.8 1445.9 L1263 1445.4 L1266.2 1444.4 L1269.4 1445.4 L1272.7 1445.1 L1275.9 1444.2 L1279.1 1445.6 L1282.4 1445 L1285.6 1445.7 L1288.8 1444.8 L1292.1 1445 L1295.3 1444.9 L1298.5 1444.2 L1301.8 1444.4 L1305 1444.6 L1308.2 1445.2 L1311.4 1445.5 L1314.7 1446 L1317.9 1445.4 L1321.1 1445.5 L1324.4 1446 L1327.6 1446.4 L1330.8 1446.5 L1334.1 1446.1 L1337.3 1446.1 L1340.5 1446.3 L1343.7 1446.8 L1347 1446.8 L1350.2 1446.8 L1353.4 1446.4 L1356.7 1446.6 L1359.9 1446.8 L1363.1 1446.7 L1366.4 1446.7 L1369.6 1446.7 L1372.8 1446.7 L1376.1 1446.8 L1379.3 1446.8 L1382.5 1446.7 L1385.7 1446.4 L1389 1446.8 L1392.2 1446.8 L1395.4 1446.7 L1398.7 1446.8 L1401.9 1446.8 L1405.1 1446.8 L1408.4 1446.6" stroke="#5A3F98" stroke-width="1.4" fill="none" stroke-linejoin="round"/>
<path d="M1182.2 1446.8 L1185.5 1446.8 L1188.7 1446.8 L1191.9 1446.8 L1195.1 1446.8 L1198.4 1446.2 L1201.6 1446.8 L1204.8 1446.6 L1208.1 1446.8 L1211.3 1446.5 L1214.5 1446.8 L1217.8 1446.5 L1221 1446.5 L1224.2 1446.4 L1227.5 1446.7 L1230.7 1446 L1233.9 1446.3 L1237.1 1446 L1240.4 1445.9 L1243.6 1445.2 L1246.8 1446.3 L1250.1 1444.7 L1253.3 1444.8 L1256.5 1445.4 L1259.8 1443.3 L1263 1443.3 L1266.2 1443.7 L1269.4 1444.3 L1272.7 1443.6 L1275.9 1443.6 L1279.1 1441.5 L1282.4 1443.5 L1285.6 1442.2 L1288.8 1444.8 L1292.1 1442.8 L1295.3 1442.1 L1298.5 1443.5 L1301.8 1445.1 L1305 1444.3 L1308.2 1444 L1311.4 1444.9 L1314.7 1445.2 L1317.9 1445.2 L1321.1 1445.6 L1324.4 1446.3 L1327.6 1445.8 L1330.8 1445.8 L1334.1 1446 L1337.3 1446.8 L1340.5 1446.5 L1343.7 1446.1 L1347 1446.8 L1350.2 1446.5 L1353.4 1446.8 L1356.7 1446.5 L1359.9 1446.7 L1363.1 1446.4 L1366.4 1446.5 L1369.6 1446.8 L1372.8 1446.6 L1376.1 1446.8 L1379.3 1446.5 L1382.5 1446.8 L1385.7 1446.8 L1389 1446.8 L1392.2 1446.4 L1395.4 1446.6 L1398.7 1446.7 L1401.9 1446.8 L1405.1 1446.8 L1408.4 1446.7" stroke="#F5B041" stroke-width="1.4" fill="none" stroke-linejoin="round"/>
<path d="M1182.2 1446.4 L1185.5 1446.8 L1188.7 1446.7 L1191.9 1446.8 L1195.1 1446.8 L1198.4 1446.4 L1201.6 1446.3 L1204.8 1446.8 L1208.1 1446.8 L1211.3 1446.8 L1214.5 1446.8 L1217.8 1446.3 L1221 1446.6 L1224.2 1446.6 L1227.5 1446.4 L1230.7 1446.8 L1233.9 1446.6 L1237.1 1446.3 L1240.4 1446.2 L1243.6 1446.6 L1246.8 1446.8 L1250.1 1445.9 L1253.3 1445.8 L1256.5 1446.3 L1259.8 1444.9 L1263 1444.8 L1266.2 1444.7 L1269.4 1444.6 L1272.7 1443.9 L1275.9 1442.9 L1279.1 1444 L1282.4 1442.3 L1285.6 1443.1 L1288.8 1442.8 L1292.1 1441.8 L1295.3 1442.8 L1298.5 1442.7 L1301.8 1443.6 L1305 1443.3 L1308.2 1443.4 L1311.4 1444.2 L1314.7 1444.6 L1317.9 1443.6 L1321.1 1443.8 L1324.4 1445.6 L1327.6 1445.6 L1330.8 1445 L1334.1 1445.1 L1337.3 1446.4 L1340.5 1446.3 L1343.7 1445.8 L1347 1445.7 L1350.2 1446.2 L1353.4 1446.8 L1356.7 1446.2 L1359.9 1446.7 L1363.1 1446.8 L1366.4 1446.6 L1369.6 1446.8 L1372.8 1446.8 L1376.1 1446.8 L1379.3 1446.4 L1382.5 1446.7 L1385.7 1446.8 L1389 1446.8 L1392.2 1446.8 L1395.4 1446.8 L1398.7 1446.8 L1401.9 1446.8 L1405.1 1446.8 L1408.4 1446.8" stroke="#E2454B" stroke-width="1.4" fill="none" stroke-linejoin="round"/>
<path d="M1182.2 1446.6 L1185.5 1446.4 L1188.7 1446.8 L1191.9 1446.8 L1195.1 1446.7 L1198.4 1446.3 L1201.6 1446.7 L1204.8 1446.8 L1208.1 1446.8 L1211.3 1446.8 L1214.5 1446.5 L1217.8 1446.8 L1221 1446.8 L1224.2 1446.8 L1227.5 1446.7 L1230.7 1446.8 L1233.9 1446.7 L1237.1 1446.6 L1240.4 1446.1 L1243.6 1446.6 L1246.8 1446.2 L1250.1 1446.8 L1253.3 1445.9 L1256.5 1445.9 L1259.8 1446 L1263 1445.5 L1266.2 1444.6 L1269.4 1445 L1272.7 1443.5 L1275.9 1442.7 L1279.1 1442.2 L1282.4 1441.7 L1285.6 1443.7 L1288.8 1442.1 L1292.1 1442.6 L1295.3 1441.2 L1298.5 1441.8 L1301.8 1441.8 L1305 1441.8 L1308.2 1442.9 L1311.4 1442.7 L1314.7 1443.7 L1317.9 1441.9 L1321.1 1444.4 L1324.4 1444.5 L1327.6 1446.1 L1330.8 1446.1 L1334.1 1446 L1337.3 1445.5 L1340.5 1445.8 L1343.7 1446.2 L1347 1446.6 L1350.2 1445.9 L1353.4 1446.8 L1356.7 1446.8 L1359.9 1446.6 L1363.1 1446.8 L1366.4 1446.7 L1369.6 1446.5 L1372.8 1446.8 L1376.1 1446.7 L1379.3 1446.8 L1382.5 1446.8 L1385.7 1446.8 L1389 1446.8 L1392.2 1446.8 L1395.4 1446.8 L1398.7 1446.8 L1401.9 1446.7 L1405.1 1446.4 L1408.4 1446.8" stroke="#EC6A2E" stroke-width="1.4" fill="none" stroke-linejoin="round"/>
<path d="M1182.2 1446.6 L1238.8 1445.5 L1265.7 1440.2 L1276.4 1437.1 L1283.2 1434.5 L1289.9 1438.5 L1295.3 1442.9 L1300.7 1436.2 L1306.1 1435.8 L1314.1 1441.5 L1324.9 1443.8 L1346.4 1446.1 L1408.4 1446.8" stroke="#3F72B5" stroke-width="1.4" fill="none" stroke-linejoin="round"/>
<path d="M1182.2 1446.3 L1211.8 1446.5 L1238.8 1444 L1252.2 1442 L1260.3 1442.9 L1268.4 1440.1 L1273.8 1437.4 L1279.1 1436 L1283.2 1434.5 L1287.2 1332.8 L1290.4 1334.3 L1293.9 1343.6 L1296.6 1433.2 L1300.7 1434.6 L1304.7 1433.8 L1308.8 1436.2 L1314.1 1440.4 L1319.5 1440.9 L1324.9 1443.6 L1333 1444 L1346.4 1445.4 L1359.9 1446.5 L1408.4 1446.7" stroke="#2E9547" stroke-width="1.4" fill="none" stroke-linejoin="round"/>
</g>
<rect x="1173.5" y="1325.8" width="245" height="126.5" fill="none" stroke="#555" stroke-width="1.5"/>
<line x1="1169.5" y1="1446.8" x2="1173.5" y2="1446.8" stroke="#333" stroke-width="1"/>
<text x="1166.3" y="1451.1" font-size="21" text-anchor="end" fill="#3a3a3a">0</text>
<line x1="1169.5" y1="1419.7" x2="1173.5" y2="1419.7" stroke="#333" stroke-width="1"/>
<text x="1166.3" y="1424" font-size="21" text-anchor="end" fill="#3a3a3a">100</text>
<line x1="1169.5" y1="1392.6" x2="1173.5" y2="1392.6" stroke="#333" stroke-width="1"/>
<text x="1166.3" y="1396.9" font-size="21" text-anchor="end" fill="#3a3a3a">200</text>
<line x1="1169.5" y1="1365.5" x2="1173.5" y2="1365.5" stroke="#333" stroke-width="1"/>
<text x="1166.3" y="1369.8" font-size="21" text-anchor="end" fill="#3a3a3a">300</text>
<line x1="1169.5" y1="1338.4" x2="1173.5" y2="1338.4" stroke="#333" stroke-width="1"/>
<text x="1166.3" y="1342.7" font-size="21" text-anchor="end" fill="#3a3a3a">400</text>
<line x1="1225.3" y1="1452.3" x2="1225.3" y2="1456.3" stroke="#333" stroke-width="1"/>
<text x="1234.3" y="1468.7" font-size="21" text-anchor="middle" fill="#3a3a3a">−250</text>
<line x1="1292.6" y1="1452.3" x2="1292.6" y2="1456.3" stroke="#333" stroke-width="1"/>
<text x="1295" y="1468.7" font-size="21" text-anchor="middle" fill="#3a3a3a">0</text>
<line x1="1359.9" y1="1452.3" x2="1359.9" y2="1456.3" stroke="#333" stroke-width="1"/>
<text x="1365.9" y="1468.7" font-size="21" text-anchor="middle" fill="#3a3a3a">250</text>
<text x="1173.7" y="1314.4" font-size="21" fill="#111">TCF7L1</text>
<text x="1305.5" y="1486.8" font-size="21" text-anchor="middle" fill="#111">Position</text>
<line x1="1467.3" y1="1425.5" x2="1711.6" y2="1425.5" stroke="#e6e6e6" stroke-width="0.8"/>
<line x1="1467.3" y1="1382.8" x2="1711.6" y2="1382.8" stroke="#e6e6e6" stroke-width="0.8"/>
<line x1="1467.3" y1="1340.2" x2="1711.6" y2="1340.2" stroke="#e6e6e6" stroke-width="0.8"/>
<line x1="1497.1" y1="1325.8" x2="1497.1" y2="1452.3" stroke="#e6e6e6" stroke-width="0.8"/>
<line x1="1553" y1="1325.8" x2="1553" y2="1452.3" stroke="#e6e6e6" stroke-width="0.8"/>
<line x1="1608.9" y1="1325.8" x2="1608.9" y2="1452.3" stroke="#e6e6e6" stroke-width="0.8"/>
<line x1="1664.8" y1="1325.8" x2="1664.8" y2="1452.3" stroke="#e6e6e6" stroke-width="0.8"/>
<line x1="1467.3" y1="1446.8" x2="1711.6" y2="1446.8" stroke="#e6e6e6" stroke-width="1.3"/>
<line x1="1467.3" y1="1404.1" x2="1711.6" y2="1404.1" stroke="#e6e6e6" stroke-width="1.3"/>
<line x1="1467.3" y1="1361.5" x2="1711.6" y2="1361.5" stroke="#e6e6e6" stroke-width="1.3"/>
<line x1="1469.1" y1="1325.8" x2="1469.1" y2="1452.3" stroke="#e6e6e6" stroke-width="1.3"/>
<line x1="1525" y1="1325.8" x2="1525" y2="1452.3" stroke="#e6e6e6" stroke-width="1.3"/>
<line x1="1580.9" y1="1325.8" x2="1580.9" y2="1452.3" stroke="#e6e6e6" stroke-width="1.3"/>
<line x1="1636.8" y1="1325.8" x2="1636.8" y2="1452.3" stroke="#e6e6e6" stroke-width="1.3"/>
<line x1="1692.7" y1="1325.8" x2="1692.7" y2="1452.3" stroke="#e6e6e6" stroke-width="1.3"/>
<clipPath id="fc2"><rect x="1467.3" y="1325.8" width="244.3" height="126.5"/></clipPath>
<g clip-path="url(#fc2)">
<path d="M1469.1 1446.8 L1473.6 1446.8 L1478 1446.1 L1482.5 1445.3 L1487 1446.6 L1491.5 1446.2 L1495.9 1446.1 L1500.4 1446.4 L1504.9 1446.3 L1509.3 1446.1 L1513.8 1446.8 L1518.3 1446.8 L1522.8 1446.8 L1527.2 1446 L1531.7 1445.9 L1536.2 1445.9 L1540.7 1446.8 L1545.1 1445.5 L1549.6 1444.9 L1554.1 1445.4 L1558.5 1444.8 L1563 1440.8 L1567.5 1441.3 L1572 1441.7 L1576.4 1442.2 L1580.9 1443.2 L1585.4 1443.1 L1589.8 1441.8 L1594.3 1444.3 L1598.8 1443.8 L1603.3 1442 L1607.7 1445.8 L1612.2 1445.6 L1616.7 1443.7 L1621.1 1445.3 L1625.6 1445.8 L1630.1 1446.7 L1634.6 1446.8 L1639 1445.8 L1643.5 1446.8 L1648 1446.4 L1652.5 1446.8 L1656.9 1446.8 L1661.4 1446.8 L1665.9 1446.3 L1670.3 1446.5 L1674.8 1446.7 L1679.3 1446.6 L1683.8 1446.8 L1688.2 1446.7 L1692.7 1446.6" stroke="#4DC0CA" stroke-width="1.4" fill="none" stroke-linejoin="round"/>
<path d="M1469.1 1446.8 L1473.6 1445.8 L1478 1446.6 L1482.5 1446.8 L1487 1446.2 L1491.5 1446.8 L1495.9 1445.3 L1500.4 1446.4 L1504.9 1446.7 L1509.3 1446.1 L1513.8 1446.8 L1518.3 1446.1 L1522.8 1445.6 L1527.2 1445.3 L1531.7 1445.3 L1536.2 1446.3 L1540.7 1444.5 L1545.1 1445.8 L1549.6 1443.3 L1554.1 1443.7 L1558.5 1443.3 L1563 1440 L1567.5 1437.2 L1572 1437.6 L1576.4 1440.6 L1580.9 1440.6 L1585.4 1441.6 L1589.8 1441.3 L1594.3 1440.5 L1598.8 1440.6 L1603.3 1442.8 L1607.7 1442.8 L1612.2 1445.1 L1616.7 1444.8 L1621.1 1443.5 L1625.6 1444.1 L1630.1 1445.3 L1634.6 1446 L1639 1446.1 L1643.5 1446.8 L1648 1446.8 L1652.5 1446.3 L1656.9 1446.8 L1661.4 1446.5 L1665.9 1446.8 L1670.3 1446.8 L1674.8 1445.8 L1679.3 1446.4 L1683.8 1446.8 L1688.2 1446.6 L1692.7 1446.8" stroke="#F4B3C2" stroke-width="1.4" fill="none" stroke-linejoin="round"/>
<path d="M1469.1 1446.8 L1473.6 1446.8 L1478 1446.5 L1482.5 1445.8 L1487 1445.6 L1491.5 1446.3 L1495.9 1446.8 L1500.4 1446.8 L1504.9 1446.8 L1509.3 1446.8 L1513.8 1446.8 L1518.3 1446.8 L1522.8 1445.2 L1527.2 1445.8 L1531.7 1444.1 L1536.2 1446.2 L1540.7 1443.1 L1545.1 1442.4 L1549.6 1439.8 L1554.1 1440.3 L1558.5 1436.5 L1563 1435.2 L1567.5 1433.6 L1572 1440.4 L1576.4 1438.4 L1580.9 1433 L1585.4 1431.3 L1589.8 1436.8 L1594.3 1439.8 L1598.8 1437.8 L1603.3 1441.3 L1607.7 1442.6 L1612.2 1442.1 L1616.7 1444.7 L1621.1 1446.8 L1625.6 1446.6 L1630.1 1445.7 L1634.6 1446.8 L1639 1446.3 L1643.5 1446.8 L1648 1446.3 L1652.5 1446.8 L1656.9 1446.1 L1661.4 1446.8 L1665.9 1446.8 L1670.3 1446.4 L1674.8 1446.5 L1679.3 1446.7 L1683.8 1446.8 L1688.2 1446.8 L1692.7 1446.1" stroke="#5A3F98" stroke-width="1.4" fill="none" stroke-linejoin="round"/>
<path d="M1469.1 1446.8 L1473.6 1446.8 L1478 1446.2 L1482.5 1446.8 L1487 1445.2 L1491.5 1446.1 L1495.9 1446.8 L1500.4 1445.9 L1504.9 1446.4 L1509.3 1446.8 L1513.8 1445.3 L1518.3 1446.6 L1522.8 1443.1 L1527.2 1443.7 L1531.7 1444.7 L1536.2 1443.5 L1540.7 1440.2 L1545.1 1443.9 L1549.6 1439.4 L1554.1 1441.4 L1558.5 1435.7 L1563 1434.7 L1567.5 1429.9 L1572 1433.3 L1576.4 1432.4 L1580.9 1428.9 L1585.4 1434.9 L1589.8 1430.6 L1594.3 1435.9 L1598.8 1439.5 L1603.3 1435.9 L1607.7 1438.1 L1612.2 1442.2 L1616.7 1439.4 L1621.1 1440.9 L1625.6 1445.4 L1630.1 1445.8 L1634.6 1445.8 L1639 1446.2 L1643.5 1446.8 L1648 1445.9 L1652.5 1446.6 L1656.9 1446.5 L1661.4 1446.8 L1665.9 1446.6 L1670.3 1446.8 L1674.8 1446.8 L1679.3 1446.8 L1683.8 1446.8 L1688.2 1445.9 L1692.7 1446.5" stroke="#E2454B" stroke-width="1.4" fill="none" stroke-linejoin="round"/>
<path d="M1469.1 1446.4 L1473.6 1446.5 L1478 1446.8 L1482.5 1446.8 L1487 1446.1 L1491.5 1446 L1495.9 1446.8 L1500.4 1446.3 L1504.9 1446.8 L1509.3 1444.9 L1513.8 1445.4 L1518.3 1444.8 L1522.8 1443.7 L1527.2 1443.6 L1531.7 1438.3 L1536.2 1437.8 L1540.7 1442.5 L1545.1 1430.6 L1549.6 1431.9 L1554.1 1429.6 L1558.5 1435.7 L1563 1430.3 L1567.5 1430 L1572 1429.9 L1576.4 1427.7 L1580.9 1424.7 L1585.4 1429.2 L1589.8 1430.6 L1594.3 1432.2 L1598.8 1438.3 L1603.3 1436.9 L1607.7 1435.5 L1612.2 1438.8 L1616.7 1442.8 L1621.1 1442 L1625.6 1443.2 L1630.1 1444.4 L1634.6 1444.7 L1639 1444.3 L1643.5 1446 L1648 1446.2 L1652.5 1446.8 L1656.9 1446.8 L1661.4 1446.3 L1665.9 1445 L1670.3 1446.8 L1674.8 1446.8 L1679.3 1446.8 L1683.8 1446.1 L1688.2 1445.4 L1692.7 1446.3" stroke="#EC6A2E" stroke-width="1.4" fill="none" stroke-linejoin="round"/>
<path d="M1469.1 1446.8 L1473.6 1446.8 L1478 1446.4 L1482.5 1446.8 L1487 1446.8 L1491.5 1446.8 L1495.9 1446.8 L1500.4 1445.3 L1504.9 1445.7 L1509.3 1445.6 L1513.8 1445.8 L1518.3 1444.5 L1522.8 1443.7 L1527.2 1444 L1531.7 1444.3 L1536.2 1442.8 L1540.7 1440.1 L1545.1 1440.5 L1549.6 1434.3 L1554.1 1430.9 L1558.5 1434.8 L1563 1426.5 L1567.5 1428.9 L1572 1426.8 L1576.4 1426.5 L1580.9 1427.5 L1585.4 1428.2 L1589.8 1427.8 L1594.3 1433.3 L1598.8 1429.2 L1603.3 1438.1 L1607.7 1436.6 L1612.2 1438.1 L1616.7 1443.3 L1621.1 1443.1 L1625.6 1444.5 L1630.1 1446.1 L1634.6 1446.6 L1639 1443.5 L1643.5 1444.6 L1648 1446.7 L1652.5 1446.1 L1656.9 1446.1 L1661.4 1446 L1665.9 1445.9 L1670.3 1446.4 L1674.8 1446.8 L1679.3 1446.1 L1683.8 1446.8 L1688.2 1446.4 L1692.7 1446.8" stroke="#F5B041" stroke-width="1.4" fill="none" stroke-linejoin="round"/>
<path d="M1469.1 1446.8 L1497.1 1446 L1511 1443.5 L1519.4 1439.8 L1525 1440.7 L1536.2 1431.1 L1541.8 1432 L1553 1422.5 L1561.3 1412.1 L1566.9 1399.9 L1572.5 1398.3 L1580.9 1371.8 L1586.5 1395.6 L1592.1 1412.5 L1597.7 1416.4 L1603.3 1422.1 L1611.6 1426.4 L1617.2 1438.9 L1625.6 1435.8 L1636.8 1442.7 L1648 1445.3 L1664.8 1442.6 L1692.7 1445.9" stroke="#3F72B5" stroke-width="1.4" fill="none" stroke-linejoin="round"/>
<path d="M1469.1 1446.5 L1483.1 1445.9 L1497.1 1445.9 L1508.2 1439.3 L1519.4 1438.1 L1530.6 1436.3 L1536.2 1425.3 L1541.8 1421.8 L1547.4 1423.9 L1553 1418.6 L1558.5 1404.3 L1564.1 1387.4 L1569.7 1379.3 L1573.9 1344.6 L1578.1 1337.9 L1582.3 1356 L1586.5 1342.6 L1592.1 1365.7 L1597.7 1382.2 L1603.3 1394.2 L1608.9 1414.2 L1614.4 1410.4 L1620 1422.3 L1625.6 1430.2 L1631.2 1433.9 L1636.8 1436.1 L1642.4 1435.6 L1648 1443.8 L1659.2 1443 L1670.3 1445.5 L1692.7 1446.2" stroke="#2E9547" stroke-width="1.4" fill="none" stroke-linejoin="round"/>
</g>
<rect x="1467.3" y="1325.8" width="244.3" height="126.5" fill="none" stroke="#555" stroke-width="1.5"/>
<line x1="1463.3" y1="1446.8" x2="1467.3" y2="1446.8" stroke="#333" stroke-width="1"/>
<text x="1460.1" y="1451.1" font-size="21" text-anchor="end" fill="#3a3a3a">0</text>
<line x1="1463.3" y1="1404.1" x2="1467.3" y2="1404.1" stroke="#333" stroke-width="1"/>
<text x="1460.1" y="1408.4" font-size="21" text-anchor="end" fill="#3a3a3a">50</text>
<line x1="1463.3" y1="1361.5" x2="1467.3" y2="1361.5" stroke="#333" stroke-width="1"/>
<text x="1460.1" y="1365.8" font-size="21" text-anchor="end" fill="#3a3a3a">100</text>
<line x1="1469.1" y1="1452.3" x2="1469.1" y2="1456.3" stroke="#333" stroke-width="1"/>
<text x="1465.6" y="1468.7" font-size="21" text-anchor="middle" fill="#3a3a3a">−400</text>
<line x1="1525" y1="1452.3" x2="1525" y2="1456.3" stroke="#333" stroke-width="1"/>
<text x="1534" y="1468.7" font-size="21" text-anchor="middle" fill="#3a3a3a">−200</text>
<line x1="1580.9" y1="1452.3" x2="1580.9" y2="1456.3" stroke="#333" stroke-width="1"/>
<text x="1583.3" y="1468.7" font-size="21" text-anchor="middle" fill="#3a3a3a">0</text>
<line x1="1636.8" y1="1452.3" x2="1636.8" y2="1456.3" stroke="#333" stroke-width="1"/>
<text x="1642.8" y="1468.7" font-size="21" text-anchor="middle" fill="#3a3a3a">200</text>
<line x1="1692.7" y1="1452.3" x2="1692.7" y2="1456.3" stroke="#333" stroke-width="1"/>
<text x="1698.7" y="1468.7" font-size="21" text-anchor="middle" fill="#3a3a3a">400</text>
<text x="1467.5" y="1314.1" font-size="21" fill="#111">FO<tspan dx="-5.5">XA1</tspan></text>
<text x="1598.9" y="1486.8" font-size="21" text-anchor="middle" fill="#111">Position</text>
<line x1="1760.4" y1="1431.4" x2="2005.3" y2="1431.4" stroke="#e6e6e6" stroke-width="0.8"/>
<line x1="1760.4" y1="1400.9" x2="2005.3" y2="1400.9" stroke="#e6e6e6" stroke-width="0.8"/>
<line x1="1760.4" y1="1370.4" x2="2005.3" y2="1370.4" stroke="#e6e6e6" stroke-width="0.8"/>
<line x1="1760.4" y1="1339.9" x2="2005.3" y2="1339.9" stroke="#e6e6e6" stroke-width="0.8"/>
<line x1="1780.7" y1="1326" x2="1780.7" y2="1452.1" stroke="#e6e6e6" stroke-width="0.8"/>
<line x1="1849.1" y1="1326" x2="1849.1" y2="1452.1" stroke="#e6e6e6" stroke-width="0.8"/>
<line x1="1917.5" y1="1326" x2="1917.5" y2="1452.1" stroke="#e6e6e6" stroke-width="0.8"/>
<line x1="1985.9" y1="1326" x2="1985.9" y2="1452.1" stroke="#e6e6e6" stroke-width="0.8"/>
<line x1="1760.4" y1="1446.7" x2="2005.3" y2="1446.7" stroke="#e6e6e6" stroke-width="1.3"/>
<line x1="1760.4" y1="1416.2" x2="2005.3" y2="1416.2" stroke="#e6e6e6" stroke-width="1.3"/>
<line x1="1760.4" y1="1385.7" x2="2005.3" y2="1385.7" stroke="#e6e6e6" stroke-width="1.3"/>
<line x1="1760.4" y1="1355.2" x2="2005.3" y2="1355.2" stroke="#e6e6e6" stroke-width="1.3"/>
<line x1="1814.9" y1="1326" x2="1814.9" y2="1452.1" stroke="#e6e6e6" stroke-width="1.3"/>
<line x1="1883.3" y1="1326" x2="1883.3" y2="1452.1" stroke="#e6e6e6" stroke-width="1.3"/>
<line x1="1951.7" y1="1326" x2="1951.7" y2="1452.1" stroke="#e6e6e6" stroke-width="1.3"/>
<clipPath id="fc3"><rect x="1760.4" y="1326" width="244.9" height="126.1"/></clipPath>
<g clip-path="url(#fc3)">
<path d="M1762.9 1446.3 L1766.5 1446.5 L1770 1446.7 L1773.6 1445.3 L1777.1 1446.7 L1780.7 1446.7 L1784.3 1446 L1787.8 1446.2 L1791.4 1446.2 L1794.9 1446.7 L1798.5 1445.3 L1802 1446.7 L1805.6 1446.7 L1809.2 1446.6 L1812.7 1446.6 L1816.3 1446.7 L1819.8 1445.3 L1823.4 1446.4 L1826.9 1445.6 L1830.5 1446.7 L1834.1 1445.6 L1837.6 1446.1 L1841.2 1445.4 L1844.7 1445.3 L1848.3 1444.7 L1851.8 1445 L1855.4 1444.4 L1858.9 1444 L1862.5 1443.5 L1866.1 1443.4 L1869.6 1443.7 L1873.2 1442.2 L1876.7 1444.1 L1880.3 1439.3 L1883.8 1441.2 L1887.4 1440.2 L1891 1443 L1894.5 1445 L1898.1 1445.5 L1901.6 1444.7 L1905.2 1444.8 L1908.7 1444.8 L1912.3 1445.1 L1915.9 1444.3 L1919.4 1446.7 L1923 1443.9 L1926.5 1446.1 L1930.1 1445.9 L1933.6 1446.7 L1937.2 1446.1 L1940.8 1446.7 L1944.3 1446.1 L1947.9 1446.3 L1951.4 1446.5 L1955 1446.7 L1958.5 1446.7 L1962.1 1446.7 L1965.7 1446 L1969.2 1446.6 L1972.8 1446.5 L1976.3 1444.9 L1979.9 1446.6 L1983.4 1446.7 L1987 1446.7 L1990.6 1446.7 L1994.1 1446.6 L1997.7 1446.1 L2001.2 1446.7" stroke="#4DC0CA" stroke-width="1.4" fill="none" stroke-linejoin="round"/>
<path d="M1762.9 1446.7 L1766.5 1446.7 L1770 1446.4 L1773.6 1446.7 L1777.1 1446.7 L1780.7 1446.7 L1784.3 1446.2 L1787.8 1446.7 L1791.4 1446.7 L1794.9 1446.7 L1798.5 1446.7 L1802 1446.7 L1805.6 1446.7 L1809.2 1446.7 L1812.7 1445.3 L1816.3 1446.7 L1819.8 1446.6 L1823.4 1445.4 L1826.9 1446.4 L1830.5 1445.8 L1834.1 1446.7 L1837.6 1446.3 L1841.2 1446.7 L1844.7 1442.7 L1848.3 1441.5 L1851.8 1443.6 L1855.4 1442.3 L1858.9 1442 L1862.5 1434.3 L1866.1 1437.2 L1869.6 1439.2 L1873.2 1436.6 L1876.7 1434.5 L1880.3 1440.2 L1883.8 1436 L1887.4 1436.1 L1891 1437.9 L1894.5 1436.4 L1898.1 1436 L1901.6 1439.6 L1905.2 1441.3 L1908.7 1439.4 L1912.3 1441.8 L1915.9 1442.1 L1919.4 1440.5 L1923 1443.6 L1926.5 1444.8 L1930.1 1446.7 L1933.6 1445.1 L1937.2 1445.4 L1940.8 1445.4 L1944.3 1445.7 L1947.9 1445.7 L1951.4 1446.2 L1955 1446.4 L1958.5 1446 L1962.1 1446.7 L1965.7 1446.7 L1969.2 1446.7 L1972.8 1446.5 L1976.3 1446.7 L1979.9 1446.7 L1983.4 1446.7 L1987 1446.4 L1990.6 1446.7 L1994.1 1446.6 L1997.7 1446.6 L2001.2 1446.7" stroke="#F4B3C2" stroke-width="1.4" fill="none" stroke-linejoin="round"/>
<path d="M1762.9 1446.7 L1766.5 1446.7 L1770 1445.4 L1773.6 1446.7 L1777.1 1445.9 L1780.7 1446.7 L1784.3 1445.6 L1787.8 1446.7 L1791.4 1446.7 L1794.9 1446.2 L1798.5 1446.7 L1802 1446.6 L1805.6 1446.7 L1809.2 1444.8 L1812.7 1445.9 L1816.3 1446.7 L1819.8 1445.3 L1823.4 1445.2 L1826.9 1445 L1830.5 1442.5 L1834.1 1442.3 L1837.6 1446 L1841.2 1439.9 L1844.7 1442.6 L1848.3 1441.7 L1851.8 1441 L1855.4 1439 L1858.9 1435.2 L1862.5 1440.1 L1866.1 1435.9 L1869.6 1436.9 L1873.2 1434.8 L1876.7 1434.9 L1880.3 1431.5 L1883.8 1430.9 L1887.4 1436.3 L1891 1433.1 L1894.5 1439.2 L1898.1 1434.7 L1901.6 1433.8 L1905.2 1437.7 L1908.7 1431 L1912.3 1437.8 L1915.9 1442.2 L1919.4 1440.4 L1923 1443.7 L1926.5 1442 L1930.1 1444 L1933.6 1444.3 L1937.2 1446.7 L1940.8 1446.5 L1944.3 1444.8 L1947.9 1445.1 L1951.4 1445.3 L1955 1446.1 L1958.5 1445.4 L1962.1 1445.6 L1965.7 1446.2 L1969.2 1445.5 L1972.8 1445.8 L1976.3 1446.7 L1979.9 1446.2 L1983.4 1445.8 L1987 1446.7 L1990.6 1446.7 L1994.1 1446.7 L1997.7 1446.6 L2001.2 1446.7" stroke="#F5B041" stroke-width="1.4" fill="none" stroke-linejoin="round"/>
<path d="M1762.9 1446.7 L1766.5 1446.7 L1770 1446.7 L1773.6 1446.7 L1777.1 1446.7 L1780.7 1443.5 L1784.3 1446.7 L1787.8 1446.7 L1791.4 1446.5 L1794.9 1446.7 L1798.5 1446.7 L1802 1445.3 L1805.6 1446.7 L1809.2 1446.7 L1812.7 1446.1 L1816.3 1446.7 L1819.8 1445.4 L1823.4 1445.4 L1826.9 1445.1 L1830.5 1446 L1834.1 1440.9 L1837.6 1442.5 L1841.2 1440.6 L1844.7 1440.7 L1848.3 1440.9 L1851.8 1437.5 L1855.4 1437.1 L1858.9 1435.3 L1862.5 1434.4 L1866.1 1435.1 L1869.6 1431.9 L1873.2 1430.3 L1876.7 1426.7 L1880.3 1432 L1883.8 1424.8 L1887.4 1437.2 L1891 1432 L1894.5 1428.4 L1898.1 1431 L1901.6 1427.6 L1905.2 1437.9 L1908.7 1436.4 L1912.3 1438.3 L1915.9 1433.6 L1919.4 1429.7 L1923 1440.4 L1926.5 1439.4 L1930.1 1442 L1933.6 1437.6 L1937.2 1439.5 L1940.8 1440.4 L1944.3 1444.6 L1947.9 1444.2 L1951.4 1445.4 L1955 1445.7 L1958.5 1445.7 L1962.1 1444.9 L1965.7 1446.7 L1969.2 1444 L1972.8 1446 L1976.3 1443.7 L1979.9 1444.7 L1983.4 1446.2 L1987 1446 L1990.6 1445.3 L1994.1 1446.7 L1997.7 1445.3 L2001.2 1446.6" stroke="#EC6A2E" stroke-width="1.4" fill="none" stroke-linejoin="round"/>
<path d="M1762.9 1446.7 L1766.5 1444 L1770 1444.4 L1773.6 1446.7 L1777.1 1446.2 L1780.7 1446.7 L1784.3 1445.2 L1787.8 1446.7 L1791.4 1446.7 L1794.9 1445 L1798.5 1446.7 L1802 1446.1 L1805.6 1446.7 L1809.2 1446.7 L1812.7 1445.1 L1816.3 1446.7 L1819.8 1446.7 L1823.4 1444.5 L1826.9 1445.2 L1830.5 1446.7 L1834.1 1444.5 L1837.6 1444.1 L1841.2 1444.6 L1844.7 1446.2 L1848.3 1442.7 L1851.8 1440.5 L1855.4 1444.3 L1858.9 1437.7 L1862.5 1439.5 L1866.1 1437.5 L1869.6 1445.3 L1873.2 1434.1 L1876.7 1435.2 L1880.8 1436.5 L1882.2 1400.9 L1883.3 1438.6 L1887.4 1437.4 L1891 1438.1 L1894.5 1436.4 L1898.1 1431.1 L1901.6 1444.5 L1905.2 1438.3 L1908.7 1443 L1912.3 1442.4 L1915.9 1441.2 L1919.4 1444.7 L1923 1445.5 L1926.5 1444.3 L1930.1 1445.4 L1933.6 1445.6 L1937.2 1445.1 L1940.8 1446 L1944.3 1446 L1947.9 1446.4 L1951.4 1445.5 L1955 1445.3 L1958.5 1446.7 L1962.1 1446.7 L1965.7 1446.7 L1969.2 1446 L1972.8 1445.5 L1976.3 1446.7 L1979.9 1446.7 L1983.4 1446.7 L1987 1446.7 L1990.6 1446.7 L1994.1 1446.7 L1997.7 1446.3 L2001.2 1446.2" stroke="#5A3F98" stroke-width="1.4" fill="none" stroke-linejoin="round"/>
<path d="M1762.9 1446.7 L1766.5 1446.7 L1770 1446.7 L1773.6 1446.7 L1777.1 1445.8 L1780.7 1446.7 L1784.3 1446.7 L1787.8 1446.7 L1791.4 1446.7 L1794.9 1446.7 L1798.5 1446.7 L1802 1446.7 L1805.6 1446.7 L1809.2 1445.3 L1812.7 1446.7 L1816.3 1446.7 L1819.8 1442.6 L1823.4 1446.7 L1826.9 1445.6 L1830.5 1446.2 L1834.1 1443.8 L1837.6 1443.7 L1841.2 1445.6 L1844.7 1439.4 L1848.3 1439.1 L1851.8 1442.4 L1855.4 1439.8 L1858.9 1438.5 L1862.5 1427 L1866.1 1428.2 L1869.6 1425.8 L1873.2 1420.4 L1876.7 1416.6 L1880.3 1420.8 L1883.8 1419.1 L1887.4 1421.2 L1891 1421.7 L1894.5 1422.6 L1898.1 1425.4 L1901.6 1424.3 L1905.2 1424.5 L1908.7 1436.3 L1912.3 1431.5 L1915.9 1437.8 L1919.4 1439.4 L1923 1444.6 L1926.5 1446.7 L1930.1 1443.5 L1933.6 1445.3 L1937.2 1446 L1940.8 1445.9 L1944.3 1446.7 L1947.9 1445.7 L1951.4 1444.4 L1955 1445 L1958.5 1446.1 L1962.1 1446.7 L1965.7 1446.7 L1969.2 1446.7 L1972.8 1446.7 L1976.3 1446.7 L1979.9 1446.7 L1983.4 1441.3 L1987 1445.7 L1990.6 1445.9 L1994.1 1446.4 L1997.7 1446.7 L2001.2 1446.7" stroke="#E2454B" stroke-width="1.4" fill="none" stroke-linejoin="round"/>
<path d="M1762.9 1446.7 L1766.5 1446.7 L1770 1446.7 L1773.6 1446.7 L1777.1 1446.7 L1780.7 1446.7 L1784.3 1446.7 L1787.8 1446.7 L1791.4 1446.7 L1794.9 1445.5 L1798.5 1446.7 L1802 1444 L1805.6 1446.7 L1809.2 1445 L1812.7 1446.4 L1816.3 1445.4 L1819.8 1445.9 L1823.4 1445 L1826.9 1440.4 L1830.5 1438.4 L1834.1 1436.6 L1837.6 1437.6 L1841.2 1441.5 L1844.7 1435.2 L1848.3 1426.1 L1851.8 1430.5 L1855.4 1422.2 L1858.9 1423.7 L1862.5 1422.2 L1866.1 1413.5 L1869.6 1417.2 L1873.2 1411.8 L1876.7 1416.1 L1880.3 1419.6 L1883.8 1414.6 L1887.4 1413.1 L1891 1419.8 L1894.5 1418.3 L1898.1 1422.2 L1901.6 1419.7 L1905.2 1427.3 L1908.7 1431 L1912.3 1433.2 L1915.9 1431.3 L1919.4 1435.9 L1923 1440.1 L1926.5 1439.3 L1930.1 1441.4 L1933.6 1440.5 L1937.2 1444.9 L1940.8 1440.7 L1944.3 1446 L1947.9 1445 L1951.4 1446 L1955 1446 L1958.5 1446.7 L1962.1 1444.9 L1965.7 1446.7 L1969.2 1446.7 L1972.8 1444 L1976.3 1445.6 L1979.9 1446.7 L1983.4 1445.7 L1987 1445.5 L1990.6 1446.7 L1994.1 1446.7 L1997.7 1446.7 L2001.2 1446.7" stroke="#3F72B5" stroke-width="1.4" fill="none" stroke-linejoin="round"/>
<path d="M1760.2 1446.5 L1787.5 1444.1 L1801.2 1445.5 L1812.2 1440 L1823.1 1443.4 L1828.6 1428.7 L1834.1 1429.4 L1839.5 1430.9 L1845 1425.9 L1850.5 1410.1 L1855.9 1401.3 L1861.4 1376.3 L1866.9 1365.3 L1871 1360.2 L1877.8 1389.3 L1883.3 1370.1 L1890.1 1332.8 L1897 1361.5 L1902.5 1378.1 L1907.9 1380.6 L1913.4 1406.2 L1918.9 1416.9 L1924.3 1426.4 L1929.8 1420.7 L1935.3 1425.4 L1943.5 1436.5 L1954.4 1439.2 L1959.9 1438.5 L1965.4 1445.3 L1979.1 1446.3 L2006.4 1446.7" stroke="#2E9547" stroke-width="1.4" fill="none" stroke-linejoin="round"/>
</g>
<rect x="1760.4" y="1326" width="244.9" height="126.1" fill="none" stroke="#555" stroke-width="1.5"/>
<line x1="1756.4" y1="1446.7" x2="1760.4" y2="1446.7" stroke="#333" stroke-width="1"/>
<text x="1753.2" y="1451" font-size="21" text-anchor="end" fill="#3a3a3a">0</text>
<line x1="1756.4" y1="1416.2" x2="1760.4" y2="1416.2" stroke="#333" stroke-width="1"/>
<text x="1753.2" y="1420.5" font-size="21" text-anchor="end" fill="#3a3a3a">30</text>
<line x1="1756.4" y1="1385.7" x2="1760.4" y2="1385.7" stroke="#333" stroke-width="1"/>
<text x="1753.2" y="1390" font-size="21" text-anchor="end" fill="#3a3a3a">60</text>
<line x1="1756.4" y1="1355.2" x2="1760.4" y2="1355.2" stroke="#333" stroke-width="1"/>
<text x="1753.2" y="1359.5" font-size="21" text-anchor="end" fill="#3a3a3a">90</text>
<line x1="1814.9" y1="1452.1" x2="1814.9" y2="1456.1" stroke="#333" stroke-width="1"/>
<text x="1823.9" y="1468.5" font-size="21" text-anchor="middle" fill="#3a3a3a">−250</text>
<line x1="1883.3" y1="1452.1" x2="1883.3" y2="1456.1" stroke="#333" stroke-width="1"/>
<text x="1885.7" y="1468.5" font-size="21" text-anchor="middle" fill="#3a3a3a">0</text>
<line x1="1951.7" y1="1452.1" x2="1951.7" y2="1456.1" stroke="#333" stroke-width="1"/>
<text x="1957.7" y="1468.5" font-size="21" text-anchor="middle" fill="#3a3a3a">250</text>
<text x="1760.6" y="1314.1" font-size="21" fill="#111">HNF1A</text>
<text x="1892.3" y="1486.6" font-size="21" text-anchor="middle" fill="#111">Position</text>
<line x1="872.7" y1="1647.6" x2="1117.4" y2="1647.6" stroke="#e6e6e6" stroke-width="0.8"/>
<line x1="872.7" y1="1621.6" x2="1117.4" y2="1621.6" stroke="#e6e6e6" stroke-width="0.8"/>
<line x1="872.7" y1="1595.6" x2="1117.4" y2="1595.6" stroke="#e6e6e6" stroke-width="0.8"/>
<line x1="872.7" y1="1569.6" x2="1117.4" y2="1569.6" stroke="#e6e6e6" stroke-width="0.8"/>
<line x1="872.7" y1="1543.6" x2="1117.4" y2="1543.6" stroke="#e6e6e6" stroke-width="0.8"/>
<line x1="898.8" y1="1540.2" x2="898.8" y2="1666.3" stroke="#e6e6e6" stroke-width="0.8"/>
<line x1="965.1" y1="1540.2" x2="965.1" y2="1666.3" stroke="#e6e6e6" stroke-width="0.8"/>
<line x1="1031.3" y1="1540.2" x2="1031.3" y2="1666.3" stroke="#e6e6e6" stroke-width="0.8"/>
<line x1="1097.6" y1="1540.2" x2="1097.6" y2="1666.3" stroke="#e6e6e6" stroke-width="0.8"/>
<line x1="872.7" y1="1660.6" x2="1117.4" y2="1660.6" stroke="#e6e6e6" stroke-width="1.3"/>
<line x1="872.7" y1="1634.6" x2="1117.4" y2="1634.6" stroke="#e6e6e6" stroke-width="1.3"/>
<line x1="872.7" y1="1608.6" x2="1117.4" y2="1608.6" stroke="#e6e6e6" stroke-width="1.3"/>
<line x1="872.7" y1="1582.6" x2="1117.4" y2="1582.6" stroke="#e6e6e6" stroke-width="1.3"/>
<line x1="872.7" y1="1556.6" x2="1117.4" y2="1556.6" stroke="#e6e6e6" stroke-width="1.3"/>
<line x1="932" y1="1540.2" x2="932" y2="1666.3" stroke="#e6e6e6" stroke-width="1.3"/>
<line x1="998.2" y1="1540.2" x2="998.2" y2="1666.3" stroke="#e6e6e6" stroke-width="1.3"/>
<line x1="1064.5" y1="1540.2" x2="1064.5" y2="1666.3" stroke="#e6e6e6" stroke-width="1.3"/>
<clipPath id="fc4"><rect x="872.7" y="1540.2" width="244.7" height="126.1"/></clipPath>
<g clip-path="url(#fc4)">
<path d="M881.6 1660.6 L885.6 1660.5 L889.6 1660.5 L893.5 1660.6 L897.5 1660.3 L901.5 1660.6 L905.5 1660.5 L909.4 1660.5 L913.4 1660.5 L917.4 1660.6 L921.4 1660.2 L925.3 1660.5 L929.3 1660.4 L933.3 1660.3 L937.2 1660.6 L941.2 1660.6 L945.2 1660.3 L949.2 1660.4 L953.2 1660.4 L957.1 1660.2 L961.1 1659.8 L965.1 1659.8 L969.1 1660.4 L973 1659.5 L977 1659 L981 1659.2 L985 1658.1 L988.9 1659.4 L992.9 1658.9 L996.9 1657.7 L1000.9 1658.5 L1004.8 1658.3 L1008.8 1658.5 L1012.8 1658.5 L1016.8 1658.8 L1020.7 1659.7 L1024.7 1658.6 L1028.7 1659.7 L1032.7 1659.8 L1036.6 1659.7 L1040.6 1659.8 L1044.6 1660.2 L1048.5 1660.6 L1052.5 1660.6 L1056.5 1660.3 L1060.5 1660.4 L1064.5 1660.3 L1068.4 1660.3 L1072.4 1660.6 L1076.4 1660.6 L1080.4 1660.2 L1084.3 1660.6 L1088.3 1660.6 L1092.3 1660.2 L1096.2 1660.6 L1100.2 1660.4 L1104.2 1660.6 L1108.2 1660.6 L1112.2 1660.6" stroke="#4DC0CA" stroke-width="1.4" fill="none" stroke-linejoin="round"/>
<path d="M881.6 1660.6 L885.6 1660.5 L889.6 1660.3 L893.5 1660.1 L897.5 1660.6 L901.5 1660.6 L905.5 1660.6 L909.4 1660.6 L913.4 1660.6 L917.4 1660.6 L921.4 1660.5 L925.3 1660.6 L929.3 1660.4 L933.3 1660.6 L937.2 1660.3 L941.2 1660.1 L945.2 1660.2 L949.2 1660.2 L953.2 1660.1 L957.1 1660 L961.1 1658.1 L965.1 1658.2 L969.1 1656.6 L973 1657.3 L977 1656.8 L981 1657.1 L985 1656.3 L988.9 1657 L992.9 1654.7 L996.9 1654.6 L1000.9 1654.2 L1004.8 1654.4 L1008.8 1656.7 L1012.8 1658.3 L1016.8 1656.1 L1020.7 1657 L1024.7 1658.6 L1028.7 1659 L1032.7 1658.2 L1036.6 1658.1 L1040.6 1659.3 L1044.6 1660.1 L1048.5 1659.7 L1052.5 1659.8 L1056.5 1660.6 L1060.5 1660.2 L1064.5 1660.6 L1068.4 1660.5 L1072.4 1660.4 L1076.4 1660.6 L1080.4 1660.6 L1084.3 1660.5 L1088.3 1660.6 L1092.3 1660.4 L1096.2 1660.6 L1100.2 1660.6 L1104.2 1660.6 L1108.2 1660.6 L1112.2 1660.5" stroke="#F4B3C2" stroke-width="1.4" fill="none" stroke-linejoin="round"/>
<path d="M881.6 1660.6 L885.6 1660.6 L889.6 1660.6 L893.5 1660.5 L897.5 1660.6 L901.5 1660.6 L905.5 1660.5 L909.4 1660.6 L913.4 1660.6 L917.4 1660.6 L921.4 1660.5 L925.3 1660.4 L929.3 1660.4 L933.3 1660.5 L937.2 1660.6 L941.2 1660.6 L945.2 1660.3 L949.2 1660 L953.2 1660.2 L957.1 1660 L961.1 1659.6 L965.1 1660.2 L969.1 1659.5 L973 1658.9 L977 1658.4 L981 1658.7 L985 1658.2 L988.9 1658.1 L992.9 1657.7 L996.9 1658.6 L1000.9 1657.7 L1004.8 1658.9 L1008.8 1659.6 L1012.8 1658.8 L1016.8 1659.2 L1020.7 1658.5 L1024.7 1658.9 L1028.7 1660 L1032.7 1659.4 L1036.6 1660.2 L1040.6 1660.1 L1044.6 1660.3 L1048.5 1660.3 L1052.5 1660.2 L1056.5 1660.3 L1060.5 1660.4 L1064.5 1660.4 L1068.4 1660.5 L1072.4 1660.6 L1076.4 1660.6 L1080.4 1660.6 L1084.3 1660.5 L1088.3 1660.6 L1092.3 1660.2 L1096.2 1660.6 L1100.2 1660.6 L1104.2 1660.5 L1108.2 1660.3 L1112.2 1660.5" stroke="#2E9547" stroke-width="1.4" fill="none" stroke-linejoin="round"/>
<path d="M881.6 1659.9 L885.6 1660.4 L889.6 1660.3 L893.5 1660.2 L897.5 1660.6 L901.5 1660.6 L905.5 1660.6 L909.4 1660.4 L913.4 1660.1 L917.4 1660.5 L921.4 1660.6 L925.3 1660 L929.3 1660.6 L933.3 1660.6 L937.2 1660.6 L941.2 1660.4 L945.2 1660 L949.2 1660.6 L953.2 1660.5 L957.1 1659.9 L961.1 1660.6 L965.1 1659.5 L969.1 1658.8 L973 1659.6 L977 1659.1 L981 1657 L985 1656.5 L988.9 1655.3 L992.9 1652.2 L996.9 1653.7 L1000.9 1654.4 L1004.8 1656.2 L1008.8 1654.5 L1012.8 1657.4 L1016.8 1655.2 L1020.7 1656.6 L1024.7 1660.3 L1028.7 1660 L1032.7 1659.7 L1036.6 1660.2 L1040.6 1660.6 L1044.6 1660.6 L1048.5 1660.1 L1052.5 1660.6 L1056.5 1660.6 L1060.5 1660.6 L1064.5 1660.1 L1068.4 1659.8 L1072.4 1660.6 L1076.4 1660.6 L1080.4 1660.6 L1084.3 1660.6 L1088.3 1660.4 L1092.3 1660 L1096.2 1660 L1100.2 1660.6 L1104.2 1660.2 L1108.2 1660.3 L1112.2 1660.4" stroke="#5A3F98" stroke-width="1.4" fill="none" stroke-linejoin="round"/>
<path d="M879 1660.6 L945.2 1656.5 L971.7 1644.9 L987.6 1630.1 L992.9 1634.6 L999.5 1625.4 L1006.2 1629.4 L1014.1 1638.5 L1024.7 1648.7 L1038 1653.8 L1064.5 1658.8 L1117.5 1660.6" stroke="#E2454B" stroke-width="1.4" fill="none" stroke-linejoin="round"/>
<path d="M879 1660.6 L945.2 1655 L971.7 1644.8 L985 1634.5 L991.6 1632 L995.6 1641.1 L999.5 1643.7 L1003.5 1640.9 L1011.5 1638.7 L1019.4 1641.9 L1030 1651.1 L1040.6 1655.3 L1064.5 1658.9 L1117.5 1660.2" stroke="#F5B041" stroke-width="1.4" fill="none" stroke-linejoin="round"/>
<path d="M879 1660.4 L918.7 1659.5 L932 1655.9 L945.2 1653.1 L958.5 1650.1 L971.7 1640.7 L979.7 1626.2 L985 1627.2 L992.9 1628 L999.5 1616.4 L1006.2 1624.4 L1011.5 1631.5 L1019.4 1635.8 L1027.4 1642.5 L1038 1651.2 L1051.2 1656.9 L1064.5 1657.8 L1091 1660 L1117.5 1659.9" stroke="#3F72B5" stroke-width="1.4" fill="none" stroke-linejoin="round"/>
<path d="M879 1660.6 L918.7 1659.6 L945.2 1657.7 L958.5 1655.3 L971.7 1653 L982.3 1648.9 L988.9 1647.4 L992.9 1546.1 L996.9 1548.7 L999.5 1567 L1003.5 1645 L1008.8 1649.7 L1014.1 1649.2 L1022.1 1655.4 L1030 1657.6 L1051.2 1659.5 L1077.7 1660.2 L1117.5 1660.6" stroke="#EC6A2E" stroke-width="1.4" fill="none" stroke-linejoin="round"/>
</g>
<rect x="872.7" y="1540.2" width="244.7" height="126.1" fill="none" stroke="#555" stroke-width="1.5"/>
<line x1="868.7" y1="1660.6" x2="872.7" y2="1660.6" stroke="#333" stroke-width="1"/>
<text x="865.5" y="1664.9" font-size="21" text-anchor="end" fill="#3a3a3a">0</text>
<line x1="868.7" y1="1634.6" x2="872.7" y2="1634.6" stroke="#333" stroke-width="1"/>
<text x="865.5" y="1638.9" font-size="21" text-anchor="end" fill="#3a3a3a">100</text>
<line x1="868.7" y1="1608.6" x2="872.7" y2="1608.6" stroke="#333" stroke-width="1"/>
<text x="865.5" y="1612.9" font-size="21" text-anchor="end" fill="#3a3a3a">200</text>
<line x1="868.7" y1="1582.6" x2="872.7" y2="1582.6" stroke="#333" stroke-width="1"/>
<text x="865.5" y="1586.9" font-size="21" text-anchor="end" fill="#3a3a3a">300</text>
<line x1="868.7" y1="1556.6" x2="872.7" y2="1556.6" stroke="#333" stroke-width="1"/>
<text x="865.5" y="1560.9" font-size="21" text-anchor="end" fill="#3a3a3a">400</text>
<line x1="932" y1="1666.3" x2="932" y2="1670.3" stroke="#333" stroke-width="1"/>
<text x="941" y="1682.7" font-size="21" text-anchor="middle" fill="#3a3a3a">−250</text>
<line x1="998.2" y1="1666.3" x2="998.2" y2="1670.3" stroke="#333" stroke-width="1"/>
<text x="1000.6" y="1682.7" font-size="21" text-anchor="middle" fill="#3a3a3a">0</text>
<line x1="1064.5" y1="1666.3" x2="1064.5" y2="1670.3" stroke="#333" stroke-width="1"/>
<text x="1070.5" y="1682.7" font-size="21" text-anchor="middle" fill="#3a3a3a">250</text>
<text x="872.9" y="1527.8" font-size="21" fill="#111">HNF4A</text>
<text x="1004.6" y="1700.8" font-size="21" text-anchor="middle" fill="#111">Position</text>
<line x1="1173.5" y1="1638.2" x2="1418.5" y2="1638.2" stroke="#e6e6e6" stroke-width="0.8"/>
<line x1="1173.5" y1="1594.1" x2="1418.5" y2="1594.1" stroke="#e6e6e6" stroke-width="0.8"/>
<line x1="1173.5" y1="1550" x2="1418.5" y2="1550" stroke="#e6e6e6" stroke-width="0.8"/>
<line x1="1179.1" y1="1540" x2="1179.1" y2="1666.1" stroke="#e6e6e6" stroke-width="0.8"/>
<line x1="1251.1" y1="1540" x2="1251.1" y2="1666.1" stroke="#e6e6e6" stroke-width="0.8"/>
<line x1="1323.1" y1="1540" x2="1323.1" y2="1666.1" stroke="#e6e6e6" stroke-width="0.8"/>
<line x1="1395.1" y1="1540" x2="1395.1" y2="1666.1" stroke="#e6e6e6" stroke-width="0.8"/>
<line x1="1173.5" y1="1660.3" x2="1418.5" y2="1660.3" stroke="#e6e6e6" stroke-width="1.3"/>
<line x1="1173.5" y1="1616.2" x2="1418.5" y2="1616.2" stroke="#e6e6e6" stroke-width="1.3"/>
<line x1="1173.5" y1="1572.1" x2="1418.5" y2="1572.1" stroke="#e6e6e6" stroke-width="1.3"/>
<line x1="1215.1" y1="1540" x2="1215.1" y2="1666.1" stroke="#e6e6e6" stroke-width="1.3"/>
<line x1="1287.1" y1="1540" x2="1287.1" y2="1666.1" stroke="#e6e6e6" stroke-width="1.3"/>
<line x1="1359.1" y1="1540" x2="1359.1" y2="1666.1" stroke="#e6e6e6" stroke-width="1.3"/>
<clipPath id="fc5"><rect x="1173.5" y="1540" width="245" height="126.1"/></clipPath>
<g clip-path="url(#fc5)">
<path d="M1179.1 1660.3 L1181.6 1660.3 L1184.1 1660.3 L1186.7 1660.3 L1189.2 1659.3 L1191.7 1660.3 L1194.2 1660.1 L1196.7 1660.3 L1199.3 1656.9 L1201.8 1660.3 L1204.3 1658.1 L1206.8 1658.4 L1209.3 1659.4 L1211.9 1657.7 L1214.4 1659 L1216.9 1660.3 L1219.4 1659.2 L1221.9 1658.4 L1224.5 1656.9 L1227 1657.9 L1229.5 1658 L1232 1657.3 L1234.5 1658.5 L1237.1 1659.3 L1239.6 1658.3 L1242.1 1655.2 L1244.6 1655.5 L1247.1 1657.8 L1249.7 1659.3 L1252.2 1660.3 L1254.7 1656.9 L1257.2 1655.5 L1259.7 1651.4 L1262.3 1650.4 L1264.8 1652 L1267.3 1650.2 L1269.8 1650.4 L1272.3 1657.6 L1274.9 1652.6 L1277.4 1648.7 L1279.9 1652.4 L1282.4 1648.8 L1284.9 1653.2 L1287.5 1651.5 L1290 1650.1 L1292.5 1650.3 L1295 1653.8 L1297.5 1648.3 L1300.1 1653.6 L1302.6 1649.3 L1305.1 1651.9 L1307.6 1658.4 L1310.1 1659 L1312.7 1651 L1315.2 1650.5 L1317.7 1654.6 L1320.2 1656.2 L1322.7 1657.9 L1325.3 1657.6 L1327.8 1655.5 L1330.3 1656.5 L1332.8 1658.5 L1335.3 1660.3 L1337.9 1659 L1340.4 1655.8 L1342.9 1660.3 L1345.4 1658 L1347.9 1657.9 L1350.5 1659.6 L1353 1655.9 L1355.5 1660.3 L1358 1660.3 L1360.5 1660.3 L1363.1 1658.9 L1365.6 1658.2 L1368.1 1660.1 L1370.6 1660.3 L1373.1 1659 L1375.7 1657.8 L1378.2 1660.3 L1380.7 1660.3 L1383.2 1660.3 L1385.7 1659.9 L1388.3 1660 L1390.8 1658 L1393.3 1660.2" stroke="#4DC0CA" stroke-width="1.4" fill="none" stroke-linejoin="round"/>
<path d="M1179.1 1658.5 L1181.6 1659.4 L1184.1 1657.8 L1186.7 1658.2 L1189.2 1660.3 L1191.7 1660.2 L1194.2 1657.1 L1196.7 1659.2 L1199.3 1658.2 L1201.8 1657.3 L1204.3 1660.3 L1206.8 1660.3 L1209.3 1657.9 L1211.9 1660.3 L1214.4 1660.3 L1216.9 1660 L1219.4 1658.8 L1221.9 1657.3 L1224.5 1660.2 L1227 1656.9 L1229.5 1657.3 L1232 1659.2 L1234.5 1660.3 L1237.1 1652.4 L1239.6 1658.8 L1242.1 1658.2 L1244.6 1657.3 L1247.1 1660.3 L1249.7 1652 L1252.2 1647.2 L1254.7 1649.8 L1257.2 1650.5 L1259.7 1653.8 L1262.3 1652.4 L1264.8 1652.8 L1267.3 1649.1 L1269.8 1649 L1272.3 1643.6 L1274.9 1653.3 L1277.4 1652.2 L1279.9 1651.9 L1282.4 1647.2 L1284.9 1639.2 L1287.5 1648.8 L1290 1652.8 L1292.5 1649 L1295 1645.6 L1297.5 1645.3 L1300.1 1638.9 L1302.6 1643.2 L1305.1 1648.2 L1307.6 1650.8 L1310.1 1651.4 L1312.7 1654.2 L1315.2 1653.3 L1317.7 1655.2 L1320.2 1653.1 L1322.7 1651.9 L1325.3 1652.5 L1327.8 1651.2 L1330.3 1655.2 L1332.8 1657.1 L1335.3 1660.3 L1337.9 1653.8 L1340.4 1654.8 L1342.9 1655.7 L1345.4 1655.5 L1347.9 1660.3 L1350.5 1655.4 L1353 1659.6 L1355.5 1659.8 L1358 1660.3 L1360.5 1660.3 L1363.1 1658.1 L1365.6 1657.5 L1368.1 1660.3 L1370.6 1660.3 L1373.1 1657 L1375.7 1660.3 L1378.2 1660.3 L1380.7 1659.4 L1383.2 1658.8 L1385.7 1660.3 L1388.3 1660.3 L1390.8 1660.3 L1393.3 1656.1" stroke="#F4B3C2" stroke-width="1.4" fill="none" stroke-linejoin="round"/>
<path d="M1179.1 1660.3 L1181.6 1660.1 L1184.1 1660.3 L1186.7 1660.3 L1189.2 1660.3 L1191.7 1658.9 L1194.2 1658.1 L1196.7 1658.7 L1199.3 1660.2 L1201.8 1660.3 L1204.3 1656.8 L1206.8 1655.4 L1209.3 1656.8 L1211.9 1659.1 L1214.4 1655.9 L1216.9 1651.5 L1219.4 1659.8 L1221.9 1654.2 L1224.5 1660.3 L1227 1659.5 L1229.5 1649.4 L1232 1660.1 L1234.5 1657.5 L1237.1 1660.3 L1239.6 1652.8 L1242.1 1658.8 L1244.6 1655.5 L1247.1 1651.1 L1249.7 1652.7 L1252.2 1641.3 L1254.7 1651.2 L1257.2 1652 L1259.7 1646.3 L1262.3 1650.9 L1264.8 1650.4 L1267.3 1653.2 L1269.8 1648.1 L1272.3 1644 L1274.9 1651.9 L1277.4 1649.7 L1279.9 1652.7 L1282.4 1652.7 L1284.9 1643 L1287.5 1656.5 L1290 1657 L1292.5 1657.2 L1295 1658.7 L1297.5 1648.7 L1300.1 1646 L1302.6 1657.7 L1305.1 1646.5 L1307.6 1647.2 L1310.1 1653.6 L1312.7 1652.6 L1315.2 1656.2 L1317.7 1650.2 L1320.2 1653.7 L1322.7 1654.8 L1325.3 1658.3 L1327.8 1657.6 L1330.3 1650.2 L1332.8 1657.6 L1335.3 1654.7 L1337.9 1660.3 L1340.4 1657.2 L1342.9 1653.9 L1345.4 1657.4 L1347.9 1658 L1350.5 1660.3 L1353 1657.9 L1355.5 1656.5 L1358 1658.9 L1360.5 1658.7 L1363.1 1660 L1365.6 1659.5 L1368.1 1654.5 L1370.6 1660.3 L1373.1 1660.3 L1375.7 1660.3 L1378.2 1658 L1380.7 1660.3 L1383.2 1659.8 L1385.7 1660.3 L1388.3 1657.2 L1390.8 1657.8 L1393.3 1660" stroke="#5A3F98" stroke-width="1.4" fill="none" stroke-linejoin="round"/>
<path d="M1179.1 1660.1 L1181.6 1656.5 L1184.1 1657.1 L1186.7 1655.2 L1189.2 1659.6 L1191.7 1656 L1194.2 1657.1 L1196.7 1660.3 L1199.3 1654.6 L1201.8 1660.3 L1204.3 1660.3 L1206.8 1660.3 L1209.3 1660.3 L1211.9 1660.3 L1214.4 1655 L1216.9 1658.3 L1219.4 1650.7 L1221.9 1658.1 L1224.5 1654 L1227 1655.8 L1229.5 1660.3 L1232 1654 L1234.5 1651.7 L1237.1 1648 L1239.6 1658.3 L1242.1 1645.5 L1244.6 1643.2 L1247.1 1654 L1249.7 1645.7 L1252.2 1638.8 L1254.7 1657.5 L1257.2 1641.4 L1259.7 1658.6 L1262.3 1641.2 L1264.8 1630.2 L1267.3 1643.2 L1269.8 1635 L1272.3 1652.6 L1274.9 1643.7 L1277.4 1641.8 L1279.9 1630.2 L1282.4 1639.3 L1284.9 1630 L1287.5 1637.4 L1290 1642.9 L1292.5 1635.9 L1295 1635.3 L1297.5 1640.3 L1300.1 1632.2 L1302.6 1645.9 L1305.1 1638.5 L1307.6 1636.3 L1310.1 1646.4 L1312.7 1643.1 L1315.2 1644.4 L1317.7 1655.1 L1320.2 1636.1 L1322.7 1649.4 L1325.3 1645.1 L1327.8 1660.3 L1330.3 1644.6 L1332.8 1655 L1335.3 1658.5 L1337.9 1655.2 L1340.4 1650.7 L1342.9 1660.3 L1345.4 1652.2 L1347.9 1660.3 L1350.5 1653.1 L1353 1656.8 L1355.5 1653.8 L1358 1655.8 L1360.5 1660.3 L1363.1 1660.3 L1365.6 1657.6 L1368.1 1660.3 L1370.6 1660.1 L1373.1 1660.3 L1375.7 1657.7 L1378.2 1651.3 L1380.7 1656.6 L1383.2 1658.9 L1385.7 1660.3 L1388.3 1660.3 L1390.8 1656.2 L1393.3 1660.3" stroke="#F5B041" stroke-width="1.4" fill="none" stroke-linejoin="round"/>
<path d="M1179.1 1659.1 L1181.6 1660.3 L1184.1 1660.3 L1186.7 1660.3 L1189.2 1656.9 L1191.7 1660.3 L1194.2 1658.3 L1196.7 1660.3 L1199.3 1656.4 L1201.8 1660 L1204.3 1658.4 L1206.8 1656.6 L1209.3 1660.1 L1211.9 1660 L1214.4 1659.4 L1216.9 1658.4 L1219.4 1656.4 L1221.9 1657.1 L1224.5 1657.3 L1227 1654 L1229.5 1656 L1232 1660.3 L1234.5 1649.5 L1237.1 1660.3 L1239.6 1644.8 L1242.1 1660.3 L1244.6 1659 L1247.1 1654.8 L1249.7 1644.9 L1252.2 1653.9 L1254.7 1643.1 L1257.2 1640.5 L1259.7 1649.4 L1262.3 1644.9 L1264.8 1639 L1267.3 1639 L1269.8 1645 L1272.3 1653 L1274.9 1643 L1277.4 1644.6 L1279.9 1635.5 L1282.4 1635.4 L1284.9 1641.1 L1287.5 1643.6 L1290 1639.5 L1292.5 1632.4 L1295 1629.8 L1297.5 1630 L1300.1 1625.8 L1302.6 1626 L1305.1 1639.2 L1307.6 1625.7 L1310.1 1646.5 L1312.7 1633.3 L1315.2 1639.3 L1317.7 1653.5 L1320.2 1629.8 L1322.7 1627.4 L1325.3 1635.7 L1327.8 1654.8 L1330.3 1660.3 L1332.8 1642.8 L1335.3 1646.7 L1337.9 1653.5 L1340.4 1654.8 L1342.9 1660.3 L1345.4 1652.5 L1347.9 1660.3 L1350.5 1660.3 L1353 1656.4 L1355.5 1650.1 L1358 1653.6 L1360.5 1653 L1363.1 1652.4 L1365.6 1654.9 L1368.1 1660.3 L1370.6 1657.6 L1373.1 1658.5 L1375.7 1660.3 L1378.2 1659.6 L1380.7 1659.9 L1383.2 1660.3 L1385.7 1660.3 L1388.3 1659.9 L1390.8 1657.7 L1393.3 1656.9" stroke="#EC6A2E" stroke-width="1.4" fill="none" stroke-linejoin="round"/>
<path d="M1179.1 1660.3 L1181.6 1660.3 L1184.1 1660.3 L1186.7 1658.5 L1189.2 1655.7 L1191.7 1660.3 L1194.2 1660.3 L1196.7 1660.3 L1199.3 1659.1 L1201.8 1660.3 L1204.3 1652.9 L1206.8 1647.3 L1209.3 1659.2 L1211.9 1660.3 L1214.4 1658.8 L1216.9 1660.3 L1219.4 1660.3 L1221.9 1653.8 L1224.5 1656.7 L1227 1653.9 L1229.5 1660.3 L1232 1655.5 L1234.5 1657.5 L1237.1 1646.5 L1239.6 1650.8 L1242.1 1651.9 L1244.6 1651.1 L1247.1 1646.9 L1249.7 1651.4 L1252.2 1653.4 L1254.7 1650.9 L1257.2 1642.8 L1259.7 1641.4 L1262.3 1655.2 L1264.8 1655.3 L1267.3 1634.9 L1269.8 1637.9 L1272.3 1629.8 L1274.9 1630.6 L1277.4 1637.7 L1279.9 1633.8 L1282.4 1632.8 L1284.9 1642.5 L1287.5 1649.6 L1290 1623.5 L1292.5 1630.4 L1295 1640.9 L1297.5 1629.3 L1300.1 1634.1 L1302.6 1626.6 L1305.1 1623.4 L1307.6 1621.7 L1310.1 1634.9 L1312.3 1639.1 L1312.3 1611.8 L1315.2 1643.6 L1315.9 1640.7 L1317.7 1650.6 L1320.2 1652 L1322.7 1642.6 L1325.3 1641.3 L1327.8 1648.2 L1330.3 1646.1 L1332.8 1643.8 L1335.3 1650.4 L1337.9 1657.2 L1340.4 1653.9 L1342.9 1651.7 L1345.4 1648.6 L1347.9 1649.5 L1350.5 1654.7 L1353 1650.9 L1355.5 1656.4 L1358 1653.3 L1360.5 1654.2 L1363.1 1649.3 L1365.6 1660.3 L1368.1 1660.3 L1370.6 1658 L1373.1 1651.6 L1375.7 1660.3 L1378.2 1660.3 L1380.7 1655.6 L1383.2 1651.1 L1385.7 1660.3 L1388.3 1656.4 L1390.8 1653.5 L1393.3 1655.6" stroke="#E2454B" stroke-width="1.4" fill="none" stroke-linejoin="round"/>
<path d="M1179.1 1658.3 L1181.6 1660.3 L1184.1 1660.3 L1186.7 1660.3 L1189.2 1656.1 L1191.7 1660.3 L1194.2 1660.3 L1196.7 1657.7 L1199.3 1660.3 L1201.8 1652.9 L1204.3 1653.9 L1206.8 1660.3 L1209.3 1645.7 L1211.9 1653 L1214.4 1660.3 L1216.9 1658.5 L1219.4 1660.3 L1221.9 1656.8 L1224.5 1650.7 L1227 1655.3 L1229.5 1638.8 L1232 1633.6 L1234.5 1650.8 L1237.1 1644.2 L1239.6 1660.3 L1242.1 1641.1 L1244.6 1646.1 L1247.1 1643 L1249.7 1643 L1252.2 1635.2 L1254.7 1622 L1257.2 1635.7 L1259.7 1637.2 L1262.3 1640.4 L1264.8 1633 L1267.3 1605.7 L1269.8 1629.6 L1272.3 1639.3 L1274.9 1656.4 L1277.4 1644.2 L1279.9 1628.6 L1282.4 1614.6 L1284.9 1617.4 L1287.5 1628.5 L1290 1629.2 L1292.5 1621.3 L1295 1639.7 L1297.5 1625.7 L1300.1 1625.9 L1302.6 1639.9 L1305.1 1635.6 L1305.1 1618.1 L1306.9 1616.2 L1308.7 1637.5 L1310.1 1623.6 L1312.7 1647.2 L1315.2 1643.3 L1317.7 1635.7 L1320.2 1643.7 L1322.7 1648.4 L1325.3 1639.3 L1327.8 1645.4 L1330.3 1648.6 L1332.8 1644 L1335.3 1643.9 L1337.9 1640.9 L1340.4 1658.6 L1342.9 1654.4 L1345.4 1656.6 L1347.9 1652.4 L1350.5 1655 L1353 1660.3 L1355.5 1655.1 L1358 1660.3 L1360.5 1660.3 L1363.1 1660.3 L1365.6 1660.3 L1368.1 1658.2 L1370.6 1660.3 L1373.1 1656.2 L1375.7 1656.3 L1378.2 1660.3 L1380.7 1656 L1383.2 1657.2 L1385.7 1660.3 L1388.3 1654.2 L1390.8 1657.4 L1393.3 1660.3" stroke="#3F72B5" stroke-width="1.4" fill="none" stroke-linejoin="round"/>
<path d="M1182.7 1656.3 L1186.3 1650.3 L1189.9 1657.2 L1195.3 1654.7 L1200.7 1658.2 L1206.1 1657.1 L1211.5 1659.7 L1216.9 1650.7 L1220.5 1658.5 L1224.5 1636.1 L1227.7 1652.1 L1231.3 1643.6 L1234.9 1656.6 L1238.5 1646.5 L1242.1 1651.7 L1245.7 1634.8 L1248.6 1613 L1252.2 1625.3 L1254.7 1625.2 L1257.6 1607.6 L1261.2 1624.9 L1264.8 1597.2 L1269.1 1613.3 L1272 1572.8 L1275.9 1611.2 L1279.5 1571.9 L1283.1 1591.2 L1286 1592 L1288.5 1637.7 L1292.1 1545.1 L1295.7 1581.6 L1299.3 1571.7 L1304 1611.6 L1307.3 1607.7 L1310.1 1619.9 L1313 1625.3 L1317 1616.6 L1319.9 1637.8 L1324.9 1639.9 L1329.9 1655.6 L1335 1624.8 L1340 1646 L1345.1 1647.8 L1349 1642.4 L1351.9 1655 L1355.5 1650.5 L1360.2 1647.9 L1365.2 1644.4 L1369.9 1656.2 L1375.3 1651.7 L1380.7 1655.1 L1386.1 1659.8 L1391.5 1655.9 L1395.1 1652.1" stroke="#2E9547" stroke-width="1.4" fill="none" stroke-linejoin="round"/>
</g>
<rect x="1173.5" y="1540" width="245" height="126.1" fill="none" stroke="#555" stroke-width="1.5"/>
<line x1="1169.5" y1="1660.3" x2="1173.5" y2="1660.3" stroke="#333" stroke-width="1"/>
<text x="1166.3" y="1664.6" font-size="21" text-anchor="end" fill="#3a3a3a">0</text>
<line x1="1169.5" y1="1616.2" x2="1173.5" y2="1616.2" stroke="#333" stroke-width="1"/>
<text x="1166.3" y="1620.5" font-size="21" text-anchor="end" fill="#3a3a3a">10</text>
<line x1="1169.5" y1="1572.1" x2="1173.5" y2="1572.1" stroke="#333" stroke-width="1"/>
<text x="1166.3" y="1576.4" font-size="21" text-anchor="end" fill="#3a3a3a">20</text>
<line x1="1215.1" y1="1666.1" x2="1215.1" y2="1670.1" stroke="#333" stroke-width="1"/>
<text x="1224.1" y="1682.5" font-size="21" text-anchor="middle" fill="#3a3a3a">−200</text>
<line x1="1287.1" y1="1666.1" x2="1287.1" y2="1670.1" stroke="#333" stroke-width="1"/>
<text x="1289.5" y="1682.5" font-size="21" text-anchor="middle" fill="#3a3a3a">0</text>
<line x1="1359.1" y1="1666.1" x2="1359.1" y2="1670.1" stroke="#333" stroke-width="1"/>
<text x="1365.1" y="1682.5" font-size="21" text-anchor="middle" fill="#3a3a3a">200</text>
<text x="1173.7" y="1527.3" font-size="21" fill="#111">NFIB</text>
<text x="1305.5" y="1700.6" font-size="21" text-anchor="middle" fill="#111">Position</text>
<line x1="1467.3" y1="1647.5" x2="1711.6" y2="1647.5" stroke="#e6e6e6" stroke-width="0.8"/>
<line x1="1467.3" y1="1622" x2="1711.6" y2="1622" stroke="#e6e6e6" stroke-width="0.8"/>
<line x1="1467.3" y1="1596.4" x2="1711.6" y2="1596.4" stroke="#e6e6e6" stroke-width="0.8"/>
<line x1="1467.3" y1="1570.9" x2="1711.6" y2="1570.9" stroke="#e6e6e6" stroke-width="0.8"/>
<line x1="1467.3" y1="1545.3" x2="1711.6" y2="1545.3" stroke="#e6e6e6" stroke-width="0.8"/>
<line x1="1483" y1="1540" x2="1483" y2="1666.1" stroke="#e6e6e6" stroke-width="0.8"/>
<line x1="1550.8" y1="1540" x2="1550.8" y2="1666.1" stroke="#e6e6e6" stroke-width="0.8"/>
<line x1="1618.6" y1="1540" x2="1618.6" y2="1666.1" stroke="#e6e6e6" stroke-width="0.8"/>
<line x1="1686.4" y1="1540" x2="1686.4" y2="1666.1" stroke="#e6e6e6" stroke-width="0.8"/>
<line x1="1467.3" y1="1660.3" x2="1711.6" y2="1660.3" stroke="#e6e6e6" stroke-width="1.3"/>
<line x1="1467.3" y1="1634.8" x2="1711.6" y2="1634.8" stroke="#e6e6e6" stroke-width="1.3"/>
<line x1="1467.3" y1="1609.2" x2="1711.6" y2="1609.2" stroke="#e6e6e6" stroke-width="1.3"/>
<line x1="1467.3" y1="1583.6" x2="1711.6" y2="1583.6" stroke="#e6e6e6" stroke-width="1.3"/>
<line x1="1467.3" y1="1558.1" x2="1711.6" y2="1558.1" stroke="#e6e6e6" stroke-width="1.3"/>
<line x1="1516.9" y1="1540" x2="1516.9" y2="1666.1" stroke="#e6e6e6" stroke-width="1.3"/>
<line x1="1584.7" y1="1540" x2="1584.7" y2="1666.1" stroke="#e6e6e6" stroke-width="1.3"/>
<line x1="1652.5" y1="1540" x2="1652.5" y2="1666.1" stroke="#e6e6e6" stroke-width="1.3"/>
<clipPath id="fc6"><rect x="1467.3" y="1540" width="244.3" height="126.1"/></clipPath>
<g clip-path="url(#fc6)">
<path d="M1472.8 1658.9 L1475.5 1660.3 L1478.3 1660.3 L1481 1660.1 L1483.7 1659.9 L1486.4 1660.3 L1489.1 1660.3 L1491.8 1659.8 L1494.5 1660.3 L1497.2 1659.9 L1500 1660.3 L1502.7 1660.3 L1505.4 1659.5 L1508.1 1658.1 L1510.8 1659.2 L1513.5 1657.2 L1516.2 1660.3 L1518.9 1660 L1521.6 1658.7 L1524.4 1659.1 L1527.1 1658.3 L1529.8 1659.3 L1532.5 1659.9 L1535.2 1659.5 L1537.9 1660.3 L1540.6 1656.7 L1543.3 1655.4 L1546.1 1654.9 L1548.8 1655.2 L1551.5 1655.5 L1554.2 1656.3 L1556.9 1656.5 L1559.6 1653.1 L1562.3 1652.4 L1565 1654.2 L1567.8 1653.9 L1570.5 1655 L1573.2 1656.3 L1575.9 1649.5 L1578.6 1652.8 L1581.3 1649.2 L1584 1652.6 L1586.7 1654.7 L1589.4 1654.4 L1592.2 1655.9 L1594.9 1649.4 L1597.6 1652.3 L1600.3 1650.9 L1603 1654.6 L1605.7 1654.3 L1608.4 1653.5 L1611.1 1655.9 L1613.9 1654.8 L1616.6 1658.1 L1619.3 1654.6 L1622 1656.6 L1624.7 1658.8 L1627.4 1658.4 L1630.1 1657.4 L1632.8 1658.3 L1635.5 1657 L1638.3 1660.3 L1641 1658 L1643.7 1657.8 L1646.4 1657.7 L1649.1 1659 L1651.8 1660 L1654.5 1660.3 L1657.2 1659.6 L1660 1660.3 L1662.7 1658.8 L1665.4 1659.6 L1668.1 1660.1 L1670.8 1660.3 L1673.5 1659.9 L1676.2 1658.7 L1678.9 1660.3 L1681.7 1660.3 L1684.4 1659.5 L1687.1 1659 L1689.8 1660.1 L1692.5 1660.3 L1695.2 1660.3" stroke="#4DC0CA" stroke-width="1.4" fill="none" stroke-linejoin="round"/>
<path d="M1472.8 1658.6 L1475.5 1659.8 L1478.3 1658.7 L1481 1660.1 L1483.7 1659.2 L1486.4 1660.3 L1489.1 1658.4 L1491.8 1660.3 L1494.5 1660 L1497.2 1660.3 L1500 1660.3 L1502.7 1660.3 L1505.4 1660.3 L1508.1 1660.3 L1510.8 1657.9 L1513.5 1660.2 L1516.2 1660.1 L1518.9 1660.3 L1521.6 1660.3 L1524.4 1660 L1527.1 1660.3 L1529.8 1660.1 L1532.5 1656.8 L1535.2 1656 L1537.9 1655.9 L1540.6 1654.6 L1543.3 1659.7 L1546.1 1653.9 L1548.8 1657 L1551.5 1655.6 L1554.2 1655.5 L1556.9 1653 L1559.6 1645.8 L1562.3 1652 L1565 1652.4 L1567.8 1648.2 L1570.5 1654.2 L1573.2 1646.8 L1575.9 1656.8 L1578.6 1644.8 L1581.3 1644.3 L1584 1646.4 L1586.7 1648.7 L1589.4 1647.9 L1592.2 1652.9 L1594.9 1647.3 L1597.6 1652.9 L1600.3 1638.4 L1603 1652.1 L1605.7 1648.2 L1608.4 1653.7 L1611.1 1653.7 L1613.9 1654.8 L1616.6 1653.6 L1619.3 1651 L1622 1654.1 L1624.7 1656.2 L1627.4 1655.3 L1630.1 1657.3 L1632.8 1655.7 L1635.5 1656.4 L1638.3 1656.3 L1641 1659.6 L1643.7 1660.3 L1646.4 1658 L1649.1 1659.2 L1651.8 1660.3 L1654.5 1660.3 L1657.2 1659.9 L1660 1657.2 L1662.7 1658.4 L1665.4 1659.7 L1668.1 1659.4 L1670.8 1660.1 L1673.5 1660.3 L1676.2 1660.3 L1678.9 1657.6 L1681.7 1660.3 L1684.4 1660.3 L1687.1 1659.7 L1689.8 1660.3 L1692.5 1659.7 L1695.2 1660.3" stroke="#F4B3C2" stroke-width="1.4" fill="none" stroke-linejoin="round"/>
<path d="M1472.8 1660.3 L1475.5 1660.3 L1478.3 1660.3 L1481 1660.3 L1483.7 1658.8 L1486.4 1659.9 L1489.1 1660.3 L1491.8 1659.3 L1494.5 1657.6 L1497.2 1660.3 L1500 1659.6 L1502.7 1660.3 L1505.4 1659.5 L1508.1 1660.3 L1510.8 1660.3 L1513.5 1659.5 L1516.2 1657.7 L1518.9 1658.4 L1521.6 1660.2 L1524.4 1657.7 L1527.1 1656.5 L1529.8 1656.7 L1532.5 1657.6 L1535.2 1657.2 L1537.9 1656 L1540.6 1658 L1543.3 1658.9 L1546.1 1658.1 L1548.8 1654.8 L1551.5 1660.3 L1554.2 1652.5 L1556.9 1651 L1559.6 1649.8 L1562.3 1649 L1565 1651.7 L1567.8 1649 L1570.5 1651.2 L1573.2 1645.4 L1575.9 1657 L1578.6 1649.4 L1581.3 1654.1 L1584 1652.6 L1586.7 1651.6 L1589.4 1653 L1592.2 1652.7 L1594.9 1649 L1597.6 1648.9 L1600.3 1644.5 L1603 1654.5 L1605.7 1654.4 L1608.4 1654.1 L1611.1 1654.5 L1613.9 1651.5 L1616.6 1656.5 L1619.3 1656.1 L1622 1651.9 L1624.7 1659.5 L1627.4 1656.2 L1630.1 1653.3 L1632.8 1653.8 L1635.5 1657 L1638.3 1658.8 L1641 1658.9 L1643.7 1658.8 L1646.4 1657.9 L1649.1 1658.8 L1651.8 1655.9 L1654.5 1658 L1657.2 1660.3 L1660 1659.7 L1662.7 1660.1 L1665.4 1660.3 L1668.1 1660.3 L1670.8 1659.9 L1673.5 1660.3 L1676.2 1660.3 L1678.9 1657.5 L1681.7 1659.2 L1684.4 1656.5 L1687.1 1660.3 L1689.8 1659.7 L1692.5 1659.6 L1695.2 1659.6" stroke="#5A3F98" stroke-width="1.4" fill="none" stroke-linejoin="round"/>
<path d="M1472.8 1659.3 L1475.5 1654.1 L1478.3 1659.8 L1481 1660.3 L1483.7 1657.9 L1486.4 1660.3 L1489.1 1660.3 L1491.8 1660.3 L1494.5 1659 L1497.2 1660.3 L1500 1659.1 L1502.7 1660.3 L1505.4 1659.8 L1508.1 1660.3 L1510.8 1660.3 L1513.5 1656.4 L1516.2 1654 L1518.9 1660.3 L1521.6 1658.2 L1524.4 1659.8 L1527.1 1660.3 L1529.8 1660.3 L1532.5 1657.8 L1535.2 1655.8 L1537.9 1656 L1540.6 1659.9 L1543.3 1650.9 L1546.1 1653.4 L1548.8 1646.1 L1551.5 1646.4 L1554.2 1644 L1556.9 1653.5 L1559.6 1640.9 L1562.3 1640.1 L1565 1637.5 L1567.8 1635.7 L1570.5 1638.2 L1573.2 1646.6 L1575.9 1643.2 L1578.6 1638.7 L1581.3 1660.3 L1584 1640 L1586.7 1643.1 L1589.4 1634.9 L1592.2 1645 L1594.9 1654.2 L1597.6 1633.3 L1600.3 1640.5 L1603 1651.7 L1605.7 1651.3 L1608.4 1656.3 L1611.1 1650.5 L1613.9 1649.2 L1616.6 1655.3 L1619.3 1652.5 L1622 1653.3 L1624.7 1658.5 L1627.4 1657.6 L1630.1 1660.3 L1632.8 1657.4 L1635.5 1660.3 L1638.3 1657.4 L1641 1660.3 L1643.7 1660.1 L1646.4 1659.3 L1649.1 1660.3 L1651.8 1654.1 L1654.5 1659.1 L1657.2 1660.3 L1660 1658.1 L1662.7 1657.6 L1665.4 1657.9 L1668.1 1659.9 L1670.8 1660.3 L1673.5 1660.3 L1676.2 1660.3 L1678.9 1660.3 L1681.7 1659.5 L1684.4 1660.3 L1687.1 1660.3 L1689.8 1660.3 L1692.5 1660.3 L1695.2 1660.3" stroke="#EC6A2E" stroke-width="1.4" fill="none" stroke-linejoin="round"/>
<path d="M1472.8 1660.3 L1475.5 1657 L1478.3 1660.3 L1481 1655.4 L1483.7 1660.3 L1486.4 1659.8 L1489.1 1656.5 L1491.8 1660.3 L1494.5 1657.8 L1497.2 1660.3 L1500 1659.2 L1502.7 1657.8 L1505.4 1659.9 L1508.1 1655.4 L1510.8 1655.4 L1513.5 1659.9 L1516.2 1658.9 L1518.9 1657.9 L1521.6 1660.3 L1524.4 1660.3 L1527.1 1660.3 L1529.8 1659.5 L1532.5 1660.3 L1535.2 1660.3 L1537.9 1655.7 L1540.6 1655.4 L1543.3 1651.9 L1546.1 1654.9 L1548.8 1655.3 L1551.5 1650.3 L1554.2 1653.6 L1556.9 1639.3 L1559.6 1641.5 L1562.3 1639.1 L1565 1642.7 L1567.8 1646.7 L1570.5 1640.8 L1573.2 1645.4 L1575.9 1642.4 L1577.9 1639.3 L1578.6 1637.5 L1580.6 1619.4 L1581.3 1638.2 L1584 1629.6 L1586.7 1647.6 L1589.4 1627.4 L1592.2 1638.9 L1594.9 1639.8 L1597.6 1642.1 L1600.3 1641.3 L1603 1638.4 L1605.7 1637.1 L1608.4 1647.5 L1611.1 1639.2 L1613.9 1638.1 L1616.6 1650 L1619.3 1659.4 L1622 1654.4 L1624.7 1650 L1627.4 1649 L1630.1 1646.7 L1632.8 1657.9 L1635.5 1660.3 L1638.3 1658.1 L1641 1660.3 L1643.7 1656.6 L1646.4 1657.6 L1649.1 1659.6 L1651.8 1658.4 L1654.5 1660.3 L1657.2 1660.3 L1660 1660.3 L1662.7 1657.1 L1665.4 1659.3 L1668.1 1653.8 L1670.8 1659.6 L1673.5 1657 L1676.2 1660.3 L1678.9 1659.8 L1681.7 1660.3 L1684.4 1660 L1687.1 1659.3 L1689.8 1660.3 L1692.5 1658.3 L1695.2 1660.3" stroke="#E2454B" stroke-width="1.4" fill="none" stroke-linejoin="round"/>
<path d="M1472.8 1660.3 L1475.5 1660.2 L1478.3 1659.6 L1481 1660.3 L1483.7 1660.3 L1486.4 1657.2 L1489.1 1660.3 L1491.8 1660.1 L1494.5 1660.3 L1497.2 1659.2 L1500 1658.7 L1502.7 1657.5 L1505.4 1657.5 L1508.1 1660.3 L1510.8 1660.3 L1513.5 1660.3 L1516.2 1660.3 L1518.9 1659.4 L1521.6 1660 L1524.4 1660.3 L1527.1 1660.3 L1529.8 1652.3 L1532.5 1660.3 L1535.2 1652 L1537.9 1660.3 L1540.6 1660.3 L1543.3 1657.7 L1546.1 1657 L1548.8 1655.2 L1551.5 1656.4 L1554.2 1654.2 L1556.9 1650.1 L1559.6 1646.1 L1562.3 1647.2 L1565 1642.7 L1567.8 1646 L1570.5 1633.8 L1573.2 1660.3 L1575.9 1646.1 L1578.6 1641.7 L1581.3 1643.8 L1584.7 1642.4 L1584.7 1545.3 L1586.4 1634.8 L1586.7 1634.5 L1589.4 1634.6 L1592.2 1644.4 L1594.9 1645 L1597.6 1650.7 L1600.3 1645.5 L1603 1649.2 L1605.7 1646.7 L1608.4 1651.1 L1611.1 1649.4 L1613.9 1654.2 L1616.6 1658.1 L1619.3 1656.6 L1622 1657.6 L1624.7 1653 L1627.4 1657.5 L1630.1 1656.6 L1632.8 1655.5 L1635.5 1657.2 L1638.3 1659.7 L1641 1658.7 L1643.7 1660.3 L1646.4 1658.1 L1649.1 1660.3 L1651.8 1660.3 L1654.5 1658.6 L1657.2 1660.3 L1660 1660.3 L1662.7 1658.9 L1665.4 1657.5 L1668.1 1660.3 L1670.8 1660.3 L1673.5 1659.1 L1676.2 1656.1 L1678.9 1660.3 L1681.7 1660.3 L1684.4 1660.3 L1687.1 1660.1 L1689.8 1660.3 L1692.5 1659.2 L1695.2 1660.3" stroke="#F5B041" stroke-width="1.4" fill="none" stroke-linejoin="round"/>
<path d="M1472.8 1659 L1475.5 1660.3 L1478.3 1658.5 L1481 1660.3 L1483.7 1660.3 L1486.4 1659 L1489.1 1660.3 L1491.8 1657.7 L1494.5 1656.6 L1497.2 1654.4 L1500 1657.9 L1502.7 1659.3 L1505.4 1656.9 L1508.1 1656.6 L1510.8 1660.3 L1513.5 1658.4 L1516.2 1659.4 L1518.9 1653.4 L1521.6 1654.9 L1524.4 1652.8 L1527.1 1654.6 L1527.7 1632.2 L1529.1 1652.6 L1529.8 1650.8 L1532.5 1657.7 L1535.2 1653.8 L1537.9 1647.1 L1540.6 1651 L1543.3 1651.2 L1546.1 1642.2 L1548.8 1641.4 L1551.5 1646.1 L1554.2 1644.9 L1556.9 1635.9 L1559.6 1643 L1562.3 1645 L1565 1634.5 L1567.8 1629.4 L1570.5 1645.5 L1574.5 1637.4 L1574.5 1619.4 L1577.9 1637.3 L1578.6 1636.9 L1581.3 1632.6 L1584 1634.2 L1586.7 1622.4 L1589.4 1649.6 L1592.2 1636.2 L1594.9 1645.6 L1597.6 1653.9 L1600.3 1647.9 L1603 1647.1 L1605.7 1640.5 L1608.4 1647.4 L1611.1 1652 L1613.9 1653.2 L1616.6 1649.3 L1619.3 1648.8 L1622 1656.5 L1624.7 1652.6 L1627.4 1653.7 L1630.1 1656 L1632.8 1657 L1635.5 1657.5 L1638.3 1658.9 L1641 1660.1 L1643.7 1658.5 L1646.4 1659.2 L1649.1 1659.9 L1651.8 1660.3 L1654.5 1657.4 L1657.2 1660 L1660 1652.4 L1662.7 1653.7 L1665.4 1660.2 L1668.1 1655 L1670.8 1660.3 L1673.5 1660.3 L1676.2 1660.3 L1678.9 1660.3 L1681.7 1659.8 L1684.4 1655.7 L1687.1 1660.3 L1689.8 1660.3 L1692.5 1658.1 L1695.2 1659.9" stroke="#3F72B5" stroke-width="1.4" fill="none" stroke-linejoin="round"/>
<path d="M1472.8 1660.3 L1475.5 1659.4 L1478.3 1657.2 L1481 1660.3 L1483.7 1655.7 L1486.4 1657.4 L1489.1 1658.1 L1491.8 1659 L1494.5 1655.8 L1497.2 1657.7 L1500 1657.1 L1502.7 1660.3 L1505.4 1658 L1508.1 1652.3 L1510.8 1656.4 L1513.5 1660.3 L1516.2 1658.4 L1518.9 1651.3 L1521.6 1647.7 L1524.4 1657.2 L1527.1 1649.8 L1529.8 1658.8 L1532.5 1651.7 L1535.2 1644.5 L1537.9 1656.9 L1540.6 1645.1 L1543.3 1651.1 L1546.1 1645.1 L1548.8 1642.2 L1551.5 1643.1 L1554.2 1643.8 L1556.9 1632.5 L1559.6 1632.6 L1562.3 1635.8 L1565 1652.2 L1567.8 1641.9 L1570.5 1646.2 L1573.2 1635.2 L1575.9 1636 L1578.6 1621.9 L1581.3 1633.2 L1584 1620.9 L1586.7 1629.2 L1588.1 1627.3 L1588.8 1593.9 L1591.5 1627.9 L1592.2 1613.6 L1594.9 1630.2 L1597.6 1634.7 L1600.3 1641.1 L1603 1630.6 L1605.7 1628.1 L1608.4 1635.8 L1608.4 1611.8 L1611.1 1636.1 L1611.8 1637.9 L1613.9 1651.5 L1616.6 1637.7 L1619.3 1640.9 L1622 1645.1 L1624.7 1650.4 L1627.4 1643.4 L1630.1 1653 L1632.8 1645.3 L1635.5 1652.7 L1638.3 1650.9 L1641 1651 L1643.7 1658.4 L1646.4 1655.3 L1649.1 1658.7 L1651.8 1658.9 L1654.5 1653.9 L1657.2 1654.7 L1660 1657.9 L1662.7 1657.6 L1665.4 1656.3 L1668.1 1660.3 L1670.8 1654.2 L1673.5 1660.3 L1676.2 1660.1 L1678.9 1660.3 L1681.7 1660.3 L1684.4 1659.2 L1687.1 1654.8 L1689.8 1660.3 L1692.5 1660.3 L1695.2 1660.3" stroke="#2E9547" stroke-width="1.4" fill="none" stroke-linejoin="round"/>
</g>
<rect x="1467.3" y="1540" width="244.3" height="126.1" fill="none" stroke="#555" stroke-width="1.5"/>
<line x1="1463.3" y1="1660.3" x2="1467.3" y2="1660.3" stroke="#333" stroke-width="1"/>
<text x="1460.1" y="1664.6" font-size="21" text-anchor="end" fill="#3a3a3a">0</text>
<line x1="1463.3" y1="1634.8" x2="1467.3" y2="1634.8" stroke="#333" stroke-width="1"/>
<text x="1460.1" y="1639" font-size="21" text-anchor="end" fill="#3a3a3a">10</text>
<line x1="1463.3" y1="1609.2" x2="1467.3" y2="1609.2" stroke="#333" stroke-width="1"/>
<text x="1460.1" y="1613.5" font-size="21" text-anchor="end" fill="#3a3a3a">20</text>
<line x1="1463.3" y1="1583.6" x2="1467.3" y2="1583.6" stroke="#333" stroke-width="1"/>
<text x="1460.1" y="1587.9" font-size="21" text-anchor="end" fill="#3a3a3a">30</text>
<line x1="1463.3" y1="1558.1" x2="1467.3" y2="1558.1" stroke="#333" stroke-width="1"/>
<text x="1460.1" y="1562.4" font-size="21" text-anchor="end" fill="#3a3a3a">40</text>
<line x1="1516.9" y1="1666.1" x2="1516.9" y2="1670.1" stroke="#333" stroke-width="1"/>
<text x="1525.9" y="1682.5" font-size="21" text-anchor="middle" fill="#3a3a3a">−200</text>
<line x1="1584.7" y1="1666.1" x2="1584.7" y2="1670.1" stroke="#333" stroke-width="1"/>
<text x="1587.1" y="1682.5" font-size="21" text-anchor="middle" fill="#3a3a3a">0</text>
<line x1="1652.5" y1="1666.1" x2="1652.5" y2="1670.1" stroke="#333" stroke-width="1"/>
<text x="1658.5" y="1682.5" font-size="21" text-anchor="middle" fill="#3a3a3a">200</text>
<text x="1467.5" y="1527.3" font-size="21" fill="#111">ONECUT1</text>
<text x="1598.9" y="1700.6" font-size="21" text-anchor="middle" fill="#111">Position</text>
<line x1="1760.4" y1="1643.3" x2="2005.3" y2="1643.3" stroke="#e6e6e6" stroke-width="0.8"/>
<line x1="1760.4" y1="1608.5" x2="2005.3" y2="1608.5" stroke="#e6e6e6" stroke-width="0.8"/>
<line x1="1760.4" y1="1573.5" x2="2005.3" y2="1573.5" stroke="#e6e6e6" stroke-width="0.8"/>
<line x1="1797" y1="1540" x2="1797" y2="1666.1" stroke="#e6e6e6" stroke-width="0.8"/>
<line x1="1854.3" y1="1540" x2="1854.3" y2="1666.1" stroke="#e6e6e6" stroke-width="0.8"/>
<line x1="1911.5" y1="1540" x2="1911.5" y2="1666.1" stroke="#e6e6e6" stroke-width="0.8"/>
<line x1="1968.8" y1="1540" x2="1968.8" y2="1666.1" stroke="#e6e6e6" stroke-width="0.8"/>
<line x1="1760.4" y1="1660.8" x2="2005.3" y2="1660.8" stroke="#e6e6e6" stroke-width="1.3"/>
<line x1="1760.4" y1="1625.9" x2="2005.3" y2="1625.9" stroke="#e6e6e6" stroke-width="1.3"/>
<line x1="1760.4" y1="1591" x2="2005.3" y2="1591" stroke="#e6e6e6" stroke-width="1.3"/>
<line x1="1760.4" y1="1556.1" x2="2005.3" y2="1556.1" stroke="#e6e6e6" stroke-width="1.3"/>
<line x1="1768.4" y1="1540" x2="1768.4" y2="1666.1" stroke="#e6e6e6" stroke-width="1.3"/>
<line x1="1825.7" y1="1540" x2="1825.7" y2="1666.1" stroke="#e6e6e6" stroke-width="1.3"/>
<line x1="1882.9" y1="1540" x2="1882.9" y2="1666.1" stroke="#e6e6e6" stroke-width="1.3"/>
<line x1="1940.1" y1="1540" x2="1940.1" y2="1666.1" stroke="#e6e6e6" stroke-width="1.3"/>
<line x1="1997.4" y1="1540" x2="1997.4" y2="1666.1" stroke="#e6e6e6" stroke-width="1.3"/>
<clipPath id="fc7"><rect x="1760.4" y="1540" width="244.9" height="126.1"/></clipPath>
<g clip-path="url(#fc7)">
<path d="M1774.1 1660.8 L1778.7 1660.7 L1783.3 1660.8 L1787.9 1660.3 L1792.5 1659.7 L1797 1660.7 L1801.6 1660.8 L1806.2 1660.8 L1810.8 1660.7 L1815.4 1660.8 L1819.9 1660.4 L1824.5 1660.8 L1829.1 1660 L1833.7 1659.6 L1838.3 1660.8 L1842.8 1659.6 L1847.4 1658.9 L1852 1658.9 L1856.6 1658.9 L1861.1 1658.8 L1865.7 1658.4 L1870.3 1658.2 L1874.9 1658.7 L1879.5 1658.4 L1884 1657.4 L1888.6 1656.4 L1893.2 1658.1 L1897.8 1659.3 L1902.4 1658.4 L1906.9 1657.8 L1911.5 1659.9 L1916.1 1659.8 L1920.7 1660 L1925.3 1659.6 L1929.8 1660.6 L1934.4 1660.4 L1939 1660.1 L1943.6 1660.6 L1948.2 1660.7 L1952.7 1660.6 L1957.3 1660.8 L1961.9 1660.2 L1966.5 1660.7 L1971 1660.8 L1975.6 1660.7 L1980.2 1660.8 L1984.8 1660.3 L1989.4 1660.8" stroke="#4DC0CA" stroke-width="1.4" fill="none" stroke-linejoin="round"/>
<path d="M1774.1 1660.8 L1778.7 1660.6 L1783.3 1660.5 L1787.9 1660.8 L1792.5 1660.8 L1797 1660.8 L1801.6 1660.8 L1806.2 1660.1 L1810.8 1660.5 L1815.4 1660.7 L1819.9 1660.8 L1824.5 1660.5 L1829.1 1660.7 L1833.7 1660.7 L1838.3 1659.2 L1842.8 1659 L1847.4 1660.5 L1852 1658.5 L1856.6 1656.8 L1861.1 1659.3 L1865.7 1655.5 L1870.3 1654.9 L1874.9 1656.7 L1879.5 1655.9 L1884 1654.8 L1888.6 1652.2 L1893.2 1656.6 L1897.8 1657.1 L1902.4 1658.7 L1906.9 1656.9 L1911.5 1657.7 L1916.1 1660.1 L1920.7 1660.1 L1925.3 1657.5 L1929.8 1659.7 L1934.4 1660.6 L1939 1660 L1943.6 1659.9 L1948.2 1660.6 L1952.7 1659.6 L1957.3 1659.8 L1961.9 1660.7 L1966.5 1660.3 L1971 1660 L1975.6 1660.8 L1980.2 1660.7 L1984.8 1660.3 L1989.4 1660.8" stroke="#3F72B5" stroke-width="1.4" fill="none" stroke-linejoin="round"/>
<path d="M1774.1 1660.2 L1778.7 1660.5 L1783.3 1660.8 L1787.9 1660.1 L1792.5 1660.8 L1797 1659.5 L1801.6 1660.8 L1806.2 1660.8 L1810.8 1659.9 L1815.4 1660.8 L1819.9 1660.7 L1824.5 1660 L1829.1 1659.7 L1833.7 1659.7 L1838.3 1659.2 L1842.8 1657.5 L1847.4 1657.5 L1852 1658.1 L1856.6 1657.6 L1861.1 1654.5 L1865.7 1650.8 L1870.3 1656.8 L1874.9 1654.6 L1879.5 1649.2 L1884 1652.4 L1888.6 1654.6 L1893.2 1651.3 L1897.8 1653.3 L1902.4 1654.8 L1906.9 1653.1 L1911.5 1656.4 L1916.1 1655.7 L1920.7 1656.8 L1925.3 1656 L1929.8 1657.1 L1934.4 1659.9 L1939 1659.7 L1943.6 1660.8 L1948.2 1660.7 L1952.7 1659.9 L1957.3 1660.3 L1961.9 1660.7 L1966.5 1660.8 L1971 1660.7 L1975.6 1660.8 L1980.2 1660.8 L1984.8 1659.8 L1989.4 1660.1" stroke="#5A3F98" stroke-width="1.4" fill="none" stroke-linejoin="round"/>
<path d="M1774.1 1659.9 L1778.7 1660.3 L1783.3 1660.2 L1787.9 1660.8 L1792.5 1660.2 L1797 1660.8 L1801.6 1660.8 L1806.2 1660.8 L1810.8 1660.5 L1815.4 1660.2 L1819.9 1660 L1824.5 1659.5 L1829.1 1659.7 L1833.7 1658.3 L1838.3 1656.8 L1842.8 1655.9 L1847.4 1658.3 L1852 1651.9 L1856.6 1650 L1861.1 1650.8 L1865.7 1647.3 L1870.3 1650 L1874.9 1647 L1880.3 1643.3 L1881.8 1615.4 L1882.9 1646.8 L1888.6 1647 L1893.2 1645 L1897.8 1649.6 L1902.4 1649.4 L1906.9 1654.1 L1911.5 1651.5 L1916.1 1654.9 L1920.7 1654.5 L1925.3 1656.8 L1929.8 1660.1 L1934.4 1658.2 L1939 1657.7 L1943.6 1659.9 L1948.2 1660.3 L1952.7 1660.3 L1957.3 1660.8 L1961.9 1660.8 L1966.5 1660.8 L1971 1660.8 L1975.6 1660.8 L1980.2 1660.6 L1984.8 1659.6 L1989.4 1660.6" stroke="#F4B3C2" stroke-width="1.4" fill="none" stroke-linejoin="round"/>
<path d="M1774.1 1660.8 L1778.7 1660.8 L1783.3 1660.8 L1787.9 1660.8 L1792.5 1660 L1797 1660.1 L1801.6 1660.8 L1806.2 1660.4 L1810.8 1660.1 L1815.4 1660.8 L1819.9 1659.3 L1824.5 1659.8 L1829.1 1660.8 L1833.7 1659 L1838.3 1657.1 L1842.8 1656.3 L1847.4 1654.1 L1852 1652.9 L1856.6 1650 L1861.1 1646.2 L1865.7 1645.4 L1870.3 1642.7 L1874.9 1638.7 L1879.5 1635.5 L1884 1639.1 L1888.6 1635.2 L1893.2 1640 L1897.8 1638.4 L1902.4 1635.2 L1906.9 1645.1 L1911.5 1646.8 L1916.1 1648.5 L1920.7 1651.1 L1925.3 1653 L1929.8 1653.8 L1934.4 1656.7 L1939 1655.6 L1943.6 1658.8 L1948.2 1659.1 L1952.7 1660.8 L1957.3 1659.3 L1961.9 1659.9 L1966.5 1660.8 L1971 1660.4 L1975.6 1660.8 L1980.2 1660.8 L1984.8 1660.8 L1989.4 1660.8" stroke="#F5B041" stroke-width="1.4" fill="none" stroke-linejoin="round"/>
<path d="M1774.1 1660.8 L1778.7 1660.8 L1783.3 1660.3 L1787.9 1659.9 L1792.5 1660.8 L1797 1659.3 L1801.6 1660.3 L1806.2 1660.8 L1810.8 1660.8 L1815.4 1659.4 L1819.9 1660.8 L1824.5 1660.2 L1829.1 1659.3 L1833.7 1656 L1838.3 1657.9 L1842.8 1653.7 L1847.4 1653.9 L1852 1648.3 L1856.6 1645.9 L1861.1 1642.5 L1865.7 1641.3 L1870.3 1634 L1874.9 1636 L1879.5 1635 L1884 1631.2 L1888.6 1633.9 L1893.2 1629 L1897.8 1630.7 L1902.4 1634.7 L1906.9 1637.5 L1911.5 1637.8 L1916.1 1645.8 L1920.7 1647.1 L1925.3 1649.2 L1929.8 1651.8 L1934.4 1654.2 L1939 1656.2 L1943.6 1656.6 L1948.2 1657.9 L1952.7 1658.4 L1957.3 1659.5 L1961.9 1660.8 L1966.5 1660.8 L1971 1660.8 L1975.6 1660.8 L1980.2 1660.8 L1984.8 1660.4 L1989.4 1660.6" stroke="#EC6A2E" stroke-width="1.4" fill="none" stroke-linejoin="round"/>
<path d="M1774.1 1660.4 L1811.4 1659 L1825.7 1654.1 L1840 1650.3 L1848.6 1654.9 L1854.3 1639.9 L1860 1645.8 L1868.6 1633.5 L1874.3 1624.6 L1880 1602 L1885.8 1608.9 L1891.5 1619.9 L1897.2 1616.4 L1902.9 1632.7 L1911.5 1643.5 L1920.1 1649.4 L1928.7 1650.6 L1940.1 1655.1 L1954.5 1658.2 L1991.7 1660.7" stroke="#E2454B" stroke-width="1.4" fill="none" stroke-linejoin="round"/>
<path d="M1774.1 1660.8 L1785.6 1660.5 L1794.2 1655.8 L1799.9 1660.1 L1808.5 1654.8 L1817.1 1654.8 L1822.8 1655.2 L1831.4 1648.1 L1837.1 1646.7 L1842.8 1637.7 L1848.6 1642.2 L1854.3 1627.2 L1862.9 1605.3 L1871.5 1583.6 L1877.2 1556.1 L1880 1545.9 L1884.3 1566.4 L1888.6 1571.2 L1894.3 1567.6 L1900.1 1583.9 L1905.8 1608.4 L1911.5 1615.3 L1920.1 1639.6 L1925.8 1639.4 L1934.4 1640.5 L1940.1 1647.1 L1948.7 1653.9 L1957.3 1657.5 L1965.9 1656.5 L1977.3 1659.9 L1991.7 1660.8" stroke="#2E9547" stroke-width="1.4" fill="none" stroke-linejoin="round"/>
</g>
<rect x="1760.4" y="1540" width="244.9" height="126.1" fill="none" stroke="#555" stroke-width="1.5"/>
<line x1="1756.4" y1="1660.8" x2="1760.4" y2="1660.8" stroke="#333" stroke-width="1"/>
<text x="1753.2" y="1665.1" font-size="21" text-anchor="end" fill="#3a3a3a">0</text>
<line x1="1756.4" y1="1625.9" x2="1760.4" y2="1625.9" stroke="#333" stroke-width="1"/>
<text x="1753.2" y="1630.2" font-size="21" text-anchor="end" fill="#3a3a3a">50</text>
<line x1="1756.4" y1="1591" x2="1760.4" y2="1591" stroke="#333" stroke-width="1"/>
<text x="1753.2" y="1595.3" font-size="21" text-anchor="end" fill="#3a3a3a">100</text>
<line x1="1756.4" y1="1556.1" x2="1760.4" y2="1556.1" stroke="#333" stroke-width="1"/>
<text x="1753.2" y="1560.4" font-size="21" text-anchor="end" fill="#3a3a3a">150</text>
<line x1="1768.4" y1="1666.1" x2="1768.4" y2="1670.1" stroke="#333" stroke-width="1"/>
<text x="1777.4" y="1682.5" font-size="21" text-anchor="middle" fill="#3a3a3a">−400</text>
<line x1="1825.7" y1="1666.1" x2="1825.7" y2="1670.1" stroke="#333" stroke-width="1"/>
<text x="1834.7" y="1682.5" font-size="21" text-anchor="middle" fill="#3a3a3a">−200</text>
<line x1="1882.9" y1="1666.1" x2="1882.9" y2="1670.1" stroke="#333" stroke-width="1"/>
<text x="1885.3" y="1682.5" font-size="21" text-anchor="middle" fill="#3a3a3a">0</text>
<line x1="1940.1" y1="1666.1" x2="1940.1" y2="1670.1" stroke="#333" stroke-width="1"/>
<text x="1946.1" y="1682.5" font-size="21" text-anchor="middle" fill="#3a3a3a">200</text>
<line x1="1997.4" y1="1666.1" x2="1997.4" y2="1670.1" stroke="#333" stroke-width="1"/>
<text x="2003.4" y="1682.5" font-size="21" text-anchor="middle" fill="#3a3a3a">400</text>
<text x="1760.6" y="1527.3" font-size="21" fill="#111">CEBPA</text>
<text x="1892.3" y="1700.6" font-size="21" text-anchor="middle" fill="#111">Position</text>
<text x="815.5" y="1377" font-size="21" text-anchor="middle" fill="#111" transform="rotate(-90 815.5 1377)">Frequency</text>
<text x="815.5" y="1591" font-size="21" text-anchor="middle" fill="#111" transform="rotate(-90 815.5 1591)">Frequency</text>
<text x="1034.8" y="1726.4" font-size="21" fill="#2E9547">HNF4A</text>
<text x="1121.2" y="1726.4" font-size="21" fill="#3F72B5">CEBPA</text>
<text x="1216.3" y="1726.4" font-size="21" fill="#E2454B">FOXA1</text>
<text x="1304.1" y="1726.4" font-size="21" fill="#5A3F98">ONECUT1</text>
<text x="1418.7" y="1726.4" font-size="21" fill="#F5B041">HNF1A</text>
<text x="1502.8" y="1726.4" font-size="21" fill="#F4B3C2">TBX3</text>
<text x="1576.8" y="1726.4" font-size="21" fill="#EC6A2E">TCF7L1</text>
<text x="1666.8" y="1726.4" font-size="21" fill="#4DC0CA">NFIB</text>
<text x="804.5" y="1308.1" font-size="29" font-weight="bold">f</text>
</svg></body></html>
